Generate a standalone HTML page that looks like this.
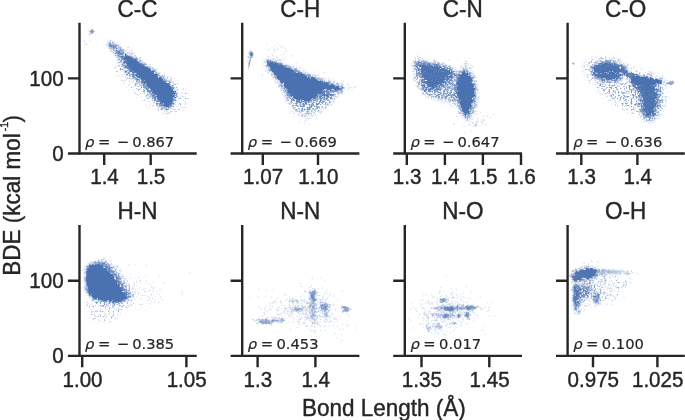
<!DOCTYPE html>
<html><head><meta charset="utf-8"><title>BDE vs Bond Length</title>
<style>html,body{margin:0;padding:0;background:#fff}svg{display:block}</style>
</head><body>
<svg width="685" height="420" viewBox="0 0 685 420">
<rect width="685" height="420" fill="#fff"/>
<defs><filter id="b" x="-10%" y="-10%" width="120%" height="120%"><feTurbulence type="fractalNoise" baseFrequency="0.35" numOctaves="2" seed="3" result="n"/><feDisplacementMap in="SourceGraphic" in2="n" scale="5" xChannelSelector="R" yChannelSelector="G"/><feGaussianBlur stdDeviation="0.5"/></filter><filter id="h" x="-15%" y="-15%" width="130%" height="130%"><feTurbulence type="fractalNoise" baseFrequency="0.3" numOctaves="2" seed="8" result="n"/><feDisplacementMap in="SourceGraphic" in2="n" scale="7" xChannelSelector="R" yChannelSelector="G"/><feGaussianBlur stdDeviation="1.3"/></filter><filter id="t8" x="-15%" y="-15%" width="130%" height="130%"><feTurbulence type="fractalNoise" baseFrequency="0.3" numOctaves="2" seed="8" result="n"/><feDisplacementMap in="SourceGraphic" in2="n" scale="7" xChannelSelector="R" yChannelSelector="G" result="s"/><feGaussianBlur in="s" stdDeviation="1.5" result="sb"/><feTurbulence type="fractalNoise" baseFrequency="0.55" numOctaves="2" seed="21" result="m"/><feColorMatrix in="m" type="matrix" values="0 0 0 0 0 0 0 0 0 0 0 0 0 0 0 0 0 0 5 -2.95" result="a"/><feComposite in="sb" in2="a" operator="in"/><feGaussianBlur stdDeviation="0.35"/></filter><filter id="t15" x="-15%" y="-15%" width="130%" height="130%"><feTurbulence type="fractalNoise" baseFrequency="0.3" numOctaves="2" seed="8" result="n"/><feDisplacementMap in="SourceGraphic" in2="n" scale="7" xChannelSelector="R" yChannelSelector="G" result="s"/><feGaussianBlur in="s" stdDeviation="1.5" result="sb"/><feTurbulence type="fractalNoise" baseFrequency="0.55" numOctaves="2" seed="21" result="m"/><feColorMatrix in="m" type="matrix" values="0 0 0 0 0 0 0 0 0 0 0 0 0 0 0 0 0 0 5 -2.7" result="a"/><feComposite in="sb" in2="a" operator="in"/><feGaussianBlur stdDeviation="0.35"/></filter><filter id="t30" x="-15%" y="-15%" width="130%" height="130%"><feTurbulence type="fractalNoise" baseFrequency="0.3" numOctaves="2" seed="8" result="n"/><feDisplacementMap in="SourceGraphic" in2="n" scale="7" xChannelSelector="R" yChannelSelector="G" result="s"/><feGaussianBlur in="s" stdDeviation="1.5" result="sb"/><feTurbulence type="fractalNoise" baseFrequency="0.55" numOctaves="2" seed="21" result="m"/><feColorMatrix in="m" type="matrix" values="0 0 0 0 0 0 0 0 0 0 0 0 0 0 0 0 0 0 5 -2.37" result="a"/><feComposite in="sb" in2="a" operator="in"/><feGaussianBlur stdDeviation="0.35"/></filter><filter id="t50" x="-15%" y="-15%" width="130%" height="130%"><feTurbulence type="fractalNoise" baseFrequency="0.3" numOctaves="2" seed="8" result="n"/><feDisplacementMap in="SourceGraphic" in2="n" scale="7" xChannelSelector="R" yChannelSelector="G" result="s"/><feGaussianBlur in="s" stdDeviation="1.5" result="sb"/><feTurbulence type="fractalNoise" baseFrequency="0.55" numOctaves="2" seed="21" result="m"/><feColorMatrix in="m" type="matrix" values="0 0 0 0 0 0 0 0 0 0 0 0 0 0 0 0 0 0 5 -2.0" result="a"/><feComposite in="sb" in2="a" operator="in"/><feGaussianBlur stdDeviation="0.35"/></filter><filter id="t70" x="-15%" y="-15%" width="130%" height="130%"><feTurbulence type="fractalNoise" baseFrequency="0.3" numOctaves="2" seed="8" result="n"/><feDisplacementMap in="SourceGraphic" in2="n" scale="7" xChannelSelector="R" yChannelSelector="G" result="s"/><feGaussianBlur in="s" stdDeviation="1.5" result="sb"/><feTurbulence type="fractalNoise" baseFrequency="0.55" numOctaves="2" seed="21" result="m"/><feColorMatrix in="m" type="matrix" values="0 0 0 0 0 0 0 0 0 0 0 0 0 0 0 0 0 0 5 -1.65" result="a"/><feComposite in="sb" in2="a" operator="in"/><feGaussianBlur stdDeviation="0.35"/></filter><filter id="t85" x="-15%" y="-15%" width="130%" height="130%"><feTurbulence type="fractalNoise" baseFrequency="0.3" numOctaves="2" seed="8" result="n"/><feDisplacementMap in="SourceGraphic" in2="n" scale="7" xChannelSelector="R" yChannelSelector="G" result="s"/><feGaussianBlur in="s" stdDeviation="1.5" result="sb"/><feTurbulence type="fractalNoise" baseFrequency="0.55" numOctaves="2" seed="21" result="m"/><feColorMatrix in="m" type="matrix" values="0 0 0 0 0 0 0 0 0 0 0 0 0 0 0 0 0 0 5 -1.3" result="a"/><feComposite in="sb" in2="a" operator="in"/><feGaussianBlur stdDeviation="0.35"/></filter></defs>
<g>
<path d="M164.3 75.2L169.0 76.7L173.5 78.6L177.5 81.0L181.2 83.8L184.5 87.1L187.0 90.8L188.7 94.9L189.5 99.3L189.5 104.0L188.5 107.9L186.3 110.7L183.1 112.6L178.8 113.6L174.6 114.3L170.6 114.8L166.7 115.0L162.9 115.0L158.8 113.9L154.5 111.8L150.0 108.6L145.2 104.3L140.7 100.2L136.4 96.4L132.4 92.9L128.6 89.5L125.0 86.0L121.7 82.1L118.6 78.1L115.7 73.8L114.3 70.5L114.3 68.1L115.7 66.7L118.6 66.2L122.9 66.3L128.6 67.0L135.7 68.3L144.3 70.2L151.9 72.0L158.6 73.7Z" fill="#4c72b0" fill-opacity="0.5" filter="url(#t8)"/>
<path d="M109.9 41.5L112.0 42.4L114.2 43.4L116.5 44.8L118.8 46.4L121.2 48.3L123.7 50.1L126.3 51.8L129.0 53.3L131.9 54.8L134.9 56.4L138.0 58.2L141.2 60.1L144.5 62.3L147.9 64.5L151.2 66.9L154.5 69.4L157.9 72.0L161.0 74.5L164.0 76.7L166.8 78.8L169.4 80.7L171.7 82.7L173.6 84.7L175.1 86.8L176.3 88.9L177.2 91.1L177.9 93.4L178.2 95.7L178.3 98.1L178.1 100.4L177.7 102.6L176.9 104.7L175.9 106.7L174.6 108.4L173.1 109.8L171.4 111.0L169.5 111.8L167.6 112.3L165.7 112.3L163.8 112.0L161.9 111.3L159.9 110.1L157.9 108.5L155.8 106.3L153.7 103.7L151.4 101.0L148.9 98.1L146.2 95.1L143.3 92.0L140.4 89.0L137.4 86.2L134.4 83.5L131.3 80.8L128.5 78.3L126.0 75.8L123.8 73.3L121.9 71.0L120.4 68.7L119.2 66.5L118.5 64.5L118.1 62.6L117.4 60.7L116.5 58.6L115.2 56.5L113.7 54.4L112.2 52.3L110.8 50.3L109.4 48.3L108.1 46.4L107.1 44.8L106.5 43.4L106.3 42.4L106.5 41.5L107.1 41.1L108.2 41.1Z" fill="#4c72b0" fill-opacity="0.6" filter="url(#t30)"/>
<path d="M111.3 43.7L112.5 44.4L113.7 45.2L114.9 46.0L116.1 46.9L117.3 47.9L118.5 48.9L119.6 49.9L120.8 51.1L122.0 52.3L123.3 53.3L124.6 54.1L126.0 54.8L127.4 55.2L128.8 55.8L130.2 56.5L131.7 57.4L133.1 58.3L134.5 59.3L136.0 60.2L137.4 61.2L138.8 62.1L140.3 63.1L141.8 64.0L143.5 65.0L145.1 66.0L146.8 67.0L148.5 68.0L150.1 69.2L151.8 70.4L153.5 71.6L155.1 72.9L156.8 74.3L158.5 75.7L160.1 77.1L161.8 78.4L163.5 79.6L165.1 80.8L166.7 82.0L168.1 83.2L169.4 84.4L170.6 85.6L171.6 86.8L172.5 88.2L173.2 89.5L173.8 91.0L174.2 92.4L174.5 93.8L174.5 95.2L174.4 96.7L174.2 98.0L173.8 99.3L173.2 100.6L172.5 101.8L171.8 102.9L171.1 104.0L170.4 105.0L169.6 106.0L168.9 106.8L168.2 107.5L167.5 108.1L166.8 108.6L166.1 108.8L165.4 108.8L164.6 108.6L163.9 108.1L163.2 107.5L162.3 106.8L161.4 106.0L160.5 105.0L159.5 104.0L158.6 102.9L157.6 101.8L156.7 100.6L155.7 99.3L154.6 98.0L153.5 96.7L152.3 95.2L151.1 93.8L149.9 92.4L148.7 91.0L147.5 89.5L146.3 88.2L145.1 86.8L143.9 85.6L142.7 84.4L141.5 83.2L140.4 82.0L139.2 80.8L138.0 79.6L136.7 78.5L135.4 77.3L134.0 76.1L132.6 74.9L131.2 73.8L129.9 72.7L128.7 71.7L127.5 70.7L126.4 69.7L125.4 68.6L124.5 67.5L123.7 66.3L123.0 65.1L122.6 63.9L122.3 62.7L122.1 61.5L121.8 60.4L121.4 59.2L120.8 58.0L120.1 56.8L119.3 55.7L118.5 54.6L117.6 53.6L116.7 52.6L115.7 51.7L114.8 50.7L113.8 49.8L112.9 48.8L112.0 47.9L111.1 46.9L110.4 46.0L109.6 45.0L109.2 44.2L108.9 43.6L108.9 43.2L109.2 43.0L109.6 43.0L110.4 43.2Z" fill="#4c72b0" fill-opacity="0.95" filter="url(#t85)"/>
<path d="M126.0 55.3L127.4 55.7L128.8 56.2L130.2 56.9L131.7 57.8L133.1 58.7L134.5 59.7L136.0 60.6L137.4 61.6L138.8 62.5L140.3 63.5L141.8 64.4L143.5 65.4L145.1 66.3L146.8 67.3L148.5 68.4L150.1 69.5L151.8 70.7L153.5 72.0L155.1 73.3L156.8 74.7L158.5 76.1L160.1 77.5L161.8 78.8L163.5 80.0L165.1 81.2L166.6 82.4L168.0 83.6L169.3 84.8L170.4 86.0L171.3 87.2L172.2 88.5L172.9 89.8L173.4 91.1L173.8 92.5L174.1 93.8L174.1 95.2L174.0 96.7L173.8 98.0L173.4 99.3L172.8 100.5L172.1 101.5L171.4 102.6L170.7 103.6L170.0 104.5L169.3 105.3L168.6 106.0L167.9 106.6L167.3 107.0L166.6 107.3L166.0 107.3L165.4 107.1L164.8 106.5L164.2 105.7L163.5 104.9L162.9 104.0L162.2 103.1L161.6 102.1L160.8 101.1L160.0 100.0L159.1 98.8L158.2 97.5L157.2 96.2L156.2 94.9L155.1 93.6L154.0 92.2L152.9 90.9L151.8 89.6L150.6 88.2L149.4 86.9L148.2 85.6L147.0 84.3L145.8 83.0L144.6 81.7L143.5 80.4L142.3 79.2L141.1 78.0L139.9 76.8L138.7 75.6L137.4 74.4L136.1 73.2L134.8 72.0L133.5 70.9L132.3 69.8L131.2 68.7L130.1 67.6L129.2 66.6L128.4 65.5L127.6 64.4L127.0 63.3L126.5 62.2L125.9 61.2L125.5 60.1L125.0 59.0L124.7 58.1L124.4 57.2L124.2 56.4L124.0 55.7L124.3 55.3L124.9 55.1Z" fill="#4c72b0" fill-opacity="1.0" filter="url(#b)"/>
<path d="M170.9 80.3h0M139.8 81.8h0M169.6 105.6h0M160.4 77.5h0M123.4 52.8h0M149.2 68.7h0M154.0 70.5h0M157.5 75.2h0M148.1 68.0h0M171.6 103.2h0M160.7 105.5h0M174.5 97.3h0M171.3 103.8h0M118.0 48.2h0M136.6 83.5h0M148.7 91.4h0M155.7 99.7h0M169.6 81.1h0M121.0 48.0h0M121.0 57.9h0M136.8 60.6h0M123.4 50.3h0M161.1 105.7h0M122.0 64.5h0M166.2 81.9h0M128.1 47.6h0M134.6 77.1h0M151.8 95.8h0M130.5 56.6h0M120.6 51.1h0M158.6 73.7h0M170.5 104.6h0M166.8 111.2h0M133.8 58.3h0M120.7 50.8h0M147.0 66.5h0M118.9 59.6h0M109.9 44.9h0M169.4 81.6h0M121.2 51.0h0M173.4 87.1h0M121.4 62.0h0M122.5 49.2h0M156.8 74.3h0M161.2 77.3h0M125.8 76.8h0M132.0 54.7h0M175.3 92.0h0M147.4 89.6h0M120.9 47.7h0M170.3 85.2h0M174.7 97.2h0M165.3 79.0h0M159.7 76.0h0M168.5 107.6h0M147.9 89.7h0M167.9 81.5h0M170.1 81.1h0M143.9 86.1h0M161.6 76.9h0M153.0 96.7h0M171.1 108.5h0M129.8 56.2h0M160.7 105.3h0M137.7 61.7h0M161.4 107.5h0M159.5 104.5h0M115.1 68.0h0M148.1 90.9h0M156.8 72.6h0M123.2 52.3h0M118.1 45.8h0M152.2 68.0h0M137.1 79.8h0M147.0 95.8h0M136.4 57.6h0M124.1 67.5h0M157.2 105.9h0M166.6 80.8h0M115.3 46.7h0M159.9 75.7h0M134.9 79.1h0M135.7 78.2h0M117.1 52.9h0M174.5 95.7h0M173.3 87.4h0M115.2 51.1h0M129.1 72.9h0M137.8 83.2h0M116.3 52.5h0M109.3 44.0h0M155.4 100.0h0M115.2 44.7h0M127.9 53.3h0M108.8 45.2h0M150.6 67.0h0M121.3 60.8h0M174.5 96.4h0M110.6 43.4h0M131.7 57.6h0" stroke="#4c72b0" stroke-opacity="0.3" stroke-width="1.5" stroke-linecap="round" fill="none"/>
<path d="M119.9 50.5h0M156.5 73.0h0M142.3 64.2h0M115.1 53.4h0M149.8 94.7h0M131.3 56.5h0M127.0 74.8h0M139.0 61.0h0M117.8 55.4h0M131.3 74.4h0M145.6 66.4h0M123.5 52.6h0M131.8 57.5h0M161.9 106.9h0M170.5 106.9h0M166.5 109.3h0M147.5 67.4h0M171.9 85.6h0M141.4 85.0h0M117.0 55.0h0M171.7 87.2h0M174.4 97.2h0M143.0 84.6h0M158.3 75.5h0M113.5 50.3h0M125.9 53.6h0M136.4 58.5h0M170.6 104.5h0M117.2 58.2h0M164.3 74.7h0M120.6 47.3h0M144.6 87.4h0M132.2 53.0h0M120.4 61.0h0M115.4 46.4h0M143.7 64.5h0M128.0 71.9h0M147.4 89.1h0M151.5 93.9h0M126.3 71.5h0M118.4 62.8h0M140.0 82.5h0M116.4 55.3h0M110.0 47.2h0M116.3 52.7h0M157.7 75.0h0M175.0 97.7h0M119.4 46.1h0M155.7 99.1h0M170.9 105.6h0M133.3 56.4h0M120.8 58.5h0M156.6 102.3h0M162.5 106.9h0M134.5 77.0h0M136.3 80.9h0M134.7 59.4h0M172.3 88.4h0M169.9 82.7h0M152.2 97.7h0M152.9 70.0h0M171.0 79.0h0M109.9 45.7h0M121.9 66.7h0M138.1 80.0h0M137.0 61.2h0M164.2 109.0h0M129.4 72.1h0M157.6 101.4h0M175.1 93.7h0M111.0 48.3h0M113.1 52.6h0M126.0 54.9h0M166.2 80.8h0M152.2 95.5h0M120.8 51.4h0M143.7 87.0h0M174.5 88.8h0M135.8 56.9h0M139.9 60.9h0M133.2 75.1h0M115.0 45.5h0M113.1 44.6h0M120.3 56.8h0M127.0 70.2h0M172.8 100.8h0M164.1 75.0h0M163.3 79.0h0M134.1 57.9h0M158.4 108.6h0M115.7 45.6h0M151.6 68.7h0M176.4 100.9h0M171.9 86.0h0M132.6 57.4h0M123.4 65.8h0M145.7 88.4h0M136.1 58.4h0M175.3 91.1h0M125.9 71.3h0" stroke="#4c72b0" stroke-opacity="0.3" stroke-width="1.5" stroke-linecap="round" fill="none"/>
<path d="M173.6 85.2h0M173.5 100.3h0M120.0 56.7h0M135.8 59.2h0M132.4 75.6h0M118.8 49.2h0M144.0 64.2h0M125.3 50.5h0M163.4 108.3h0M115.0 50.9h0M124.6 49.8h0M156.7 100.9h0M132.9 78.5h0M174.5 99.3h0M137.6 94.4h0M147.1 89.5h0M169.2 83.9h0M152.6 98.4h0M135.8 60.5h0M132.6 57.8h0M153.9 97.5h0M143.1 85.5h0M110.8 46.4h0M137.3 59.3h0M115.9 45.9h0M116.4 46.2h0M155.0 100.6h0M174.5 92.4h0M139.7 83.4h0M173.9 91.0h0M153.7 103.0h0M113.1 49.8h0M154.9 99.3h0M173.1 81.7h0M171.0 106.5h0M174.7 94.2h0M156.0 73.6h0M133.5 75.6h0M138.3 59.1h0M126.4 73.1h0M129.6 55.9h0M175.0 109.4h0M136.4 79.5h0M173.9 99.8h0M149.4 97.7h0M131.4 51.1h0M160.1 77.2h0M142.4 64.6h0M110.4 45.7h0M130.8 55.0h0M166.7 109.9h0M115.8 44.7h0M117.4 56.5h0M137.0 58.4h0M119.7 57.0h0M123.0 53.4h0M141.5 63.7h0M147.7 91.5h0M164.4 108.6h0M154.5 97.9h0M155.8 73.3h0M141.6 62.8h0M172.7 89.0h0M121.7 51.6h0M125.2 71.7h0M160.4 76.7h0M153.2 97.0h0M120.4 56.7h0M117.9 44.9h0M110.6 40.4h0M130.7 76.8h0M120.1 57.1h0M140.3 60.7h0M169.3 107.5h0M171.4 86.5h0M173.1 101.1h0M169.9 112.8h0M120.0 56.1h0M161.5 108.6h0M159.9 104.7h0M132.2 75.1h0M170.5 105.8h0M117.3 56.3h0M147.1 88.7h0M137.4 78.9h0M117.1 53.3h0M173.0 102.1h0M125.1 72.7h0M135.0 55.2h0M128.0 72.8h0M176.4 93.9h0M128.4 73.1h0M110.5 42.3h0M125.1 54.6h0M126.8 71.5h0M114.9 46.0h0M145.9 64.3h0M153.2 68.6h0M119.8 59.8h0M139.8 57.7h0" stroke="#4c72b0" stroke-opacity="0.3" stroke-width="1.5" stroke-linecap="round" fill="none"/>
<path d="M91.9 29.8h0M92.4 31.9h0M91.6 30.7h0M91.4 32.3h0M92.6 31.9h0M91.9 31.5h0M91.5 31.4h0M92.7 31.6h0M92.6 31.4h0M92.6 33.2h0M92.1 31.3h0M92.6 31.0h0M91.3 31.9h0M90.0 31.4h0M91.7 31.1h0" stroke="#4c72b0" stroke-opacity="0.35" stroke-width="1.5" stroke-linecap="round" fill="none"/>
<path d="M93.1 31.9h0M92.0 31.9h0M91.1 32.3h0M92.3 30.2h0M92.0 30.6h0M91.6 31.9h0M92.5 32.7h0M91.0 32.1h0M92.2 30.4h0M91.1 31.4h0M91.7 31.8h0M92.0 32.7h0M93.4 31.1h0M91.1 32.2h0M91.9 31.1h0" stroke="#4c72b0" stroke-opacity="0.35" stroke-width="1.5" stroke-linecap="round" fill="none"/>
<path d="M91.7 30.8h0M92.5 30.9h0M89.9 31.3h0M91.1 33.6h0M91.1 30.9h0M93.6 31.6h0M92.6 30.4h0M91.9 31.3h0M92.6 32.0h0M92.0 32.0h0M92.3 32.1h0M91.6 29.9h0M92.5 30.5h0M91.9 30.5h0M92.1 32.0h0" stroke="#4c72b0" stroke-opacity="0.35" stroke-width="1.5" stroke-linecap="round" fill="none"/>
<path d="M90.1 34.8h0M92.6 32.1h0M95.8 34.6h0M89.9 33.5h0" stroke="#4c72b0" stroke-opacity="0.18" stroke-width="1.5" stroke-linecap="round" fill="none"/>
<path d="M90.5 33.8h0M90.1 32.2h0M90.2 31.9h0M89.2 34.3h0" stroke="#4c72b0" stroke-opacity="0.18" stroke-width="1.5" stroke-linecap="round" fill="none"/>
<path d="M93.2 30.0h0M95.1 31.6h0M90.4 40.6h0M88.3 29.7h0" stroke="#4c72b0" stroke-opacity="0.18" stroke-width="1.5" stroke-linecap="round" fill="none"/>
<path d="M84.1 40.9h0M84.8 41.6h0" stroke="#4c72b0" stroke-opacity="0.2" stroke-width="1.5" stroke-linecap="round" fill="none"/>
<path d="M87.0 44.4h0M85.3 44.7h0" stroke="#4c72b0" stroke-opacity="0.2" stroke-width="1.5" stroke-linecap="round" fill="none"/>
<path d="M85.9 43.6h0" stroke="#4c72b0" stroke-opacity="0.2" stroke-width="1.5" stroke-linecap="round" fill="none"/>
</g>
<g>
<path d="M286.9 91.4L289.1 94.3L291.7 96.7L294.6 98.7L297.7 100.3L301.1 101.4L304.4 102.0L307.6 102.0L310.6 101.4L313.4 100.3L316.6 99.3L320.0 98.4L323.7 97.7L327.7 97.1L330.9 97.0L333.1 97.3L334.6 98.0L335.1 99.1L335.0 100.4L334.1 101.9L332.6 103.4L330.3 105.1L327.9 106.9L325.3 108.6L322.6 110.3L319.7 112.0L317.0 113.5L314.4 114.8L312.0 115.9L309.7 116.7L307.4 117.1L305.1 116.9L302.9 116.3L300.6 115.1L298.4 113.8L296.2 112.2L294.1 110.4L292.1 108.4L290.3 106.4L288.6 104.2L287.0 102.0L285.6 99.7L284.5 97.4L283.8 95.1L283.4 92.9L283.4 90.6L284.0 89.6L285.1 89.9Z" fill="#4c72b0" fill-opacity="0.5" filter="url(#t30)"/>
<path d="M267.0 59.5L269.0 59.4L271.6 59.8L274.9 60.7L278.9 62.0L283.4 63.8L288.0 65.7L292.6 67.5L297.1 69.4L301.7 71.3L306.3 73.1L310.9 74.9L315.4 76.6L320.0 78.3L324.6 79.9L329.4 81.4L334.1 83.0L339.0 84.5L342.4 85.9L344.4 87.2L345.0 88.4L344.1 89.5L343.1 90.7L341.8 91.9L340.3 93.1L338.6 94.4L336.7 95.8L334.7 97.3L332.6 98.9L330.3 100.6L328.0 102.2L325.7 103.8L323.4 105.3L321.1 106.7L318.9 107.9L316.6 108.9L314.3 109.7L312.0 110.3L309.6 110.6L307.2 110.6L304.7 110.3L302.1 109.7L299.6 108.9L297.2 107.7L294.9 106.3L292.6 104.6L290.5 102.6L288.6 100.5L287.0 98.1L285.6 95.6L284.1 93.0L282.5 90.4L280.9 87.9L279.1 85.3L277.4 82.7L275.7 80.1L274.0 77.6L272.3 75.0L270.7 72.6L269.2 70.5L267.8 68.6L266.6 66.9L265.6 65.3L264.9 63.9L264.4 62.6L264.3 61.4L264.6 60.5L265.5 59.9Z" fill="#4c72b0" fill-opacity="0.6" filter="url(#t50)"/>
<path d="M323.0 92.2L325.0 92.2L326.9 92.3L328.6 92.6L330.1 93.0L331.6 93.6L332.6 94.2L333.1 94.9L333.3 95.6L333.0 96.3L332.3 96.9L331.1 97.5L329.6 97.9L327.6 98.1L325.6 98.4L323.6 98.5L321.6 98.6L319.6 98.6L318.3 98.2L317.7 97.4L317.9 96.2L318.7 94.6L319.9 93.4L321.3 92.6Z" fill="#4c72b0" fill-opacity="0.9" filter="url(#t85)"/>
<path d="M268.4 61.8L269.9 61.7L271.5 61.8L273.4 62.2L275.4 62.7L277.7 63.5L280.0 64.4L282.3 65.3L284.6 66.3L286.9 67.3L289.1 68.3L291.4 69.4L293.7 70.4L296.0 71.4L298.3 72.4L300.6 73.4L302.9 74.3L305.1 75.1L307.4 76.0L309.7 76.8L312.0 77.7L314.3 78.5L316.6 79.4L318.9 80.2L321.1 81.0L323.4 81.8L325.7 82.6L328.0 83.4L330.3 84.1L332.6 84.9L334.8 85.6L336.9 86.2L339.0 86.7L341.0 87.1L342.3 87.6L342.9 87.9L342.7 88.3L341.9 88.5L340.8 88.8L339.5 89.1L338.0 89.3L336.3 89.5L334.6 89.7L333.1 89.8L331.6 89.9L330.1 89.9L328.8 89.9L327.5 89.8L326.3 89.7L325.1 89.6L324.1 89.7L323.1 90.1L322.1 90.7L321.3 91.6L320.4 92.4L319.6 93.3L318.7 94.1L317.9 95.0L316.9 95.9L315.9 96.7L314.9 97.6L313.7 98.4L312.5 99.2L311.2 99.8L309.9 100.4L308.4 100.9L307.0 101.2L305.6 101.3L304.1 101.3L302.7 101.1L301.3 100.8L299.9 100.5L298.4 100.0L297.0 99.4L295.6 98.8L294.4 98.1L293.1 97.3L292.0 96.4L290.9 95.5L289.9 94.4L289.0 93.2L288.1 91.9L287.3 90.6L286.4 89.3L285.6 88.0L284.7 86.7L283.8 85.4L282.8 84.1L281.7 82.7L280.6 81.3L279.4 79.9L278.3 78.4L277.1 77.0L276.0 75.6L274.9 74.1L273.7 72.7L272.6 71.3L271.4 69.9L270.4 68.6L269.5 67.4L268.7 66.4L268.0 65.6L267.4 64.8L267.0 64.1L266.7 63.4L266.5 62.9L266.8 62.4L267.4 62.1Z" fill="#4c72b0" fill-opacity="1.0" filter="url(#b)"/>
<ellipse cx="251.6" cy="54.3" rx="1.3" ry="1.6" fill="#4c72b0" fill-opacity="0.8"/>
<path d="M251.3 55.0L250.2 60.0L249.3 64.0" stroke="#4c72b0" stroke-opacity="0.55" stroke-width="1.3" stroke-linecap="round" fill="none"/>
<path d="M249.3 64.0L248.0 69.5" stroke="#4c72b0" stroke-opacity="0.3" stroke-width="0.9" stroke-linecap="round" fill="none"/>
<path d="M290.2 68.1h0M321.2 93.0h0M304.7 101.1h0M286.0 93.3h0M309.6 75.2h0M309.9 77.0h0M292.9 96.9h0M319.0 94.7h0M333.7 91.8h0M314.7 98.4h0M305.5 102.3h0M278.8 84.8h0M315.9 75.6h0M308.9 74.2h0M274.5 61.7h0M278.8 78.8h0M273.6 73.0h0M318.9 98.6h0M301.7 73.5h0M340.9 91.6h0M328.4 82.3h0M270.3 60.5h0M268.5 61.7h0M302.3 103.4h0M296.9 99.5h0M321.4 91.0h0M306.4 101.6h0M317.3 79.0h0M290.5 95.2h0M306.9 75.9h0M317.2 97.8h0M304.3 75.0h0M295.9 70.6h0M316.9 97.1h0M270.3 61.4h0M324.9 91.2h0M289.3 67.0h0M316.4 97.2h0M323.4 92.7h0M297.9 100.7h0M314.5 78.9h0M273.1 77.8h0M290.2 68.3h0M323.0 81.4h0M312.0 99.6h0M328.1 83.3h0M330.8 92.5h0M329.3 84.1h0M288.0 66.2h0M337.6 86.5h0M276.7 77.2h0M268.2 72.9h0M280.5 62.9h0M281.5 82.9h0M309.9 101.3h0M289.1 94.8h0M296.4 99.6h0M315.7 79.2h0M308.1 76.3h0M287.8 65.5h0M286.8 98.7h0M328.7 80.3h0M342.1 87.0h0M276.2 62.8h0M323.6 82.0h0M325.1 81.6h0M293.9 98.1h0M287.0 90.2h0M321.1 81.1h0M335.9 90.9h0M270.3 70.8h0M329.6 82.7h0M314.9 99.2h0M333.4 84.2h0M323.8 95.3h0M286.4 67.0h0M324.2 89.8h0M310.4 77.4h0M268.8 67.9h0M315.6 98.0h0M333.2 84.6h0M328.8 83.8h0M326.6 89.8h0M323.5 91.2h0M296.2 99.3h0M330.0 91.3h0M272.2 62.0h0M308.1 101.5h0M266.3 65.2h0M315.7 96.9h0M288.3 67.3h0M293.0 97.3h0M316.5 99.1h0M327.7 82.4h0M322.8 81.8h0M290.6 66.8h0M296.0 68.5h0M300.9 100.5h0M334.0 85.2h0M285.0 65.5h0M290.3 94.7h0M301.9 104.6h0M336.8 85.6h0M332.7 84.5h0M328.6 83.2h0M341.7 88.9h0M298.7 100.7h0M320.2 96.4h0M330.1 84.3h0M307.9 102.7h0M271.7 61.8h0M320.7 92.3h0M281.2 84.5h0M289.3 97.0h0M335.4 90.0h0M285.1 86.9h0M305.2 73.6h0M287.4 93.6h0M286.1 90.1h0M322.5 91.2h0M322.9 95.1h0M322.8 96.0h0M292.3 99.2h0M302.1 104.9h0M312.1 77.2h0M320.8 92.2h0M340.7 89.2h0M287.5 90.8h0M295.2 98.5h0M331.0 90.0h0M269.0 70.2h0M305.8 101.9h0M299.1 101.7h0M329.6 84.0h0M290.3 68.8h0M317.0 105.9h0M288.2 93.0h0M271.7 61.1h0M299.8 101.0h0M296.6 101.3h0M311.0 76.9h0M305.7 102.6h0M275.3 62.3h0M312.6 101.0h0M282.0 83.3h0M328.5 92.5h0M269.4 67.8h0M325.3 82.7h0M312.6 77.6h0M302.5 104.0h0M289.5 93.4h0M322.2 91.4h0M269.3 61.3h0M272.2 71.4h0M286.9 91.1h0M279.1 64.1h0M300.2 72.4h0M311.4 77.1h0M283.0 90.5h0M333.7 91.3h0M335.2 85.4h0M286.7 65.2h0M341.8 86.7h0M311.6 77.7h0M324.1 89.1h0M295.7 103.6h0M341.5 90.2h0M268.3 65.4h0M286.1 95.3h0M316.1 97.7h0M291.5 96.4h0M285.0 89.8h0M309.7 76.8h0M289.8 68.2h0M298.7 108.4h0M308.6 101.9h0M302.9 74.4h0M315.1 103.1h0M324.3 91.7h0M332.5 91.1h0M340.1 89.0h0M327.8 90.7h0M295.0 70.5h0M289.7 97.1h0M322.5 90.3h0M295.1 70.2h0M301.8 74.1h0M280.1 63.7h0M317.5 96.1h0M308.0 75.4h0M298.8 70.5h0M282.0 64.2h0M288.0 91.9h0M316.0 79.1h0M308.3 102.4h0M301.9 74.1h0M298.3 100.1h0M269.0 61.7h0M341.9 91.1h0M295.8 71.0h0" stroke="#4c72b0" stroke-opacity="0.3" stroke-width="1.5" stroke-linecap="round" fill="none"/>
<path d="M282.2 86.3h0M307.9 101.1h0M300.9 73.5h0M286.0 65.7h0M308.4 101.1h0M278.1 63.9h0M270.0 61.0h0M275.8 79.0h0M334.9 85.7h0M278.2 63.8h0M281.1 64.7h0M342.7 87.5h0M321.3 92.1h0M317.0 96.6h0M334.5 89.6h0M322.4 81.5h0M290.9 97.1h0M308.6 76.7h0M337.4 89.5h0M325.9 89.5h0M318.3 94.8h0M299.5 73.2h0M323.0 92.8h0M290.6 97.1h0M334.4 92.7h0M325.7 91.7h0M295.1 98.7h0M281.3 82.4h0M274.5 62.2h0M338.3 89.9h0M280.1 63.2h0M304.0 72.5h0M303.5 74.2h0M288.6 96.8h0M341.5 89.4h0M311.6 104.9h0M288.6 98.3h0M299.5 100.7h0M315.1 98.3h0M322.8 90.2h0M321.1 92.5h0M293.4 99.0h0M276.0 62.9h0M314.4 97.6h0M298.3 72.2h0M290.7 95.6h0M309.3 77.0h0M324.7 81.0h0M306.8 101.1h0M337.9 90.2h0M302.0 73.0h0M327.4 89.7h0M272.0 71.8h0M305.8 101.8h0M302.8 102.5h0M314.0 78.6h0M329.6 89.8h0M267.7 61.8h0M282.8 65.6h0M294.1 70.7h0M336.5 86.2h0M314.0 98.0h0M290.0 95.5h0M298.9 72.1h0M340.6 88.9h0M321.0 98.5h0M271.0 69.3h0M316.8 78.6h0M339.7 89.1h0M296.1 99.0h0M311.9 102.5h0M310.6 100.1h0M322.1 79.3h0M298.9 99.9h0M336.8 86.4h0M331.2 91.6h0M317.5 80.1h0M271.4 74.8h0M332.9 90.0h0M276.7 78.2h0M267.7 67.5h0M275.7 62.2h0M303.2 102.1h0M314.3 97.9h0M330.2 90.0h0M304.3 105.0h0M295.7 103.0h0M318.5 97.3h0M337.2 90.7h0M311.9 102.7h0M314.8 97.7h0M313.0 105.5h0M339.6 90.5h0M323.4 81.6h0M294.3 100.3h0M279.5 63.9h0M321.6 81.3h0M319.2 95.4h0M286.2 93.1h0M301.6 73.7h0M300.1 103.8h0M295.8 70.9h0M289.2 93.2h0M327.2 92.3h0M327.7 82.8h0M293.9 69.3h0M333.0 92.6h0M286.3 93.8h0M334.2 81.7h0M319.4 94.6h0M318.8 95.4h0M330.9 90.4h0M334.9 91.5h0M330.8 84.2h0M309.9 75.7h0M319.3 93.6h0M320.6 92.8h0M268.3 61.1h0M302.0 101.3h0M328.6 91.9h0M317.5 79.9h0M275.6 83.0h0M299.5 72.3h0M308.9 76.2h0M291.1 69.1h0M336.0 85.9h0M303.8 74.6h0M294.6 71.0h0M327.3 83.3h0M296.8 71.7h0M329.5 96.0h0M329.9 91.9h0M267.2 60.4h0M277.1 79.8h0M307.2 101.7h0M304.2 101.3h0M289.0 93.4h0M307.7 101.3h0M289.9 94.1h0M314.5 78.8h0M329.1 89.9h0M330.4 83.1h0M276.0 79.1h0M293.1 68.3h0M302.8 101.4h0M290.6 96.1h0M280.5 81.5h0M331.9 84.4h0M300.0 100.6h0M327.1 83.2h0M301.0 100.9h0M328.5 90.1h0M270.8 70.9h0M331.1 84.6h0M282.6 65.3h0M289.7 94.3h0M275.5 62.8h0M330.7 84.4h0M268.8 66.8h0M312.1 104.1h0M267.9 61.0h0M337.0 91.5h0M333.5 90.2h0M342.7 84.7h0M290.9 69.2h0M309.0 76.0h0M342.8 88.2h0M283.3 64.9h0M268.3 60.3h0M316.6 97.0h0M296.7 101.0h0M309.4 101.1h0M288.8 97.3h0M300.8 101.7h0M331.9 94.6h0M342.6 86.1h0M326.2 90.1h0M334.0 85.0h0M333.1 93.0h0M304.8 102.9h0M275.4 62.7h0M291.4 69.6h0M339.9 89.7h0M328.3 83.3h0M337.4 83.8h0M324.3 82.1h0M342.3 92.0h0M326.7 90.5h0M273.3 61.6h0M291.3 96.1h0M318.7 99.3h0M309.8 75.0h0M268.6 60.4h0M324.6 81.6h0M330.0 90.6h0M331.3 84.6h0M276.5 76.1h0M297.3 103.1h0M301.6 73.0h0M330.8 90.4h0" stroke="#4c72b0" stroke-opacity="0.3" stroke-width="1.5" stroke-linecap="round" fill="none"/>
<path d="M273.3 72.4h0M304.8 103.5h0M300.1 72.6h0M281.6 87.1h0M293.8 98.3h0M290.4 66.7h0M342.1 93.7h0M315.7 99.1h0M273.8 62.4h0M331.8 92.2h0M281.0 64.5h0M288.6 93.0h0M309.1 74.2h0M282.0 64.9h0M305.9 103.2h0M332.8 90.3h0M301.1 102.4h0M269.3 70.8h0M299.5 102.1h0M288.4 67.9h0M339.7 86.7h0M298.8 73.0h0M331.6 90.3h0M335.8 85.5h0M337.3 86.4h0M274.9 62.7h0M280.3 83.1h0M335.8 85.8h0M286.2 65.5h0M281.2 84.7h0M309.2 101.0h0M297.4 103.4h0M274.7 62.0h0M305.8 102.6h0M319.6 93.5h0M277.6 63.7h0M340.2 92.6h0M332.1 89.8h0M339.1 90.9h0M305.2 75.0h0M304.0 104.0h0M270.4 60.9h0M311.5 77.4h0M318.7 94.9h0M325.3 90.6h0M322.2 81.3h0M285.0 96.1h0M313.1 76.6h0M314.1 98.4h0M321.0 79.0h0M321.7 81.0h0M291.2 68.8h0M300.5 102.9h0M326.0 90.9h0M286.8 96.2h0M293.7 97.6h0M341.1 90.0h0M298.9 72.8h0M302.2 103.1h0M319.5 78.8h0M307.7 101.1h0M335.3 89.5h0M326.0 91.5h0M316.7 79.5h0M318.2 95.4h0M294.3 109.5h0M288.3 67.2h0M271.9 73.4h0M266.7 66.0h0M284.4 86.7h0M321.2 91.5h0M300.7 102.6h0M323.3 81.8h0M343.0 88.4h0M329.6 84.2h0M268.4 59.3h0M322.2 92.9h0M343.5 87.7h0M300.9 73.4h0M341.4 93.6h0M299.9 73.2h0M268.8 62.0h0M265.6 70.5h0M274.2 62.2h0M305.5 102.2h0M294.9 98.6h0M283.5 66.0h0M334.6 85.4h0M340.7 86.6h0M273.9 73.3h0M302.6 101.1h0M326.2 89.5h0M299.4 71.9h0M340.8 86.9h0M341.5 92.4h0M291.1 96.6h0M285.2 90.5h0M299.1 72.4h0M273.9 62.4h0M282.0 84.0h0M279.7 80.0h0M327.8 82.9h0M294.5 100.5h0M301.4 110.6h0M313.0 99.2h0M318.4 97.3h0M278.5 63.7h0M298.3 101.2h0M297.5 100.4h0M298.7 101.1h0M270.3 61.5h0M291.6 68.3h0M310.8 99.9h0M314.6 102.0h0M279.2 86.6h0M302.0 100.9h0M320.7 92.2h0M342.3 88.9h0M304.7 75.2h0M277.7 62.8h0M270.2 68.2h0M274.0 76.3h0M277.4 62.8h0M329.0 83.4h0M298.7 72.0h0M293.4 97.9h0M278.9 63.9h0M268.0 61.6h0M302.8 100.9h0M336.2 90.2h0M314.8 98.9h0M294.4 70.6h0M309.5 102.4h0M320.7 81.0h0M280.9 89.9h0M292.5 70.0h0M289.4 67.8h0M300.3 73.5h0M335.1 90.7h0M298.7 101.3h0M287.8 91.8h0M296.3 102.0h0M301.2 101.2h0M274.2 61.9h0M287.4 91.0h0M341.5 88.6h0M297.0 69.0h0M339.6 86.7h0M289.8 94.2h0M282.6 85.6h0M289.8 94.3h0M283.9 64.8h0M319.4 79.4h0M309.6 77.0h0M301.7 72.0h0M286.6 66.1h0M284.8 92.6h0M319.9 79.6h0M273.9 62.6h0M341.6 89.1h0M335.7 85.3h0M297.2 101.5h0M340.5 89.5h0M311.0 76.6h0M327.7 91.1h0M266.7 61.8h0M267.2 62.2h0M324.5 91.0h0M302.3 74.1h0M316.0 100.1h0M338.6 86.6h0M318.8 93.7h0M301.3 73.2h0M316.0 79.4h0M281.7 63.3h0M331.7 84.7h0M289.0 94.3h0M308.2 75.6h0M286.7 67.0h0M289.0 95.5h0M299.0 72.9h0M304.2 74.0h0M294.2 98.7h0M276.4 76.5h0M294.5 69.5h0M290.4 67.7h0M335.8 90.5h0M305.0 103.9h0M332.3 84.1h0M329.1 95.8h0M318.8 80.4h0M281.3 82.7h0M280.0 64.5h0M287.8 94.0h0M297.1 101.8h0M334.4 89.8h0M297.7 101.8h0M296.9 70.0h0M262.3 75.2h0M311.4 101.2h0" stroke="#4c72b0" stroke-opacity="0.3" stroke-width="1.5" stroke-linecap="round" fill="none"/>
<path d="M352.0 89.9h0M320.4 113.3h0M288.1 65.3h0M303.8 97.9h0M333.4 85.2h0M310.0 75.0h0M266.9 61.2h0M303.6 115.1h0M299.2 122.1h0M277.7 58.3h0M294.9 110.5h0M303.2 111.3h0M296.1 68.5h0M308.7 104.8h0M309.8 113.4h0M318.5 77.8h0M312.8 116.4h0M308.4 114.4h0M304.3 105.1h0M306.1 115.6h0M330.1 82.1h0M312.0 112.0h0M290.2 112.9h0M305.0 115.9h0M334.0 82.2h0M329.2 83.4h0M341.6 86.3h0M299.2 110.4h0M313.6 113.1h0M324.0 72.7h0M293.7 116.8h0M303.2 109.9h0M280.5 60.0h0M321.1 80.6h0M270.7 61.2h0M306.2 116.2h0M306.5 121.8h0M340.9 81.9h0M298.4 114.6h0M296.5 69.2h0" stroke="#4c72b0" stroke-opacity="0.2" stroke-width="1.5" stroke-linecap="round" fill="none"/>
<path d="M312.5 110.8h0M308.6 111.7h0M304.6 113.5h0M273.1 55.7h0M308.6 110.7h0M295.9 111.1h0M348.7 88.0h0M297.2 111.5h0M296.7 71.3h0M353.6 87.6h0M302.5 111.1h0M315.4 78.7h0M308.0 113.4h0M349.8 86.8h0M311.7 111.1h0M307.1 111.2h0M280.4 64.7h0M330.3 80.2h0M324.9 79.7h0M312.2 104.4h0M304.3 123.7h0M355.4 87.2h0M348.3 84.6h0M300.4 112.8h0M281.6 63.9h0M335.7 85.4h0M355.3 86.9h0M321.3 78.5h0M348.3 89.4h0M316.6 118.2h0M322.6 78.2h0M279.3 59.6h0M300.6 111.3h0M291.7 111.1h0M279.7 63.3h0M270.4 60.8h0M307.9 108.7h0M334.4 81.0h0M294.7 69.6h0M301.3 112.0h0" stroke="#4c72b0" stroke-opacity="0.2" stroke-width="1.5" stroke-linecap="round" fill="none"/>
<path d="M340.9 83.8h0M302.8 104.7h0M276.3 56.9h0M309.8 111.2h0M321.6 111.5h0M293.8 113.3h0M309.4 117.9h0M283.0 58.4h0M320.0 112.2h0M273.3 58.8h0M314.4 105.5h0M292.3 68.8h0M318.1 74.7h0M310.8 118.3h0M351.0 87.7h0M305.0 120.6h0M318.6 79.1h0M333.7 78.7h0M313.4 108.7h0M300.4 112.7h0M311.5 105.4h0M328.6 77.9h0M347.5 84.5h0M343.4 82.1h0M301.7 116.1h0M299.5 67.4h0M308.7 124.6h0M301.7 109.0h0M299.6 109.5h0M291.7 55.8h0M315.5 115.2h0M293.4 66.1h0M296.1 63.0h0M296.3 71.1h0M304.2 116.6h0M307.8 116.3h0M328.8 81.7h0M313.4 111.2h0M289.6 68.7h0M268.8 56.4h0" stroke="#4c72b0" stroke-opacity="0.2" stroke-width="1.5" stroke-linecap="round" fill="none"/>
<path d="M248.8 53.6h0M250.9 52.6h0M251.8 53.4h0M251.9 54.6h0M252.5 52.9h0M251.0 54.4h0M251.5 53.9h0M251.3 54.3h0M251.3 53.1h0M252.0 53.9h0M252.1 52.7h0M250.6 54.5h0M250.9 54.5h0M249.9 55.4h0M250.5 54.1h0M252.2 53.6h0M252.3 53.1h0M251.6 52.1h0M250.4 54.2h0M251.6 54.8h0" stroke="#4c72b0" stroke-opacity="0.35" stroke-width="1.5" stroke-linecap="round" fill="none"/>
<path d="M252.2 56.7h0M251.7 55.5h0M250.8 52.4h0M251.7 54.9h0M251.3 52.2h0M252.8 54.8h0M251.7 53.3h0M252.0 55.6h0M251.2 55.0h0M250.2 52.2h0M251.0 54.0h0M251.8 55.1h0M251.0 52.5h0M250.5 54.5h0M250.9 50.9h0M249.9 52.6h0M250.9 55.0h0M250.5 53.3h0M250.4 54.0h0M250.9 52.1h0" stroke="#4c72b0" stroke-opacity="0.35" stroke-width="1.5" stroke-linecap="round" fill="none"/>
<path d="M250.4 54.9h0M251.6 56.9h0M251.5 55.3h0M252.7 53.3h0M251.3 53.4h0M252.0 55.0h0M249.9 53.4h0M252.6 56.7h0M253.0 55.0h0M252.3 53.3h0M251.4 55.4h0M251.5 54.6h0M252.0 54.4h0M249.6 52.2h0M251.5 54.8h0M250.8 53.5h0M252.2 53.0h0M251.7 54.4h0M250.9 52.6h0M250.5 54.2h0" stroke="#4c72b0" stroke-opacity="0.35" stroke-width="1.5" stroke-linecap="round" fill="none"/>
<path d="M248.9 65.7h0M249.4 63.7h0M249.3 63.4h0M248.6 59.9h0M248.8 57.3h0" stroke="#4c72b0" stroke-opacity="0.25" stroke-width="1.5" stroke-linecap="round" fill="none"/>
<path d="M248.8 57.3h0M248.9 65.7h0M249.4 57.5h0M248.4 56.7h0M247.5 57.0h0" stroke="#4c72b0" stroke-opacity="0.25" stroke-width="1.5" stroke-linecap="round" fill="none"/>
<path d="M249.1 64.9h0M247.0 61.1h0M248.4 62.7h0M249.6 61.4h0" stroke="#4c72b0" stroke-opacity="0.25" stroke-width="1.5" stroke-linecap="round" fill="none"/>
<path d="M274.9 46.3h0M277.4 48.4h0M277.2 48.5h0M271.8 53.4h0M273.7 50.8h0M285.9 48.6h0M286.4 50.9h0M283.6 54.2h0M281.5 47.1h0" stroke="#4c72b0" stroke-opacity="0.15" stroke-width="1.5" stroke-linecap="round" fill="none"/>
<path d="M280.9 55.0h0M266.8 43.6h0M283.8 52.0h0M268.2 50.2h0M269.6 49.8h0M281.6 47.6h0M286.5 50.8h0M274.8 49.3h0" stroke="#4c72b0" stroke-opacity="0.15" stroke-width="1.5" stroke-linecap="round" fill="none"/>
<path d="M284.8 47.9h0M272.2 47.7h0M272.7 55.3h0M279.8 45.7h0M274.5 49.6h0M278.0 49.5h0M274.8 51.8h0M282.8 45.6h0" stroke="#4c72b0" stroke-opacity="0.15" stroke-width="1.5" stroke-linecap="round" fill="none"/>
</g>
<g>
<path d="M429.3 62.9L438.4 65.1L445.9 67.2L451.6 69.1L455.6 70.7L457.9 72.1L459.5 75.4L460.5 80.4L460.9 87.1L460.6 95.7L459.6 101.8L458.1 105.4L455.9 106.4L453.0 105.0L449.7 103.6L446.0 102.4L441.9 101.1L437.3 100.0L433.2 98.9L429.6 97.7L426.6 96.6L424.0 95.4L421.8 93.4L419.9 90.4L418.4 86.4L417.3 81.6L416.4 77.0L415.9 72.7L415.6 68.7L415.6 65.0L417.9 62.8L422.4 62.1Z" fill="#4c72b0" fill-opacity="0.5" filter="url(#t30)"/>
<path d="M426.6 80.3L430.9 79.7L434.9 78.6L438.8 77.1L442.4 75.0L445.9 72.4L449.0 70.7L451.9 69.9L454.4 69.9L456.7 70.7L458.4 73.4L459.5 77.8L460.0 84.0L459.9 92.0L459.1 97.7L457.7 101.2L455.6 102.5L452.8 101.4L449.8 100.5L446.4 99.5L442.7 98.7L438.7 97.9L435.1 97.0L431.8 96.0L428.9 95.0L426.3 93.8L424.2 92.3L422.6 90.3L421.6 88.0L421.0 85.3L421.6 83.1L423.5 81.4Z" fill="#4c72b0" fill-opacity="0.5" filter="url(#t70)"/>
<path d="M418.0 59.6L421.1 60.4L424.2 61.2L427.2 61.9L430.1 62.6L433.0 63.1L436.1 63.9L439.4 64.7L442.9 65.7L446.6 66.9L449.5 68.1L451.6 69.4L453.0 70.7L453.6 72.1L453.5 73.7L452.8 75.4L451.4 77.3L449.4 79.3L447.5 81.2L445.6 83.1L443.9 84.9L442.1 86.6L440.4 88.1L438.7 89.4L437.0 90.4L435.3 91.3L433.5 92.0L431.6 92.6L429.7 93.0L427.7 93.3L425.9 93.2L424.1 92.8L422.6 92.0L421.1 90.9L419.9 89.4L418.7 87.5L417.7 85.3L416.9 82.7L416.1 80.1L415.4 77.4L414.7 74.6L414.1 71.7L413.7 69.0L413.4 66.4L413.3 64.0L413.3 61.7L414.1 60.2L415.6 59.5Z" fill="#4c72b0" fill-opacity="0.6" filter="url(#t50)"/>
<path d="M467.4 68.9L469.5 70.6L471.4 72.6L472.9 75.1L474.2 77.9L475.1 81.0L476.0 84.1L476.6 87.1L477.1 90.0L477.5 92.9L477.6 95.7L477.5 98.6L477.1 101.4L476.5 104.3L475.9 107.0L475.1 109.6L474.1 112.0L473.1 114.3L472.1 116.2L471.0 117.7L469.9 118.7L468.7 119.4L467.5 119.7L466.3 119.6L465.1 119.0L463.9 118.0L462.6 116.7L461.4 114.9L460.3 112.7L459.1 110.1L458.1 107.5L457.3 104.8L456.5 102.0L456.0 99.1L455.5 96.4L455.3 93.6L455.1 91.0L455.1 88.4L455.3 85.9L455.5 83.5L456.0 81.1L456.5 78.9L457.4 76.6L458.5 74.3L460.0 72.0L461.7 69.7L463.5 68.4L465.4 68.1Z" fill="#4c72b0" fill-opacity="0.6" filter="url(#t50)"/>
<path d="M420.1 62.4L422.4 62.9L424.7 63.3L427.0 63.8L429.3 64.3L431.6 64.8L433.9 65.3L436.4 65.8L438.9 66.3L441.4 66.7L443.9 67.3L446.2 68.1L448.5 69.0L450.6 70.0L452.1 71.1L452.9 72.3L453.1 73.6L452.7 75.0L452.1 76.3L451.1 77.5L449.8 78.6L448.3 79.6L446.8 80.7L445.4 81.7L444.0 82.9L442.7 84.0L441.4 85.1L440.1 86.0L438.7 86.9L437.4 87.7L436.1 88.3L434.6 88.5L433.1 88.6L431.6 88.3L430.1 87.9L428.7 87.2L427.4 86.3L426.1 85.1L425.0 83.9L423.9 82.6L423.0 81.1L422.1 79.6L421.3 78.0L420.6 76.3L419.9 74.6L419.3 72.8L418.6 71.2L418.0 69.6L417.5 68.1L416.9 66.7L416.5 65.5L416.3 64.5L416.3 63.6L416.5 62.8L417.2 62.4L418.4 62.2Z" fill="#4c72b0" fill-opacity="0.95" filter="url(#t85)"/>
<path d="M424.1 65.3L426.7 65.4L429.3 65.7L432.0 66.1L434.9 66.7L437.9 67.5L440.6 68.3L443.1 69.1L445.4 70.0L447.5 71.0L448.7 72.1L449.2 73.3L448.8 74.7L447.7 76.2L446.4 77.7L444.8 79.1L443.1 80.6L441.3 82.1L439.4 83.3L437.6 84.2L435.9 84.9L434.1 85.2L432.5 85.2L430.8 84.8L429.3 84.0L427.7 82.9L426.3 81.5L425.1 80.1L424.0 78.4L423.1 76.6L422.3 74.7L421.7 72.7L421.2 70.6L420.9 68.4L421.3 66.8L422.3 65.8Z" fill="#4c72b0" fill-opacity="0.85" filter="url(#b)"/>
<path d="M466.7 72.5L468.4 74.0L469.8 75.6L471.0 77.6L472.0 79.7L472.7 82.1L473.4 84.4L473.8 86.6L474.2 88.7L474.4 90.7L474.5 92.7L474.4 94.7L474.1 96.7L473.6 98.7L473.1 100.7L472.6 102.7L472.0 104.7L471.4 106.7L470.7 108.6L469.9 110.5L469.1 112.3L468.3 114.0L467.4 115.1L466.6 115.5L465.8 115.3L465.0 114.4L464.2 113.4L463.4 112.1L462.6 110.6L461.8 108.9L461.1 107.0L460.4 105.0L459.8 102.9L459.3 100.6L458.8 98.3L458.4 96.0L458.0 93.7L457.7 91.4L457.5 89.2L457.4 86.9L457.5 84.7L457.7 82.6L458.1 80.6L458.5 78.8L459.0 77.3L459.7 75.9L460.4 74.6L461.1 73.5L462.0 72.5L462.9 71.7L464.0 71.4L465.3 71.7Z" fill="#4c72b0" fill-opacity="1.0" filter="url(#b)"/>
<path d="M440.8 87.4h0M453.3 74.6h0M444.8 83.3h0M454.6 77.4h0M432.8 88.5h0M451.8 82.7h0M473.6 125.7h0M437.4 63.9h0M423.9 83.2h0M452.2 70.9h0M439.8 88.7h0M421.1 58.0h0M477.4 122.4h0M420.1 74.9h0M418.2 74.6h0M414.8 65.0h0M423.0 84.7h0M443.5 85.6h0M417.7 56.2h0M451.5 69.2h0M419.1 57.2h0M422.2 62.1h0M439.9 66.7h0M433.8 60.6h0M412.8 71.6h0M475.0 126.0h0M423.4 83.5h0M424.5 63.4h0M417.9 76.5h0M416.8 71.0h0M423.5 85.8h0M443.6 84.2h0M456.5 71.2h0M417.1 67.0h0M433.4 64.9h0M443.5 63.0h0M413.4 61.6h0M432.2 89.8h0M425.3 63.4h0M441.8 85.5h0M449.1 60.2h0M473.6 123.0h0M427.9 64.0h0M452.7 84.3h0M475.8 124.8h0M421.3 81.9h0M475.8 122.2h0M433.8 65.6h0M438.6 64.9h0M440.6 66.6h0M431.6 63.3h0M414.4 73.4h0M423.9 63.4h0M430.3 88.1h0M415.1 69.4h0M414.8 63.7h0M435.1 61.9h0M416.1 70.8h0M450.2 82.1h0M436.5 65.3h0M437.2 89.2h0M439.3 86.6h0M415.0 65.9h0M449.3 66.5h0M433.4 89.2h0M433.0 89.2h0M453.4 74.2h0M415.5 57.9h0M434.4 65.6h0M417.1 66.7h0M422.4 60.8h0" stroke="#4c72b0" stroke-opacity="0.25" stroke-width="1.5" stroke-linecap="round" fill="none"/>
<path d="M445.7 81.2h0M443.6 67.6h0M439.2 86.4h0M431.3 88.5h0M417.7 68.7h0M447.9 80.0h0M417.1 66.7h0M453.2 73.8h0M421.3 77.6h0M444.4 82.8h0M428.9 63.4h0M444.8 82.8h0M425.4 63.6h0M448.3 89.5h0M476.1 124.3h0M429.3 63.2h0M446.3 83.7h0M427.9 63.8h0M439.3 90.4h0M438.0 87.1h0M421.3 62.6h0M434.2 60.9h0M419.0 62.3h0M435.2 65.7h0M444.9 67.8h0M425.2 83.7h0M450.7 77.5h0M427.8 63.4h0M472.0 122.8h0M434.3 88.8h0M450.1 68.8h0M475.5 126.1h0M415.5 62.6h0M449.4 65.8h0M449.5 69.7h0M425.3 60.5h0M445.4 81.5h0M452.0 78.2h0M428.6 87.5h0M439.3 66.5h0M445.6 82.2h0M432.7 89.9h0M428.1 98.0h0M416.4 61.9h0M438.3 87.7h0M430.1 88.3h0M422.1 81.5h0M449.3 83.1h0M450.3 78.2h0M425.6 61.2h0M429.7 62.8h0M420.2 76.4h0M424.3 82.7h0M437.3 91.4h0M453.1 72.1h0M423.5 84.4h0M421.3 78.0h0M424.7 62.1h0M476.7 125.2h0M422.7 59.0h0M444.0 82.7h0M424.6 90.7h0M444.4 65.4h0M435.8 65.2h0M420.2 62.2h0M446.1 65.2h0M434.3 64.9h0M444.9 65.9h0M426.9 89.7h0M452.9 68.5h0M431.6 62.8h0" stroke="#4c72b0" stroke-opacity="0.25" stroke-width="1.5" stroke-linecap="round" fill="none"/>
<path d="M422.5 81.4h0M418.0 61.8h0M422.6 82.5h0M442.7 63.7h0M455.2 73.0h0M418.4 58.2h0M438.3 63.2h0M445.4 66.1h0M422.1 86.1h0M446.8 65.8h0M434.7 60.8h0M419.5 62.6h0M440.6 64.6h0M418.1 69.7h0M428.0 86.9h0M423.0 60.4h0M423.2 62.1h0M425.0 84.9h0M426.0 88.3h0M419.7 61.6h0M435.1 62.8h0M419.4 76.1h0M453.5 77.7h0M446.5 80.7h0M435.2 64.6h0M429.9 89.2h0M437.8 90.5h0M439.2 62.6h0M415.8 69.6h0M428.2 88.1h0M417.2 71.9h0M416.0 77.4h0M419.8 76.1h0M429.3 63.9h0M439.3 92.6h0M438.7 87.5h0M450.2 69.7h0M424.0 82.3h0M419.2 74.2h0M449.8 68.0h0M441.4 84.8h0M415.6 66.0h0M417.9 71.0h0M453.0 73.4h0M452.2 75.6h0M445.0 85.5h0M424.9 84.0h0M440.2 64.3h0M469.1 124.2h0M453.2 73.3h0M420.0 62.5h0M453.1 75.0h0M456.4 77.7h0M453.1 75.1h0M451.0 79.3h0M438.5 65.9h0M458.5 75.3h0M418.3 70.9h0M414.8 76.7h0M419.0 72.6h0M439.7 87.1h0M437.1 64.9h0M419.2 81.3h0M424.1 86.3h0M476.3 124.6h0M444.3 67.7h0M419.8 58.9h0M421.6 61.6h0M449.1 68.2h0M419.6 62.1h0" stroke="#4c72b0" stroke-opacity="0.25" stroke-width="1.5" stroke-linecap="round" fill="none"/>
<path d="M460.0 103.2h0M458.2 79.6h0M456.6 78.8h0M475.7 96.2h0M462.9 70.4h0M476.3 87.9h0M463.5 115.0h0M474.4 93.8h0M476.8 98.4h0M471.4 110.5h0M471.3 113.1h0M456.3 73.6h0M474.1 94.6h0M476.1 99.9h0M465.5 63.5h0M474.8 99.8h0M459.2 99.2h0M457.4 103.2h0M455.5 97.2h0M474.8 97.1h0M458.9 99.8h0M461.7 110.5h0M470.5 108.4h0M460.6 72.1h0M475.9 95.5h0M473.0 83.2h0M461.6 71.5h0M474.5 99.9h0M473.6 84.5h0M474.1 88.9h0M474.3 94.4h0M473.7 85.3h0M470.4 117.3h0M474.4 92.1h0M475.1 95.6h0M459.0 100.4h0M457.8 81.8h0M475.2 96.5h0M471.1 109.1h0M457.1 116.5h0M456.7 78.6h0M459.6 73.5h0M458.2 75.4h0M472.2 80.7h0M458.8 72.5h0M470.5 112.1h0M471.0 107.8h0M458.0 105.1h0M466.1 61.4h0M474.6 99.4h0M461.3 107.0h0M464.4 70.1h0M472.0 78.1h0M458.8 100.9h0M472.0 107.3h0M457.6 87.1h0M476.3 88.2h0M471.9 76.7h0M471.8 105.2h0M460.0 74.9h0M474.7 89.5h0M455.4 81.4h0M472.7 82.1h0M466.5 72.2h0M461.3 111.0h0M471.6 105.7h0M459.3 100.3h0M463.9 70.2h0M471.9 77.7h0M457.3 88.9h0M458.1 95.5h0M473.8 76.1h0M459.3 106.3h0M459.3 113.5h0M471.1 110.6h0M472.6 103.4h0M474.5 77.5h0M470.0 73.0h0M462.9 113.1h0M474.2 89.9h0M469.4 121.5h0M458.1 99.7h0M455.9 97.1h0M450.3 82.3h0M460.1 104.2h0M462.3 111.5h0M457.5 77.7h0M472.1 77.3h0M470.5 109.7h0M470.4 74.1h0M472.9 82.0h0M472.9 112.9h0M458.7 98.8h0M475.0 81.7h0M464.3 113.2h0M460.3 105.1h0M459.2 107.9h0M458.1 96.2h0M460.1 109.1h0M474.8 95.9h0" stroke="#4c72b0" stroke-opacity="0.3" stroke-width="1.5" stroke-linecap="round" fill="none"/>
<path d="M469.1 116.0h0M458.2 81.1h0M457.7 79.9h0M473.7 87.0h0M474.4 88.3h0M471.2 75.5h0M463.1 111.2h0M463.0 111.8h0M470.5 113.5h0M456.6 91.3h0M460.3 104.8h0M458.7 97.7h0M461.0 107.0h0M469.8 74.1h0M473.4 107.9h0M456.3 100.4h0M473.4 85.2h0M472.1 78.7h0M460.3 108.2h0M458.5 95.0h0M467.0 117.5h0M469.9 76.2h0M457.4 89.2h0M473.0 102.2h0M473.4 83.8h0M457.7 87.8h0M463.0 112.3h0M460.5 109.3h0M470.0 75.5h0M465.3 71.2h0M468.8 74.6h0M456.5 88.3h0M477.0 106.5h0M464.1 71.5h0M473.9 86.7h0M472.9 100.8h0M473.7 101.2h0M460.7 74.1h0M477.1 90.7h0M458.1 111.3h0M474.4 103.1h0M457.9 82.5h0M468.3 113.9h0M470.5 108.9h0M459.8 76.2h0M473.1 100.3h0M468.7 113.1h0M457.8 81.2h0M472.2 80.5h0M474.5 106.7h0M452.3 84.3h0M457.0 89.5h0M456.4 91.9h0M474.8 101.7h0M471.8 77.3h0M474.6 96.4h0M458.0 92.2h0M457.7 73.8h0M474.9 91.7h0M475.8 96.5h0M456.0 89.8h0M457.3 76.8h0M465.7 118.2h0M457.3 90.8h0M470.7 109.0h0M474.1 102.0h0M457.1 92.2h0M474.3 75.8h0M457.3 106.3h0M472.8 80.6h0M460.7 107.0h0M456.0 74.7h0M471.2 107.7h0M469.2 116.9h0M458.3 110.9h0M474.6 88.3h0M476.7 105.3h0M469.1 113.4h0M459.2 113.1h0M469.5 111.4h0M473.6 105.1h0M463.0 111.9h0M457.8 99.4h0M456.1 81.9h0M473.5 98.8h0M459.9 73.3h0M457.1 101.7h0M473.4 103.2h0M461.2 73.7h0M459.5 72.5h0M474.8 104.3h0M457.8 96.9h0M456.0 91.8h0M468.5 113.3h0M475.4 104.5h0M457.8 74.7h0M468.7 114.9h0M456.7 83.3h0M457.6 79.4h0M457.4 99.4h0" stroke="#4c72b0" stroke-opacity="0.3" stroke-width="1.5" stroke-linecap="round" fill="none"/>
<path d="M454.5 93.5h0M475.2 103.4h0M460.7 105.1h0M457.3 86.6h0M458.4 94.6h0M463.0 111.6h0M457.5 83.1h0M464.7 114.5h0M458.1 100.6h0M473.8 97.2h0M457.5 83.8h0M460.5 104.6h0M469.2 72.1h0M457.5 82.6h0M455.5 96.2h0M456.7 72.4h0M471.9 78.6h0M473.6 100.5h0M474.3 94.7h0M460.9 71.3h0M474.4 97.7h0M461.5 107.3h0M456.9 89.3h0M460.2 75.4h0M464.2 114.3h0M472.3 105.0h0M460.0 107.0h0M476.2 87.9h0M461.0 72.3h0M465.2 116.9h0M461.1 110.1h0M453.8 96.1h0M469.9 116.4h0M457.4 81.0h0M474.6 91.1h0M466.5 116.6h0M468.2 115.5h0M475.0 94.2h0M471.2 77.6h0M466.6 70.3h0M475.2 80.6h0M457.9 102.8h0M456.9 91.4h0M471.4 108.5h0M472.6 102.6h0M459.5 104.4h0M457.4 101.1h0M474.5 97.7h0M461.7 72.6h0M457.6 88.8h0M470.2 76.2h0M459.0 101.5h0M458.3 102.3h0M471.7 106.0h0M473.8 86.0h0M460.6 113.3h0M457.9 99.6h0M477.5 89.6h0M461.3 72.6h0M469.7 75.7h0M476.4 81.0h0M475.5 89.7h0M455.9 84.1h0M460.2 75.1h0M468.3 114.1h0M460.5 105.1h0M453.7 88.8h0M475.9 85.6h0M462.2 110.2h0M475.2 92.1h0M464.9 116.1h0M457.0 91.5h0M475.7 77.8h0M455.9 86.9h0M456.7 95.1h0M457.7 87.5h0M456.1 87.7h0M470.7 76.8h0M468.7 74.7h0M474.7 95.1h0M474.8 94.7h0M475.7 100.9h0M474.7 95.9h0M458.6 79.5h0M470.5 114.4h0M473.3 77.6h0M463.9 113.9h0M464.4 114.0h0M470.9 107.8h0M473.8 84.9h0M474.4 97.0h0M475.4 95.1h0M472.5 80.9h0M473.8 98.5h0M459.7 101.4h0M458.0 97.6h0M458.3 71.5h0M454.0 124.0h0M456.7 92.6h0M456.5 94.3h0" stroke="#4c72b0" stroke-opacity="0.3" stroke-width="1.5" stroke-linecap="round" fill="none"/>
<path d="M466.3 66.4h0M477.0 114.7h0M466.1 61.8h0M466.6 66.7h0M473.2 118.7h0M471.7 119.5h0M465.7 69.7h0M465.4 70.0h0M469.9 125.1h0M469.7 68.4h0M463.3 67.6h0M466.8 69.9h0M467.6 69.1h0M467.4 118.5h0M465.5 66.1h0M466.7 71.4h0M463.4 71.5h0M462.6 69.0h0M477.2 120.9h0M482.4 121.8h0M478.2 121.5h0M484.0 120.1h0" stroke="#4c72b0" stroke-opacity="0.2" stroke-width="1.5" stroke-linecap="round" fill="none"/>
<path d="M463.7 70.7h0M464.0 63.7h0M469.3 68.1h0M465.0 70.0h0M493.3 114.5h0M470.4 130.9h0M467.1 65.5h0M477.2 118.7h0M466.4 72.2h0M462.9 69.2h0M482.9 119.9h0M487.5 115.9h0M460.4 67.6h0M463.5 68.9h0M472.4 67.0h0M466.8 69.4h0M470.7 75.1h0M483.7 120.5h0M467.5 71.0h0M463.1 69.3h0M473.2 123.2h0M460.1 70.4h0" stroke="#4c72b0" stroke-opacity="0.2" stroke-width="1.5" stroke-linecap="round" fill="none"/>
<path d="M480.4 112.3h0M469.9 67.8h0M461.5 65.3h0M465.2 132.2h0M468.1 120.3h0M459.4 70.9h0M485.6 124.8h0M468.4 64.1h0M464.0 126.6h0M465.2 66.3h0M471.0 68.0h0M464.4 64.1h0M462.2 66.9h0M466.4 63.7h0M465.8 65.8h0M481.2 121.4h0M470.8 65.5h0M483.0 116.2h0M470.6 67.5h0M490.0 117.6h0M482.7 123.5h0" stroke="#4c72b0" stroke-opacity="0.2" stroke-width="1.5" stroke-linecap="round" fill="none"/>
</g>
<g>
<path d="M592.1 57.6L600.1 56.7L607.5 56.8L614.2 57.9L620.2 60.0L625.5 63.2L631.8 66.1L638.9 68.8L647.0 71.2L655.9 73.4L662.5 77.1L666.7 82.3L668.6 88.8L668.2 96.9L666.8 103.8L664.6 109.6L661.5 114.3L657.5 117.9L653.3 120.1L649.1 121.0L644.7 120.5L640.3 118.8L635.6 116.6L630.7 114.2L625.5 111.4L620.2 108.3L615.3 105.2L610.8 102.3L606.8 99.6L603.2 96.9L599.8 94.0L596.4 90.8L593.2 87.5L590.0 83.9L587.4 80.0L585.1 75.8L583.3 71.2L582.0 66.3L583.0 62.4L586.4 59.5Z" fill="#4c72b0" fill-opacity="0.45" filter="url(#t15)"/>
<path d="M609.2 81.0L616.8 81.5L623.3 82.7L628.7 84.7L632.9 87.5L636.0 91.1L638.4 94.8L640.1 98.5L641.0 102.5L641.3 106.5L640.9 109.4L640.0 111.2L638.6 111.8L636.6 111.4L634.0 110.4L630.7 108.8L626.9 106.7L622.4 104.0L618.1 101.4L613.8 98.8L609.7 96.3L605.7 93.9L602.5 91.4L600.3 89.0L599.0 86.5L598.5 84.0L600.1 82.3L603.7 81.3Z" fill="#4c72b0" fill-opacity="0.45" filter="url(#t30)"/>
<path d="M592.8 63.7L595.2 62.4L597.7 61.3L600.3 60.5L603.1 60.0L606.0 59.7L608.9 59.7L611.6 60.1L614.4 60.8L617.1 61.9L619.6 63.0L621.9 64.1L624.1 65.4L626.1 66.7L627.3 68.2L627.8 69.9L627.4 71.8L626.3 73.8L625.1 75.6L623.8 77.3L622.3 78.8L620.7 80.1L618.7 81.2L616.3 81.9L613.4 82.3L610.0 82.4L606.9 82.2L604.1 81.9L601.5 81.4L599.2 80.6L597.1 79.6L595.3 78.4L593.6 76.9L592.3 75.2L591.2 73.5L590.4 71.8L589.8 70.1L589.6 68.3L590.0 66.7L591.1 65.1Z" fill="#4c72b0" fill-opacity="0.6" filter="url(#t50)"/>
<path d="M639.6 81.2L647.2 81.2L653.2 82.0L657.5 83.4L660.2 85.6L661.4 88.5L662.1 91.6L662.6 94.8L662.7 98.2L662.5 101.8L661.9 105.2L661.0 108.4L659.8 111.5L658.2 114.4L656.6 116.8L654.9 118.7L653.2 120.1L651.4 121.0L649.6 121.4L647.9 121.3L646.1 120.6L644.3 119.5L642.7 118.0L641.4 116.1L640.3 113.8L639.4 111.2L638.6 108.5L637.9 105.8L637.4 103.1L636.9 100.4L636.2 97.9L635.2 95.6L633.9 93.4L632.3 91.4L631.1 89.5L630.1 87.6L629.3 85.7L628.9 83.9L630.4 82.6L634.0 81.7Z" fill="#4c72b0" fill-opacity="0.6" filter="url(#t50)"/>
<path d="M595.9 65.8L597.5 64.8L599.3 63.9L601.2 63.3L603.2 62.8L605.4 62.5L607.4 62.5L609.4 62.6L611.2 62.9L613.0 63.5L614.9 64.1L616.9 64.8L619.1 65.6L621.3 66.5L623.0 67.3L624.3 68.0L625.0 68.7L625.2 69.2L624.9 69.8L624.1 70.5L622.9 71.2L621.1 72.0L619.9 72.8L619.4 73.7L619.5 74.6L620.3 75.4L620.5 76.3L620.2 77.1L619.3 77.8L617.9 78.5L616.2 79.0L614.4 79.4L612.4 79.7L610.1 79.8L608.0 79.8L605.8 79.7L603.8 79.5L601.8 79.1L600.0 78.6L598.4 77.9L597.1 77.0L596.0 76.0L595.0 75.0L594.2 73.9L593.6 72.8L593.2 71.7L592.9 70.7L592.8 69.8L592.8 69.0L593.1 68.3L593.6 67.6L594.6 66.7Z" fill="#4c72b0" fill-opacity="1.0" filter="url(#t85)"/>
<path d="M640.3 83.4L646.5 83.6L651.3 84.3L654.7 85.5L656.6 87.3L657.0 89.5L657.3 91.7L657.5 94.0L657.5 96.2L657.3 98.4L657.1 100.6L656.8 102.7L656.5 104.8L656.0 106.8L655.5 108.7L654.9 110.6L654.2 112.3L653.5 114.0L652.6 115.3L651.7 116.5L650.6 117.3L649.5 117.9L648.4 118.1L647.4 117.9L646.4 117.4L645.4 116.5L644.6 115.5L643.9 114.2L643.4 112.8L643.0 111.3L642.7 109.7L642.5 108.0L642.4 106.2L642.3 104.5L642.1 102.7L641.9 100.9L641.6 99.1L641.2 97.3L640.8 95.6L640.1 93.9L639.4 92.3L638.5 90.7L637.4 89.2L636.2 87.8L634.8 86.4L633.2 85.0L633.6 84.1L636.0 83.5Z" fill="#4c72b0" fill-opacity="1.0" filter="url(#t85)"/>
<path d="M625.2 69.7L628.5 71.0L631.3 72.1L633.6 72.9L635.2 73.7L636.4 74.2L637.1 74.9L637.4 75.8L637.4 76.9L636.9 78.1L636.2 79.0L635.2 79.4L633.9 79.5L632.3 79.1L630.7 78.5L628.9 77.7L627.0 76.6L625.0 75.2L623.4 73.9L622.1 72.5L621.3 71.2L620.8 69.9L621.4 69.2L622.8 69.1Z" fill="#4c72b0" fill-opacity="0.85" filter="url(#b)"/>
<path d="M596.8 66.5L598.2 65.6L599.8 64.9L601.5 64.3L603.4 63.9L605.5 63.6L607.5 63.5L609.4 63.7L611.2 64.0L613.0 64.6L614.9 65.2L616.8 65.8L618.7 66.6L620.7 67.4L621.9 68.2L622.2 69.0L621.7 69.8L620.4 70.6L618.9 71.2L617.2 71.5L615.4 71.7L613.4 71.6L611.4 71.5L609.5 71.5L607.7 71.6L605.9 71.7L604.2 71.8L602.5 71.9L600.9 72.0L599.3 72.1L597.9 72.1L596.7 72.0L595.6 71.7L594.7 71.2L594.1 70.7L593.9 70.1L593.9 69.5L594.2 68.9L594.8 68.1L595.6 67.4Z" fill="#4c72b0" fill-opacity="0.9" filter="url(#b)"/>
<path d="M597.6 73.4L599.9 73.3L602.1 73.3L604.3 73.3L606.6 73.3L608.8 73.4L610.9 73.6L612.9 73.8L614.8 74.1L616.6 74.5L618.0 74.8L618.9 75.2L619.4 75.7L619.5 76.1L619.3 76.6L618.7 77.0L617.8 77.5L616.6 77.9L615.2 78.3L613.6 78.6L611.8 78.8L609.8 78.9L607.8 78.9L605.8 78.8L603.8 78.6L601.8 78.2L600.0 77.7L598.4 77.0L597.1 76.1L596.0 75.1L595.7 74.3L596.2 73.8Z" fill="#4c72b0" fill-opacity="0.9" filter="url(#b)"/>
<path d="M643.8 84.8L648.3 84.8L651.7 85.4L654.1 86.7L655.5 88.5L655.8 91.0L656.0 93.4L656.0 95.7L656.0 98.0L655.8 100.2L655.5 102.5L655.1 104.7L654.7 106.9L654.1 109.2L653.4 111.1L652.6 112.8L651.7 114.2L650.8 115.3L649.8 115.9L648.8 116.0L647.8 115.6L646.8 114.7L646.0 113.4L645.3 111.8L644.8 109.7L644.5 107.3L644.1 104.9L643.8 102.5L643.5 100.2L643.3 98.0L642.7 95.7L641.9 93.4L640.7 91.0L639.3 88.5L639.3 86.7L640.8 85.4Z" fill="#4c72b0" fill-opacity="0.9" filter="url(#b)"/>
<path d="M631.1 77.9L632.8 76.9L634.6 76.2L636.6 75.9L638.7 75.9L640.9 76.3L643.3 76.6L645.7 77.0L648.3 77.5L651.0 77.9L653.6 78.3L656.1 78.8L658.5 79.2L660.8 79.7L662.4 80.2L663.1 80.8L663.1 81.4L662.4 82.1L661.4 82.8L660.3 83.4L658.9 83.9L657.3 84.3L655.7 84.7L654.1 85.0L652.3 85.3L650.5 85.4L648.6 85.6L646.6 85.7L644.5 85.7L642.3 85.7L640.2 85.6L638.1 85.4L636.2 85.0L634.5 84.6L632.9 84.0L631.6 83.2L630.6 82.3L629.8 81.1L629.6 80.0L630.0 79.0Z" fill="#4c72b0" fill-opacity="1.0" filter="url(#b)"/>
<path d="M625.6 67.2h0M620.8 75.0h0M626.5 69.0h0M616.5 79.1h0M654.7 113.7h0M589.8 69.7h0M635.1 83.8h0M642.2 102.9h0M620.3 79.3h0M659.4 104.4h0M656.7 106.6h0M635.3 89.2h0M602.4 79.9h0M601.4 61.2h0M659.2 100.9h0M655.1 85.5h0M643.4 79.8h0M646.5 83.3h0M596.8 63.5h0M649.1 83.7h0M653.1 114.5h0M646.8 117.4h0M638.9 82.6h0M656.0 78.2h0M621.0 65.5h0M640.9 98.5h0M635.0 83.5h0M640.3 96.1h0M617.5 80.1h0M622.2 64.9h0M614.9 79.1h0M641.7 103.6h0M639.2 96.9h0M653.6 113.2h0M602.7 80.1h0M657.1 101.6h0M642.7 113.3h0M652.4 80.6h0M638.4 91.7h0M604.2 80.3h0M595.4 78.5h0M650.8 85.4h0M610.4 61.0h0M661.7 80.0h0M601.5 79.9h0M618.4 80.6h0M657.3 89.6h0M658.2 100.1h0M657.4 100.5h0M614.5 84.6h0M648.4 87.4h0M657.9 90.2h0M593.4 67.5h0M595.4 75.8h0M642.0 82.3h0M634.0 85.8h0M641.8 107.5h0M644.0 76.6h0M596.2 65.1h0M654.6 115.9h0M640.3 97.0h0M658.7 96.6h0M633.4 74.4h0M634.4 86.1h0M622.1 72.7h0M623.9 67.1h0M595.8 75.7h0M653.6 114.0h0M607.8 80.5h0M635.5 87.6h0M616.4 80.7h0M641.9 100.9h0M657.6 106.8h0M655.1 109.2h0M601.3 63.2h0M641.9 83.1h0M649.4 71.7h0M640.7 80.3h0M642.4 82.1h0M637.7 86.6h0M593.0 68.3h0M634.8 82.2h0M642.1 114.8h0M646.2 82.7h0M652.3 78.1h0M643.5 112.9h0M659.0 83.6h0M595.8 75.7h0M640.7 76.5h0M632.2 76.3h0M611.4 63.0h0M596.1 77.5h0M638.2 93.2h0M633.9 75.9h0M648.3 77.4h0M654.3 115.6h0M604.8 80.9h0M598.8 59.9h0M604.3 62.6h0M642.2 109.2h0M642.5 76.7h0M591.5 61.4h0M608.7 80.0h0M602.9 62.3h0M666.8 80.5h0M596.9 62.2h0M593.4 67.1h0M650.8 82.8h0M645.6 117.0h0M643.0 109.2h0M652.5 88.0h0M655.5 77.6h0M607.3 61.8h0M605.5 62.0h0M640.8 86.2h0M634.2 85.9h0M636.2 82.5h0M634.7 84.0h0M615.1 61.5h0M656.1 105.8h0M609.4 62.4h0M632.5 76.5h0M654.7 85.1h0M635.2 83.8h0M650.9 117.7h0M642.6 83.5h0M658.3 108.1h0M660.3 95.5h0M650.0 77.9h0M639.0 74.4h0M618.9 60.7h0M642.9 76.1h0M640.9 98.7h0M623.0 72.6h0M644.9 83.7h0M635.3 74.6h0M608.4 80.7h0M592.1 68.5h0M591.3 66.5h0M656.5 78.4h0M662.8 82.2h0M602.4 81.3h0M643.8 76.2h0M592.1 69.7h0M637.0 88.5h0M660.2 88.8h0M627.7 71.8h0M600.2 80.7h0M630.2 81.9h0M619.5 62.8h0M593.5 72.6h0M625.7 73.1h0M623.3 71.2h0M592.5 77.8h0M660.4 77.6h0M658.1 89.8h0M617.8 59.9h0M650.9 77.8h0M598.2 63.8h0M645.1 76.2h0M632.3 85.4h0M641.5 101.0h0M634.4 75.4h0M640.2 105.4h0M656.2 78.4h0M592.4 74.9h0M591.9 71.6h0M616.8 82.4h0M641.1 76.3h0M634.4 75.2h0M650.3 118.2h0M641.6 108.0h0M591.5 73.4h0M621.1 72.0h0" stroke="#4c72b0" stroke-opacity="0.3" stroke-width="1.5" stroke-linecap="round" fill="none"/>
<path d="M635.8 96.8h0M630.7 81.9h0M604.4 81.6h0M635.4 87.3h0M610.6 62.4h0M593.6 75.2h0M643.1 114.8h0M654.3 82.0h0M642.6 82.9h0M638.6 83.3h0M640.2 76.4h0M638.0 90.0h0M612.8 63.0h0M647.5 87.1h0M599.8 63.9h0M630.0 78.3h0M592.8 67.5h0M625.7 69.1h0M637.9 75.5h0M640.0 76.1h0M611.2 79.5h0M614.2 80.0h0M617.5 78.5h0M655.5 110.4h0M658.3 105.1h0M601.5 62.6h0M593.3 74.9h0M650.1 77.7h0M635.7 88.1h0M622.3 74.7h0M647.4 85.7h0M639.6 83.5h0M652.1 76.5h0M663.4 89.3h0M605.8 62.0h0M631.4 75.5h0M650.0 85.6h0M612.9 62.2h0M621.2 75.3h0M621.3 71.9h0M645.0 85.6h0M592.3 59.6h0M588.3 62.8h0M601.1 63.3h0M656.2 86.7h0M633.9 86.2h0M621.7 74.3h0M639.8 73.3h0M632.6 85.8h0M655.8 108.4h0M654.8 84.3h0M608.0 62.3h0M603.4 62.0h0M617.8 64.5h0M653.5 113.9h0M637.0 90.8h0M639.4 94.4h0M642.4 102.3h0M650.2 75.6h0M643.5 74.3h0M614.5 82.8h0M609.5 62.8h0M625.8 79.0h0M660.3 105.2h0M631.2 94.0h0M657.2 104.6h0M610.4 81.1h0M604.7 81.7h0M648.0 74.4h0M657.5 78.4h0M641.6 97.7h0M658.1 103.1h0M655.2 85.5h0M658.5 96.9h0M643.9 75.9h0M632.3 77.0h0M600.3 81.5h0M626.8 71.3h0M622.4 66.8h0M659.5 94.3h0M636.4 86.9h0M619.5 78.0h0M654.7 83.3h0M642.5 105.0h0M634.4 99.1h0M620.4 66.3h0M637.9 76.0h0M630.6 78.0h0M625.4 69.0h0M641.9 100.8h0M636.2 88.7h0M645.4 83.2h0M623.8 63.6h0M609.8 84.2h0M660.9 83.8h0M610.6 60.6h0M599.4 64.1h0M606.2 79.6h0M654.7 110.6h0M638.6 92.1h0M613.8 57.4h0M618.8 59.1h0M596.9 76.9h0M593.8 72.8h0M657.1 89.4h0M639.5 93.0h0M637.1 88.1h0M629.4 80.5h0M619.3 73.6h0M632.6 81.4h0M656.7 102.7h0M595.3 76.8h0M607.8 62.4h0M620.3 65.9h0M637.5 85.0h0M651.1 78.1h0M649.3 84.3h0M598.9 79.3h0M615.4 64.0h0M647.5 77.5h0M643.8 82.6h0M623.5 66.6h0M601.7 79.1h0M637.7 83.8h0M604.4 79.4h0M654.5 84.9h0M639.4 75.3h0M625.3 69.5h0M603.0 79.3h0M641.9 109.9h0M653.1 78.4h0M658.1 93.8h0M662.5 76.5h0M607.0 79.9h0M651.7 73.5h0M634.0 83.3h0M639.7 73.8h0M655.6 111.8h0M637.9 85.5h0M655.3 86.1h0M613.5 62.5h0M652.7 84.6h0M645.3 76.0h0M640.6 99.9h0M640.7 95.2h0M652.0 118.5h0M628.4 70.3h0M647.2 83.7h0M621.3 66.6h0M638.4 92.4h0M615.9 64.5h0M634.5 83.8h0M625.6 69.1h0M657.1 103.9h0M597.0 65.4h0M660.7 94.1h0M659.0 91.1h0M647.4 85.9h0M620.6 77.1h0M607.0 61.9h0M606.7 62.0h0M640.1 95.3h0M661.1 83.1h0M621.7 71.4h0M592.0 66.9h0M606.3 61.6h0M654.1 115.0h0M642.2 106.2h0M598.1 83.8h0M604.5 80.5h0M656.0 85.1h0M610.0 62.0h0M645.5 82.9h0" stroke="#4c72b0" stroke-opacity="0.3" stroke-width="1.5" stroke-linecap="round" fill="none"/>
<path d="M657.9 99.3h0M615.2 60.9h0M655.1 111.8h0M654.9 110.5h0M646.8 83.7h0M653.2 116.1h0M611.5 80.2h0M599.4 63.1h0M650.2 85.3h0M642.0 108.1h0M642.2 109.9h0M656.7 101.6h0M618.5 77.9h0M603.2 84.0h0M654.1 115.1h0M594.1 77.2h0M650.8 88.0h0M638.8 100.7h0M634.6 76.1h0M602.7 61.6h0M658.1 90.1h0M644.4 114.7h0M634.9 84.5h0M653.6 113.6h0M617.0 62.3h0M633.4 88.2h0M614.1 62.9h0M622.1 74.4h0M661.8 84.0h0M605.6 79.8h0M620.1 77.0h0M592.3 68.4h0M635.5 85.1h0M642.8 108.9h0M643.1 113.6h0M621.0 65.1h0M659.0 95.1h0M624.4 67.8h0M621.7 80.7h0M621.5 66.8h0M638.1 85.3h0M616.4 64.0h0M661.3 83.0h0M640.9 106.6h0M600.0 63.3h0M655.1 83.6h0M652.6 84.6h0M594.9 75.6h0M599.5 63.8h0M651.3 85.4h0M611.4 82.0h0M609.8 61.6h0M631.6 84.5h0M657.4 105.3h0M644.5 86.1h0M648.3 83.9h0M618.8 64.8h0M648.9 76.8h0M639.8 111.6h0M616.4 83.4h0M664.7 81.3h0M656.8 103.3h0M660.6 78.4h0M619.2 80.3h0M649.8 89.1h0M641.2 104.0h0M620.4 75.2h0M656.2 106.8h0M654.1 85.4h0M597.1 76.8h0M654.3 86.8h0M637.7 104.7h0M646.3 75.8h0M640.7 97.5h0M619.5 74.8h0M653.3 85.5h0M642.2 107.8h0M660.8 79.9h0M645.1 83.1h0M640.4 94.3h0M599.0 78.1h0M639.5 99.8h0M614.4 63.7h0M650.8 72.7h0M595.7 65.7h0M645.7 83.8h0M594.3 73.8h0M597.0 61.4h0M591.6 68.0h0M617.0 79.6h0M659.7 103.6h0M595.8 64.3h0M611.7 80.8h0M641.0 92.0h0M656.6 84.5h0M635.4 85.6h0M637.6 83.4h0M629.3 82.3h0M658.2 107.2h0M623.4 74.7h0M638.1 91.3h0M637.3 85.1h0M601.1 57.4h0M637.6 89.7h0M613.3 63.6h0M660.3 79.4h0M607.0 81.9h0M633.4 75.7h0M629.6 80.1h0M621.1 62.6h0M663.7 82.2h0M622.8 71.0h0M639.8 106.0h0M662.5 78.2h0M632.2 83.6h0M611.9 85.8h0M644.2 115.3h0M639.5 114.2h0M639.9 100.3h0M616.5 64.6h0M655.8 114.9h0M638.4 91.8h0M607.6 62.6h0M629.6 79.7h0M641.2 97.9h0M640.2 104.3h0M602.0 80.5h0M650.2 77.5h0M615.0 79.3h0M645.3 116.5h0M639.2 96.3h0M642.1 107.1h0M662.1 78.8h0M633.6 85.3h0M608.8 61.0h0M657.8 100.6h0M605.1 61.0h0M658.2 84.5h0M626.4 71.3h0M639.2 105.8h0M663.9 84.6h0M657.8 108.4h0M634.3 86.0h0M636.6 89.8h0M632.3 85.6h0M657.3 94.3h0M649.2 74.2h0M590.2 67.5h0M647.3 77.5h0M642.6 86.1h0M639.0 75.7h0M647.5 85.8h0M641.8 86.0h0M635.1 84.5h0M650.2 82.4h0M595.6 63.5h0M595.0 75.4h0M657.3 96.1h0M634.5 76.4h0M602.5 62.0h0M609.8 61.0h0M655.0 113.5h0M638.1 83.5h0M633.1 84.6h0M593.4 72.5h0M623.2 73.2h0M623.3 71.2h0M641.1 85.6h0M624.5 68.2h0M641.8 106.3h0M624.2 66.8h0M627.8 64.2h0M655.5 84.2h0" stroke="#4c72b0" stroke-opacity="0.3" stroke-width="1.5" stroke-linecap="round" fill="none"/>
<path d="M672.9 82.1h0M671.6 83.9h0M667.4 83.4h0M669.8 83.2h0M670.4 84.5h0M670.1 83.7h0M671.6 84.1h0M672.2 84.5h0M672.2 83.7h0M669.8 83.2h0M671.8 83.3h0M673.1 83.2h0M667.1 83.7h0M670.5 83.7h0M669.0 83.0h0M670.7 83.5h0M673.7 81.9h0" stroke="#4c72b0" stroke-opacity="0.35" stroke-width="1.5" stroke-linecap="round" fill="none"/>
<path d="M670.9 81.8h0M670.2 83.0h0M670.6 81.6h0M670.9 83.3h0M672.8 82.6h0M670.6 84.2h0M669.2 83.3h0M672.8 80.9h0M669.3 83.8h0M671.1 83.0h0M667.0 83.0h0M671.0 82.2h0M668.9 83.5h0M669.2 82.7h0M669.7 82.0h0M673.2 82.2h0M668.7 82.5h0" stroke="#4c72b0" stroke-opacity="0.35" stroke-width="1.5" stroke-linecap="round" fill="none"/>
<path d="M667.0 83.6h0M673.2 82.4h0M671.6 81.9h0M670.2 83.5h0M666.9 83.6h0M668.0 83.2h0M671.3 81.5h0M672.0 81.9h0M670.6 84.1h0M670.2 83.4h0M668.8 83.1h0M671.3 84.0h0M670.0 81.7h0M672.3 83.2h0M671.5 82.2h0M669.3 83.4h0" stroke="#4c72b0" stroke-opacity="0.35" stroke-width="1.5" stroke-linecap="round" fill="none"/>
<path d="M573.6 64.2h0M573.6 63.0h0M573.1 63.7h0" stroke="#4c72b0" stroke-opacity="0.25" stroke-width="1.5" stroke-linecap="round" fill="none"/>
<path d="M573.9 63.9h0M574.2 63.6h0M573.0 63.5h0" stroke="#4c72b0" stroke-opacity="0.25" stroke-width="1.5" stroke-linecap="round" fill="none"/>
<path d="M572.2 63.3h0M573.3 63.6h0" stroke="#4c72b0" stroke-opacity="0.25" stroke-width="1.5" stroke-linecap="round" fill="none"/>
</g>
<g>
<path d="M132.3 274.8L139.4 276.9L145.7 279.5L151.4 282.6L156.2 286.2L160.4 290.4L162.5 294.4L162.5 298.1L160.4 301.7L156.2 305.0L151.9 307.4L147.3 308.9L142.5 309.4L137.5 309.0L133.8 307.7L131.2 305.6L130.0 302.7L130.0 299.0L129.5 294.8L128.4 290.2L126.9 285.2L124.8 279.8L125.0 276.2L127.5 274.6Z" fill="#4c72b0" fill-opacity="0.3" filter="url(#t8)"/>
<path d="M102.9 299.0L113.8 299.4L122.2 300.0L128.2 300.8L131.9 301.9L133.1 303.1L133.2 304.5L132.2 305.9L130.0 307.5L126.7 309.2L123.6 311.0L120.9 313.1L118.5 315.4L116.5 317.9L114.1 319.9L111.4 321.4L108.3 322.3L105.0 322.7L101.9 322.7L99.0 322.3L96.2 321.5L93.8 320.2L91.6 318.6L89.7 316.8L88.1 314.6L86.9 312.1L86.0 309.6L85.6 307.1L85.6 304.6L86.0 302.1L89.1 300.3L94.7 299.3Z" fill="#4c72b0" fill-opacity="0.5" filter="url(#t15)"/>
<path d="M87.5 263.4L89.2 262.4L91.1 261.5L93.4 260.8L96.0 260.2L99.0 259.8L101.7 259.7L104.2 260.1L106.5 260.7L108.5 261.8L110.6 263.0L112.6 264.5L114.5 266.1L116.4 268.0L118.1 270.0L119.8 272.1L121.4 274.3L122.8 276.6L124.2 278.8L125.6 281.0L126.9 283.1L128.1 285.2L129.4 287.2L130.6 289.1L131.9 290.8L133.1 292.5L133.9 294.2L134.1 295.8L133.8 297.5L132.9 299.2L131.7 300.7L130.0 302.0L127.9 303.2L125.4 304.3L122.7 305.1L119.8 305.6L116.7 305.8L113.3 305.8L110.1 305.7L107.0 305.5L104.0 305.2L101.0 304.8L98.4 304.2L96.0 303.5L93.9 302.6L92.0 301.6L90.3 300.3L88.9 298.7L87.6 296.9L86.6 294.8L85.7 292.2L85.1 289.1L84.7 285.4L84.5 281.2L84.4 277.5L84.4 274.2L84.5 271.2L84.7 268.8L85.3 266.6L86.2 264.8Z" fill="#4c72b0" fill-opacity="0.55" filter="url(#t30)"/>
<path d="M89.1 266.2L90.1 265.4L91.2 264.7L92.5 264.1L93.9 263.6L95.3 263.2L96.8 263.0L98.2 262.8L99.6 262.7L100.9 262.8L102.2 263.0L103.3 263.4L104.4 263.9L105.3 264.6L106.2 265.4L107.1 266.3L108.0 267.3L109.0 268.4L109.9 269.4L110.9 270.5L111.8 271.6L112.8 272.6L113.8 273.7L114.8 274.8L115.7 276.0L116.6 277.3L117.5 278.5L118.3 279.8L119.1 281.0L119.8 282.3L120.5 283.5L121.1 284.8L121.8 286.0L122.4 287.3L123.1 288.5L123.8 289.6L124.6 290.7L125.4 291.8L126.2 292.8L127.0 293.8L127.8 294.7L128.5 295.6L128.9 296.4L128.9 297.2L128.5 297.8L127.8 298.4L126.9 298.9L125.8 299.5L124.5 300.1L123.0 300.7L121.6 301.2L120.1 301.7L118.6 302.0L117.2 302.2L115.7 302.3L114.1 302.3L112.5 302.2L110.8 302.0L109.2 301.8L107.5 301.6L105.8 301.4L104.2 301.1L102.6 300.9L101.0 300.6L99.5 300.2L98.0 299.8L96.6 299.3L95.3 298.6L94.0 297.9L92.7 297.1L91.6 296.1L90.5 294.9L89.6 293.6L88.8 292.2L88.1 290.7L87.5 289.1L87.1 287.5L86.8 285.8L86.6 284.1L86.4 282.2L86.3 280.2L86.3 278.1L86.4 276.2L86.4 274.6L86.5 273.1L86.5 271.9L86.7 270.8L86.8 269.8L87.0 269.1L87.2 268.4L87.6 267.8L88.2 267.0Z" fill="#4c72b0" fill-opacity="0.95" filter="url(#t85)"/>
<path d="M89.1 266.8L90.1 265.9L91.2 265.2L92.3 264.6L93.5 264.2L94.8 263.8L96.0 263.7L97.1 263.7L98.2 264.0L99.3 264.4L100.3 265.0L101.4 265.8L102.4 266.8L103.4 267.9L104.5 269.0L105.6 270.1L106.8 271.2L107.9 272.2L109.1 273.2L110.2 274.3L111.4 275.4L112.5 276.6L113.6 277.8L114.6 279.0L115.6 280.3L116.6 281.7L117.5 283.0L118.3 284.3L119.1 285.5L119.8 286.8L120.5 288.0L121.2 289.2L121.9 290.3L122.6 291.4L123.4 292.4L124.2 293.4L125.1 294.4L126.1 295.3L126.6 296.1L126.8 296.8L126.6 297.4L125.9 297.9L125.2 298.4L124.2 299.0L123.1 299.5L121.9 300.1L120.6 300.6L119.4 301.0L118.1 301.3L116.9 301.5L115.5 301.6L114.1 301.7L112.5 301.6L110.8 301.4L109.2 301.2L107.5 301.1L105.8 300.9L104.2 300.6L102.6 300.4L101.0 300.1L99.5 299.7L98.0 299.3L96.6 298.8L95.3 298.2L94.1 297.5L92.9 296.7L91.8 295.8L90.8 294.7L89.9 293.4L89.1 292.1L88.4 290.6L87.8 289.1L87.4 287.5L87.1 285.8L86.9 284.1L86.7 282.2L86.7 280.2L86.7 278.1L86.7 276.3L86.7 274.6L86.8 273.2L86.9 272.1L87.0 271.1L87.1 270.2L87.2 269.5L87.3 268.9L87.7 268.2L88.2 267.5Z" fill="#4c72b0" fill-opacity="1.0" filter="url(#b)"/>
<path d="M116.7 277.3h0M109.5 301.7h0M122.2 276.8h0M121.6 284.2h0M124.5 290.0h0M86.6 284.3h0M86.8 287.6h0M121.0 301.3h0M87.0 269.9h0M95.6 262.0h0M104.2 263.2h0M111.2 270.1h0M86.5 271.0h0M123.9 280.6h0M89.1 292.5h0M101.7 262.3h0M106.5 266.1h0M101.7 301.5h0M88.7 291.9h0M117.5 278.4h0M130.3 297.4h0M111.3 267.3h0M98.3 300.3h0M105.0 301.9h0M109.3 265.1h0M88.2 291.5h0M109.8 266.9h0M114.5 302.1h0M92.2 296.8h0M112.8 271.2h0M114.9 267.3h0M90.2 264.0h0M96.8 299.3h0M122.9 288.7h0M87.2 267.8h0M86.6 272.0h0M108.8 267.3h0M126.4 287.0h0M108.8 266.3h0M111.6 270.8h0M110.2 268.8h0M113.0 273.1h0M87.4 288.2h0M128.9 290.8h0M122.0 287.1h0M98.1 260.5h0M126.0 292.9h0M129.3 296.4h0M122.4 287.0h0M99.2 262.7h0M116.8 266.5h0M117.2 276.6h0M125.9 291.6h0M120.3 302.2h0M87.2 288.2h0M121.3 284.8h0M108.2 303.5h0M124.0 289.6h0M125.4 291.0h0M86.4 276.8h0M103.7 257.8h0M123.9 289.7h0M122.1 285.1h0M86.1 271.9h0M108.1 264.5h0M93.8 297.6h0M128.3 284.1h0M94.5 299.3h0M105.2 263.2h0M103.9 263.5h0M114.3 273.2h0M119.7 270.2h0M118.4 279.7h0M116.4 276.3h0M86.3 281.3h0M120.8 282.0h0M125.9 285.5h0M96.0 299.0h0M127.7 298.0h0M89.6 265.8h0M86.1 282.2h0M111.0 261.3h0M124.7 285.9h0M116.3 274.0h0M130.2 296.5h0M117.6 277.8h0M120.9 284.1h0M95.7 262.5h0M132.0 295.1h0M103.4 301.0h0M107.4 264.0h0M118.6 304.1h0M123.1 276.2h0M119.0 275.9h0M86.9 268.2h0M120.0 301.9h0M100.6 262.7h0M128.9 287.9h0M112.0 271.6h0M85.5 289.7h0M131.5 296.2h0M122.2 287.2h0M94.8 262.7h0M109.4 265.5h0M86.5 277.3h0M88.1 290.3h0M119.0 281.4h0M119.0 302.1h0M86.6 274.0h0M101.4 262.8h0M86.3 268.2h0M123.7 284.9h0M115.3 274.1h0M85.0 279.0h0M124.5 285.7h0M104.0 263.6h0M106.3 304.3h0M116.2 276.7h0M92.0 296.7h0M117.7 278.5h0M128.6 292.3h0M127.2 293.6h0M108.9 303.2h0M86.2 289.8h0M107.1 266.6h0M86.2 278.9h0M125.5 288.9h0M102.5 262.7h0M128.0 292.5h0M86.0 289.9h0M115.4 276.0h0M122.5 287.3h0M102.4 300.7h0M123.1 284.0h0" stroke="#4c72b0" stroke-opacity="0.3" stroke-width="1.5" stroke-linecap="round" fill="none"/>
<path d="M112.9 303.9h0M116.3 276.7h0M129.2 294.1h0M111.3 268.5h0M121.1 283.2h0M120.7 283.2h0M103.8 262.9h0M86.6 286.2h0M107.8 301.5h0M116.2 302.4h0M103.7 259.5h0M118.7 278.8h0M120.6 281.8h0M119.8 275.1h0M110.8 302.0h0M126.1 291.6h0M127.2 289.9h0M124.9 301.5h0M124.6 291.1h0M126.1 292.6h0M121.1 301.9h0M92.5 296.7h0M130.3 296.4h0M89.8 265.6h0M110.6 268.5h0M121.4 285.6h0M123.1 288.9h0M85.6 283.4h0M128.5 295.0h0M102.8 263.3h0M115.3 274.4h0M101.3 301.7h0M120.3 283.5h0M128.8 296.8h0M112.9 272.3h0M126.8 293.5h0M132.1 289.5h0M125.1 290.6h0M117.7 278.1h0M117.9 277.7h0M123.2 300.9h0M92.3 296.5h0M122.2 287.0h0M117.9 301.9h0M98.8 262.6h0M123.6 283.2h0M121.4 284.6h0M116.5 275.2h0M133.1 288.3h0M121.6 286.0h0M126.7 291.9h0M99.6 260.9h0M116.7 276.6h0M93.2 297.3h0M105.9 261.2h0M95.1 298.8h0M120.9 282.0h0M88.3 292.1h0M124.4 289.9h0M125.4 299.3h0M86.5 281.8h0M111.0 267.7h0M122.9 288.3h0M86.6 276.0h0M88.5 292.1h0M122.0 278.6h0M113.8 273.6h0M88.5 292.6h0M86.8 292.6h0M86.7 288.1h0M88.0 291.0h0M128.2 285.4h0M106.7 301.5h0M122.0 286.8h0M125.7 292.5h0M134.1 284.2h0M115.6 276.0h0M98.9 261.5h0M130.2 292.4h0M93.2 297.4h0M102.6 263.0h0M109.7 307.7h0M122.4 286.5h0M107.3 266.7h0M122.3 301.8h0M103.6 263.7h0M109.0 268.5h0M106.9 265.1h0M102.7 262.6h0M124.1 282.1h0M86.9 288.7h0M112.4 272.5h0M109.4 267.4h0M118.7 278.5h0M110.5 270.1h0M89.6 263.9h0M121.8 301.2h0M106.1 261.8h0M86.4 281.6h0M89.4 294.8h0M123.9 289.2h0M86.7 273.8h0M86.6 271.3h0M115.5 273.9h0M119.9 282.5h0M116.7 277.0h0M120.1 283.1h0M102.7 263.1h0M102.3 263.0h0M122.4 286.9h0M102.0 262.7h0M119.7 282.4h0M86.2 276.3h0M103.0 261.9h0M86.5 271.7h0M86.9 289.1h0M132.5 292.1h0M119.6 280.2h0M127.5 294.5h0M120.6 301.6h0M109.7 269.7h0M113.4 273.3h0M125.9 290.0h0M113.9 274.0h0M111.4 270.9h0M123.0 283.9h0M112.0 267.1h0M110.5 265.3h0M129.2 294.8h0M111.3 271.2h0M130.5 295.5h0M118.1 277.9h0M119.3 277.2h0" stroke="#4c72b0" stroke-opacity="0.3" stroke-width="1.5" stroke-linecap="round" fill="none"/>
<path d="M121.8 284.6h0M86.1 271.6h0M102.5 300.8h0M84.7 278.1h0M120.1 278.8h0M123.9 290.0h0M124.6 300.0h0M112.8 272.5h0M125.6 291.8h0M122.7 286.3h0M127.6 290.7h0M111.8 270.0h0M94.2 298.4h0M108.3 268.0h0M108.8 267.1h0M106.3 302.4h0M92.0 296.8h0M128.0 299.7h0M113.5 271.6h0M86.2 266.6h0M107.2 266.6h0M129.3 264.9h0M115.5 275.8h0M110.3 269.2h0M88.9 293.6h0M119.0 303.7h0M92.1 264.3h0M115.1 273.1h0M123.2 288.9h0M121.3 302.5h0M96.4 299.1h0M109.1 266.3h0M86.2 279.3h0M95.1 298.5h0M120.1 282.9h0M127.1 292.3h0M129.1 297.6h0M89.7 296.0h0M115.3 270.7h0M88.5 293.3h0M100.3 262.4h0M121.6 282.7h0M104.6 262.5h0M90.5 265.0h0M91.5 296.5h0M85.9 276.9h0M127.6 291.9h0M116.6 277.6h0M106.2 265.3h0M84.6 287.2h0M109.1 268.7h0M114.9 272.1h0M119.6 281.3h0M108.5 267.9h0M105.4 263.9h0M114.0 273.5h0M123.7 300.8h0M114.4 304.5h0M87.4 266.8h0M86.6 277.6h0M113.0 272.1h0M113.4 302.3h0M122.1 286.6h0M86.6 269.3h0M86.4 275.6h0M117.9 275.7h0M97.4 262.7h0M118.1 274.8h0M118.6 280.3h0M126.4 289.9h0M94.3 297.9h0M118.4 279.3h0M115.7 274.1h0M115.4 302.7h0M115.6 273.4h0M106.7 263.0h0M122.8 285.3h0M114.7 274.7h0M108.3 264.6h0M106.3 264.4h0M113.5 267.6h0M117.2 272.8h0M116.9 277.4h0M87.0 270.0h0M130.8 294.0h0M116.6 277.6h0M112.6 302.7h0M107.1 266.3h0M92.7 261.9h0M99.0 262.1h0M128.3 294.9h0M85.8 278.7h0M124.9 291.4h0M86.8 271.1h0M86.2 277.9h0M124.0 300.9h0M128.7 289.9h0M101.7 259.6h0M85.7 279.8h0M115.8 274.2h0M124.9 301.0h0M105.8 301.8h0M121.4 282.2h0M125.1 283.3h0M118.8 278.6h0M130.1 294.0h0M88.2 292.0h0M103.9 263.4h0M109.6 269.5h0M107.5 266.6h0M88.7 264.1h0M114.7 274.4h0M100.2 300.9h0M120.7 301.9h0M128.0 298.7h0M126.4 292.8h0M92.8 297.0h0M115.8 276.1h0M106.1 264.0h0M110.4 301.9h0M128.7 294.8h0M130.0 292.1h0M104.4 300.9h0M117.6 266.6h0M86.5 270.9h0M87.7 290.7h0M112.1 271.7h0M118.8 278.3h0M119.2 281.4h0M120.3 277.8h0M93.3 263.4h0M124.5 288.8h0M115.1 273.6h0" stroke="#4c72b0" stroke-opacity="0.3" stroke-width="1.5" stroke-linecap="round" fill="none"/>
<path d="M145.7 276.2h0M151.5 286.4h0M159.8 276.0h0M111.3 272.0h0M163.7 283.0h0" stroke="#4c72b0" stroke-opacity="0.2" stroke-width="1.5" stroke-linecap="round" fill="none"/>
<path d="M189.6 273.0h0M182.5 292.0h0M134.7 264.2h0M122.4 291.8h0M146.3 265.8h0" stroke="#4c72b0" stroke-opacity="0.2" stroke-width="1.5" stroke-linecap="round" fill="none"/>
<path d="M162.5 300.3h0M139.9 287.9h0M181.9 294.3h0M160.1 290.0h0" stroke="#4c72b0" stroke-opacity="0.2" stroke-width="1.5" stroke-linecap="round" fill="none"/>
</g>
<g>
<path d="M269.6 321.3h0M313.2 295.6h0M324.9 303.4h0M263.8 320.3h0M311.5 297.0h0M273.8 319.0h0M344.9 310.2h0M312.4 296.9h0M344.9 308.3h0M321.6 309.7h0M345.2 307.9h0M264.1 322.4h0M346.1 309.7h0M269.5 321.5h0M322.9 307.5h0M323.2 308.4h0M260.4 321.3h0M325.0 308.8h0M326.8 307.3h0M345.1 308.8h0M315.3 290.6h0M267.5 317.5h0M325.9 309.1h0M320.2 310.6h0M319.7 306.9h0M315.4 299.7h0M346.3 307.4h0M259.1 319.6h0M314.4 299.9h0M313.6 295.7h0M311.9 297.9h0M269.2 323.2h0M326.9 309.0h0M261.8 322.8h0M313.5 297.8h0M343.7 306.8h0M263.8 323.8h0M253.3 319.6h0M270.7 321.1h0M324.6 308.6h0M325.3 303.3h0M315.3 293.0h0M322.6 305.5h0M310.2 291.6h0M327.2 306.6h0M326.5 307.1h0M313.7 294.8h0M346.0 309.0h0M313.1 296.9h0M346.8 307.8h0M344.9 306.4h0M313.2 298.5h0M312.5 291.5h0M263.3 321.7h0M345.1 309.1h0M325.9 302.5h0M266.9 319.6h0M326.5 307.3h0M313.6 291.6h0M345.8 311.3h0M266.5 321.0h0M267.6 321.3h0M312.2 298.9h0M325.9 307.3h0M265.1 322.4h0M325.0 307.2h0M272.1 317.5h0M263.8 320.3h0M266.7 323.0h0M315.1 294.4h0M324.1 306.9h0M261.3 321.1h0M322.2 304.6h0M313.7 292.1h0M313.3 298.3h0M311.5 295.9h0M314.1 295.3h0M311.3 298.4h0M312.3 298.4h0M325.3 307.0h0M266.0 320.4h0M314.0 295.3h0M313.5 296.2h0M266.0 321.3h0M316.2 299.5h0M329.9 304.7h0M265.8 323.5h0M345.9 308.1h0M314.9 293.1h0M267.8 320.9h0M313.7 291.7h0M312.1 294.1h0M345.5 311.5h0M259.8 321.7h0M259.6 321.6h0M272.5 320.9h0M327.2 305.5h0M321.3 308.0h0M343.6 308.3h0M313.8 303.2h0M348.1 308.9h0M347.4 310.6h0M264.7 322.2h0M263.3 321.1h0M261.5 319.9h0M342.9 308.0h0M312.7 291.7h0M314.2 294.4h0M345.9 310.4h0M312.1 294.9h0M323.2 306.4h0M344.9 310.2h0M324.4 307.7h0M314.3 289.5h0M324.2 304.8h0M313.5 294.1h0M326.5 307.8h0M325.8 306.1h0M267.0 321.2h0M312.9 298.4h0M268.4 323.4h0M325.0 303.0h0M322.8 309.0h0M265.3 319.4h0M325.2 310.0h0M259.5 322.6h0M323.0 306.0h0M347.9 308.5h0M347.8 310.5h0M311.8 298.1h0" stroke="#4c72b0" stroke-opacity="0.38" stroke-width="1.5" stroke-linecap="round" fill="none"/>
<path d="M273.6 321.2h0M326.5 309.0h0M265.9 323.7h0M326.5 306.7h0M342.2 306.3h0M325.4 306.7h0M324.1 305.0h0M312.4 293.4h0M311.6 292.7h0M312.3 295.4h0M321.8 308.5h0M260.6 321.6h0M344.5 310.9h0M343.9 310.7h0M346.5 310.5h0M345.2 310.7h0M343.4 307.3h0M321.1 302.3h0M312.4 294.0h0M346.1 311.3h0M272.0 321.0h0M312.5 294.9h0M344.1 311.0h0M348.4 309.9h0M324.2 309.5h0M344.9 306.7h0M269.8 322.9h0M270.1 323.7h0M312.2 292.5h0M341.4 308.3h0M267.9 322.4h0M326.9 306.4h0M264.9 321.2h0M346.2 311.7h0M311.3 295.7h0M325.1 307.8h0M311.2 296.3h0M314.7 298.7h0M262.5 324.3h0M314.6 292.9h0M344.3 309.3h0M261.1 322.4h0M345.5 310.7h0M261.7 323.1h0M255.0 321.0h0M321.6 306.1h0M345.0 310.4h0M324.7 306.3h0M260.7 321.3h0M310.5 299.0h0M315.2 294.6h0M343.7 307.4h0M265.9 320.9h0M325.2 309.2h0M313.3 300.2h0M345.7 307.2h0M263.9 322.3h0M325.8 310.0h0M311.5 296.7h0M268.5 321.2h0M326.7 306.5h0M325.5 303.7h0M271.0 323.4h0M311.4 294.1h0M342.6 311.8h0M347.6 307.6h0M321.2 305.7h0M312.9 297.2h0M323.0 302.0h0M260.9 322.0h0M312.0 297.3h0M267.5 322.1h0M313.6 295.2h0M345.9 310.3h0M322.3 305.4h0M321.1 308.2h0M310.4 292.3h0M310.7 294.8h0M326.7 307.8h0M313.3 292.6h0M323.8 304.3h0M348.0 308.9h0M342.9 306.9h0M263.6 322.3h0M313.9 292.0h0M262.5 321.1h0M348.0 308.0h0M261.8 321.3h0M323.7 309.3h0M262.0 321.5h0M313.9 294.9h0M313.3 298.4h0M327.1 308.8h0M314.0 299.1h0M328.0 304.3h0M313.1 295.1h0M263.5 322.9h0M268.4 320.4h0M312.6 298.6h0M315.9 291.8h0M345.4 309.7h0M346.5 310.3h0M323.1 305.1h0M261.9 322.8h0M310.4 295.8h0M262.4 319.9h0M266.5 319.3h0M313.7 296.7h0M311.3 296.7h0M311.3 295.0h0M313.9 300.2h0M268.9 322.8h0M264.2 321.2h0M274.1 320.6h0M324.6 305.1h0M322.7 304.3h0M262.6 322.7h0M315.2 292.8h0M314.8 291.0h0M311.4 297.1h0M311.4 296.2h0M271.7 321.7h0M325.8 310.2h0M262.8 322.1h0M325.0 306.5h0M327.8 305.2h0M260.9 322.3h0M311.3 297.3h0M324.5 308.8h0M266.7 323.3h0" stroke="#4c72b0" stroke-opacity="0.38" stroke-width="1.5" stroke-linecap="round" fill="none"/>
<path d="M346.6 309.4h0M323.4 309.0h0M309.3 293.0h0M311.6 297.1h0M347.4 307.5h0M350.9 309.5h0M349.7 309.0h0M325.0 307.2h0M256.6 320.1h0M261.9 319.6h0M309.6 298.4h0M269.5 323.5h0M329.4 307.4h0M322.4 306.2h0M267.7 321.7h0M343.0 311.0h0M265.5 321.1h0M313.9 293.5h0M312.4 294.7h0M271.7 322.4h0M345.0 309.0h0M266.8 323.2h0M265.9 322.5h0M312.4 297.4h0M314.6 296.5h0M330.1 306.1h0M325.5 304.5h0M324.7 307.4h0M312.2 295.5h0M346.9 309.5h0M325.6 306.5h0M310.1 292.3h0M346.4 309.0h0M268.5 320.2h0M325.6 307.9h0M265.3 322.2h0M346.7 308.7h0M346.4 308.6h0M314.4 291.6h0M313.3 299.4h0M328.2 307.3h0M262.3 319.8h0M265.3 318.8h0M272.3 320.4h0M258.2 318.7h0M321.0 306.4h0M325.4 308.3h0M311.1 295.4h0M266.6 320.1h0M267.1 322.3h0M311.6 296.6h0M314.6 295.9h0M273.8 320.4h0M326.7 306.4h0M314.3 297.7h0M313.7 301.5h0M313.6 294.6h0M313.9 296.7h0M347.5 311.2h0M323.1 307.0h0M343.5 310.6h0M322.7 306.0h0M314.5 293.8h0M312.5 296.3h0M259.0 319.7h0M269.9 322.6h0M258.5 322.9h0M321.4 304.9h0M326.2 306.8h0M323.7 309.7h0M313.2 294.5h0M271.6 324.7h0M310.1 293.2h0M324.3 306.0h0M320.3 304.5h0M344.9 307.4h0M312.9 297.6h0M272.5 321.7h0M311.5 297.0h0M322.6 309.6h0M348.7 311.0h0M341.5 306.5h0M313.6 292.6h0M263.0 322.2h0M321.9 305.4h0M262.1 323.0h0M329.0 306.4h0M322.0 306.7h0M324.5 311.4h0M311.7 294.0h0M263.0 319.8h0M272.2 319.6h0M347.9 309.6h0M265.3 320.3h0M322.2 305.5h0M347.6 311.0h0M312.4 293.2h0M324.6 305.8h0M315.0 296.0h0M314.3 298.1h0M265.7 323.0h0M347.4 307.7h0M272.8 322.6h0M265.2 322.2h0M324.3 307.0h0M321.9 307.5h0M314.6 298.3h0M257.1 321.0h0M272.6 322.6h0M256.9 323.5h0M322.7 311.9h0M260.5 321.7h0M314.4 294.0h0M343.8 307.5h0M326.7 304.8h0M264.4 323.1h0M266.0 320.9h0M315.0 298.3h0M345.6 308.7h0M259.8 320.7h0M324.7 307.9h0M325.1 307.1h0M320.4 302.7h0M345.8 307.3h0M326.4 304.3h0M268.9 320.2h0M346.6 309.1h0M345.7 309.3h0M311.3 296.6h0M313.1 293.6h0" stroke="#4c72b0" stroke-opacity="0.38" stroke-width="1.5" stroke-linecap="round" fill="none"/>
<path d="M324.9 313.7h0M280.8 320.9h0M274.3 319.6h0M303.0 308.8h0M303.1 307.8h0M294.0 310.8h0M276.9 321.3h0M282.9 320.6h0M299.3 308.3h0M275.1 318.2h0M297.2 310.6h0M281.7 320.7h0M278.2 319.2h0M295.2 308.8h0M290.9 309.3h0M301.6 310.5h0M281.0 322.6h0M277.1 320.8h0M298.5 310.3h0M299.1 311.1h0M294.1 309.4h0M325.4 310.2h0M297.1 309.3h0M296.1 310.3h0M295.7 310.1h0M275.2 320.1h0M296.0 307.2h0M277.0 320.5h0M294.5 308.1h0M326.3 313.6h0M281.8 318.3h0M297.2 309.0h0M276.4 320.4h0M298.5 309.8h0M278.3 320.0h0M300.4 309.7h0M303.7 307.6h0M279.0 321.2h0M297.1 308.5h0M326.5 309.4h0M281.0 318.7h0M280.6 319.7h0M284.5 320.3h0M296.5 310.1h0M292.0 309.5h0M326.1 313.4h0M298.1 306.4h0M282.5 319.8h0" stroke="#4c72b0" stroke-opacity="0.3" stroke-width="1.5" stroke-linecap="round" fill="none"/>
<path d="M274.8 320.9h0M291.3 311.2h0M283.1 318.6h0M326.5 314.1h0M299.8 308.9h0M295.7 309.2h0M295.5 306.5h0M277.0 321.2h0M296.3 309.8h0M272.0 320.7h0M283.9 320.6h0M282.1 319.8h0M326.6 315.9h0M279.9 322.9h0M272.5 320.2h0M276.8 318.2h0M269.6 322.2h0M293.9 311.1h0M301.0 308.4h0M276.4 318.0h0M298.7 308.5h0M273.4 320.6h0M324.8 314.4h0M329.1 310.3h0M298.1 310.4h0M294.0 309.7h0M325.7 318.7h0M276.3 320.8h0M281.9 321.5h0M326.1 312.4h0M324.3 313.4h0M279.4 318.4h0M275.6 320.9h0M298.5 308.8h0M297.3 309.1h0M325.3 310.4h0M275.4 321.6h0M327.1 313.0h0M283.4 320.1h0M293.9 309.7h0M299.1 309.3h0M326.3 314.9h0M325.7 316.5h0M296.1 308.5h0M296.3 311.5h0M327.6 316.1h0M283.0 320.1h0M326.5 315.4h0" stroke="#4c72b0" stroke-opacity="0.3" stroke-width="1.5" stroke-linecap="round" fill="none"/>
<path d="M282.8 320.2h0M327.2 311.9h0M282.2 321.8h0M282.3 321.7h0M326.8 320.2h0M327.0 314.5h0M325.8 311.4h0M282.5 321.7h0M324.0 308.9h0M301.3 309.1h0M325.5 314.6h0M295.2 309.5h0M302.1 306.8h0M305.7 310.3h0M329.8 316.2h0M298.8 309.8h0M278.1 322.5h0M296.4 311.0h0M296.8 309.6h0M280.8 320.5h0M282.7 321.5h0M276.7 320.6h0M297.4 309.2h0M302.3 309.0h0M295.9 308.8h0M292.8 309.9h0M305.0 307.2h0M295.2 309.2h0M277.5 320.8h0M326.8 315.7h0M282.5 321.7h0M295.5 309.2h0M282.0 322.4h0M297.2 307.8h0M281.9 318.9h0M324.5 311.9h0M277.8 321.2h0M277.1 320.3h0M297.7 308.3h0M279.3 320.8h0M297.9 309.9h0M300.4 311.6h0M326.3 316.5h0M300.0 308.5h0M325.3 315.9h0M294.8 307.2h0M328.5 311.8h0" stroke="#4c72b0" stroke-opacity="0.3" stroke-width="1.5" stroke-linecap="round" fill="none"/>
<path d="M308.3 292.6h0M312.3 311.0h0M314.4 319.6h0M313.0 306.0h0M310.1 287.5h0M313.4 314.9h0M311.4 297.6h0M312.5 313.5h0M315.9 304.4h0M309.4 305.3h0M313.1 297.7h0M311.6 315.5h0M309.7 306.4h0M315.3 291.0h0M313.6 315.5h0M316.8 295.7h0M315.8 304.7h0M319.6 295.4h0M312.7 288.7h0M313.0 306.8h0M312.6 297.3h0M312.0 300.8h0M316.4 308.0h0M311.8 326.6h0M311.2 311.2h0M309.5 302.2h0M315.1 303.6h0M311.0 297.5h0M310.2 307.2h0M307.9 317.6h0M310.1 312.1h0M314.1 321.6h0M314.4 301.5h0M311.0 311.0h0M313.4 306.2h0M309.2 303.2h0M311.2 316.4h0M311.2 300.9h0M307.6 302.2h0M310.7 305.5h0M312.7 309.3h0M317.4 293.2h0M314.5 312.3h0M312.4 315.2h0M311.3 302.7h0M317.7 324.3h0M312.2 305.5h0M319.4 315.6h0M314.2 307.4h0M312.2 297.0h0M310.8 293.5h0M315.2 307.9h0M313.5 330.2h0M315.3 315.9h0M315.5 304.5h0M313.9 299.9h0M312.8 309.0h0M314.8 311.8h0M312.4 316.9h0M315.3 315.5h0" stroke="#4c72b0" stroke-opacity="0.28" stroke-width="1.5" stroke-linecap="round" fill="none"/>
<path d="M313.9 307.4h0M316.1 299.5h0M312.8 323.1h0M312.7 299.7h0M311.2 316.7h0M315.5 320.9h0M311.1 299.6h0M313.5 302.4h0M314.0 312.8h0M312.7 291.2h0M312.1 322.1h0M311.8 303.2h0M306.7 303.3h0M313.0 291.8h0M314.4 305.5h0M313.0 307.5h0M310.9 330.8h0M316.8 298.3h0M313.1 301.5h0M316.4 306.6h0M311.4 310.6h0M310.0 307.5h0M310.9 302.8h0M313.9 316.8h0M310.0 313.2h0M314.4 308.4h0M314.6 332.0h0M312.3 290.5h0M312.4 298.3h0M313.5 316.9h0M316.3 292.6h0M311.8 309.0h0M310.9 293.4h0M312.7 318.2h0M314.2 300.5h0M311.0 300.0h0M312.5 304.3h0M307.8 307.1h0M314.2 312.5h0M312.8 315.3h0M313.3 319.0h0M312.3 303.1h0M316.7 312.2h0M315.2 314.5h0M315.8 300.7h0M312.6 300.6h0M315.2 303.5h0M315.9 323.0h0M314.5 310.7h0M314.4 310.4h0M314.3 304.9h0M306.6 309.9h0M314.9 299.4h0M313.3 303.9h0M312.9 319.0h0M314.1 302.0h0M312.3 295.8h0M312.4 299.4h0M310.6 318.3h0M311.0 304.5h0" stroke="#4c72b0" stroke-opacity="0.28" stroke-width="1.5" stroke-linecap="round" fill="none"/>
<path d="M314.0 315.1h0M310.9 315.2h0M313.4 319.7h0M316.8 311.9h0M312.4 301.9h0M314.7 306.8h0M309.0 303.5h0M310.4 306.5h0M305.7 291.5h0M312.9 313.9h0M312.4 303.3h0M311.6 305.0h0M313.2 300.6h0M309.3 307.7h0M311.9 313.7h0M311.9 317.9h0M313.1 300.2h0M311.6 309.5h0M310.7 316.1h0M315.0 308.5h0M310.6 320.9h0M310.0 314.3h0M311.8 313.3h0M312.8 293.4h0M312.2 300.7h0M312.2 278.4h0M314.8 288.9h0M313.0 314.5h0M312.8 307.0h0M312.9 308.0h0M314.7 308.9h0M310.7 316.7h0M310.8 304.8h0M315.3 312.4h0M309.8 310.2h0M313.4 299.4h0M313.3 303.2h0M314.8 318.5h0M311.0 301.0h0M312.2 314.2h0M310.2 312.4h0M314.0 323.3h0M313.7 306.8h0M314.9 306.3h0M312.2 316.2h0M315.3 311.5h0M315.0 305.1h0M317.0 317.7h0M314.9 320.4h0M310.6 291.7h0M313.4 299.6h0M315.6 316.1h0M311.9 324.7h0M313.1 301.1h0M312.8 292.7h0M318.2 311.6h0M313.0 308.1h0M313.8 316.0h0M314.2 305.4h0M313.0 312.8h0" stroke="#4c72b0" stroke-opacity="0.28" stroke-width="1.5" stroke-linecap="round" fill="none"/>
<path d="M290.7 300.3h0M297.2 301.3h0M287.2 299.0h0M293.2 299.5h0M290.2 300.5h0M292.3 301.2h0M293.6 299.6h0M294.7 300.3h0M292.2 299.8h0" stroke="#4c72b0" stroke-opacity="0.25" stroke-width="1.5" stroke-linecap="round" fill="none"/>
<path d="M297.3 302.0h0M293.4 301.6h0M296.8 300.8h0M292.5 301.8h0M292.9 298.6h0M296.4 300.8h0M289.6 301.5h0M289.7 299.3h0" stroke="#4c72b0" stroke-opacity="0.25" stroke-width="1.5" stroke-linecap="round" fill="none"/>
<path d="M292.6 303.8h0M289.2 301.3h0M299.2 302.3h0M293.0 301.4h0M289.5 302.5h0M293.3 301.8h0M292.0 301.9h0M294.9 301.3h0" stroke="#4c72b0" stroke-opacity="0.25" stroke-width="1.5" stroke-linecap="round" fill="none"/>
<path d="M310.2 304.0h0M304.9 323.5h0M324.5 315.1h0M303.5 309.7h0M315.9 304.1h0M314.7 305.6h0M337.7 300.5h0M313.6 309.7h0M327.5 317.2h0M328.1 315.0h0M313.0 309.3h0M299.4 313.4h0M302.3 310.0h0M284.6 318.4h0M306.5 317.6h0M285.9 300.4h0M279.2 307.4h0M258.1 296.7h0M302.0 311.3h0M324.2 320.2h0M277.8 310.8h0M304.8 317.3h0M322.3 302.3h0M343.2 310.7h0M313.3 315.2h0M304.4 290.4h0M301.9 309.2h0M322.3 311.1h0M285.0 304.9h0M299.6 311.1h0M319.9 307.5h0M301.9 325.0h0M297.7 301.6h0M329.0 322.6h0M272.0 303.1h0M293.6 322.3h0M292.0 301.5h0M292.5 312.1h0M305.1 320.0h0M306.0 313.0h0M319.9 319.4h0M316.1 308.7h0M299.6 317.0h0M326.1 312.3h0M325.2 325.7h0M273.3 289.4h0M317.4 308.7h0M312.6 311.3h0M348.2 315.4h0M315.7 294.1h0M320.8 316.7h0M314.5 326.3h0M302.5 313.8h0M334.9 319.2h0M280.5 301.4h0M292.9 317.6h0M320.3 321.6h0M311.7 305.9h0M298.0 300.9h0M313.8 309.5h0M299.8 314.2h0M288.2 307.8h0M326.9 319.3h0M328.9 311.9h0M307.6 311.6h0M277.9 298.1h0M283.5 310.5h0M314.5 323.4h0M306.0 309.5h0M319.0 308.7h0M324.6 315.7h0M293.0 307.7h0M301.2 286.5h0M312.0 315.2h0M336.1 338.1h0M334.7 322.6h0M302.3 295.1h0M307.1 325.8h0M287.9 311.4h0M279.9 314.8h0M279.1 314.8h0M307.5 315.9h0M320.6 299.9h0M320.9 317.3h0M295.6 300.1h0M328.3 316.2h0M272.7 306.8h0M304.6 309.2h0M317.4 317.4h0M314.9 324.0h0M329.4 318.5h0M325.0 322.4h0M310.4 305.1h0M318.9 323.2h0M303.1 312.3h0M335.7 310.1h0M297.0 300.9h0M314.6 317.5h0M333.3 305.2h0M269.5 310.1h0M343.2 307.4h0M320.9 305.7h0M329.7 300.9h0M324.9 292.5h0M290.2 317.0h0M285.0 307.8h0M288.6 307.5h0M336.4 319.3h0M307.0 314.3h0M312.8 307.1h0M319.5 308.7h0M294.3 319.0h0M329.8 318.1h0M328.0 309.8h0M327.0 314.3h0M305.7 314.6h0M343.7 329.0h0M267.1 311.4h0M306.0 326.6h0M286.9 308.5h0M342.6 324.4h0M324.5 304.4h0M297.1 303.2h0M333.3 317.0h0M327.3 322.0h0M308.1 307.7h0M332.1 313.6h0M356.2 327.9h0M299.5 321.5h0M281.8 303.1h0M328.1 316.3h0M317.0 292.7h0M312.1 318.0h0M342.7 312.6h0M312.7 322.4h0M316.2 299.9h0M299.3 307.0h0M285.3 323.7h0M316.4 319.2h0M324.5 316.3h0M323.2 296.9h0M319.3 299.2h0M289.6 305.2h0M276.6 309.2h0M309.0 306.0h0M297.4 316.3h0M310.7 307.8h0M326.3 312.2h0M300.4 319.3h0M293.2 314.4h0" stroke="#4c72b0" stroke-opacity="0.2" stroke-width="1.5" stroke-linecap="round" fill="none"/>
<path d="M328.0 297.3h0M346.9 324.6h0M322.5 305.9h0M290.6 311.9h0M305.0 306.4h0M314.4 300.3h0M308.6 308.0h0M317.0 304.1h0M309.1 307.9h0M300.6 319.6h0M314.2 313.6h0M318.5 310.9h0M287.8 313.7h0M319.0 325.6h0M307.0 325.7h0M321.5 308.0h0M316.7 308.9h0M297.9 320.9h0M320.7 319.5h0M317.6 305.1h0M311.0 306.3h0M324.1 305.6h0M308.4 318.4h0M292.2 307.8h0M301.5 300.4h0M335.0 308.9h0M312.4 303.1h0M285.2 307.8h0M327.1 305.9h0M330.1 304.5h0M316.3 315.3h0M301.0 305.1h0M305.2 316.3h0M304.5 301.3h0M310.3 318.3h0M317.2 321.4h0M301.2 296.8h0M312.4 306.0h0M314.1 310.2h0M298.5 312.2h0M300.7 309.5h0M322.8 297.8h0M330.7 320.9h0M303.3 323.1h0M281.9 313.1h0M309.2 315.7h0M301.3 303.7h0M313.1 307.3h0M317.6 305.7h0M347.6 313.6h0M313.8 311.3h0M307.3 303.4h0M314.7 327.5h0M312.9 309.0h0M298.2 312.3h0M264.0 312.5h0M292.0 312.7h0M334.4 318.8h0M287.9 311.3h0M285.1 309.9h0M288.6 315.5h0M309.6 328.3h0M274.8 300.9h0M288.9 316.2h0M278.5 307.8h0M321.7 299.9h0M297.8 303.4h0M279.1 317.6h0M316.9 305.1h0M285.6 313.3h0M316.2 315.0h0M285.5 308.6h0M311.4 285.5h0M317.6 317.0h0M284.8 308.2h0M307.0 300.8h0M298.2 301.5h0M281.9 308.8h0M287.8 313.2h0M299.1 308.2h0M278.7 310.5h0M299.1 324.2h0M290.0 313.6h0M289.7 307.1h0M279.9 320.1h0M325.0 280.3h0M321.3 306.7h0M311.5 308.7h0M312.6 312.7h0M261.8 309.5h0M281.6 318.4h0M288.9 304.9h0M313.7 306.5h0M312.1 312.4h0M295.5 308.6h0M333.7 296.1h0M281.6 316.2h0M335.2 333.5h0M277.9 314.4h0M303.5 299.7h0M309.3 297.9h0M294.1 303.9h0M287.4 313.4h0M333.7 325.0h0M286.3 310.1h0M305.4 306.1h0M250.0 297.8h0M311.4 305.6h0M341.4 334.4h0M315.2 323.7h0M304.9 299.4h0M325.3 305.4h0M298.1 321.8h0M274.8 321.0h0M264.8 314.7h0M331.9 314.8h0M302.7 306.5h0M327.2 298.8h0M340.8 316.7h0M308.9 310.9h0M315.9 300.6h0M271.3 297.2h0M306.1 318.8h0M297.2 305.3h0M313.7 296.6h0M265.5 306.7h0M309.4 300.0h0M319.8 303.2h0M331.4 321.4h0M309.8 294.1h0M280.6 301.4h0M323.6 317.5h0M302.2 310.6h0M265.5 296.4h0M295.6 305.4h0M321.6 310.3h0M296.0 311.5h0M347.6 326.2h0M325.2 300.1h0M320.8 313.2h0M311.6 319.5h0M311.3 309.1h0M293.2 305.9h0M329.9 295.3h0M317.3 301.7h0M324.8 330.4h0M286.1 294.9h0M305.2 314.0h0M306.9 319.6h0" stroke="#4c72b0" stroke-opacity="0.2" stroke-width="1.5" stroke-linecap="round" fill="none"/>
<path d="M303.6 314.4h0M324.5 321.4h0M307.5 318.1h0M328.4 310.6h0M302.2 305.7h0M290.7 315.2h0M314.4 298.3h0M289.1 322.0h0M309.0 296.6h0M299.0 322.4h0M333.3 304.2h0M284.7 311.8h0M284.0 312.5h0M312.6 307.6h0M309.3 290.1h0M320.5 305.8h0M259.1 288.9h0M327.5 304.1h0M331.1 308.9h0M318.7 301.6h0M312.4 311.3h0M314.8 316.8h0M270.2 305.6h0M290.5 329.3h0M312.1 309.2h0M313.0 323.7h0M289.8 308.3h0M329.1 325.6h0M307.3 308.9h0M340.4 329.4h0M314.0 315.3h0M321.6 277.9h0M312.9 318.0h0M309.3 298.8h0M317.7 324.4h0M302.0 305.5h0M320.0 311.3h0M302.3 302.1h0M273.2 302.7h0M320.5 325.9h0M308.9 318.3h0M319.1 291.5h0M341.6 340.6h0M308.0 316.1h0M264.8 308.8h0M284.3 293.9h0M324.1 326.8h0M322.3 313.2h0M305.1 322.3h0M274.3 317.6h0M304.1 302.8h0M309.6 306.1h0M313.8 300.2h0M309.4 319.7h0M299.0 319.4h0M290.5 306.7h0M320.0 316.2h0M313.7 305.1h0M323.3 299.0h0M302.2 308.3h0M309.3 312.6h0M320.2 307.9h0M305.0 291.8h0M277.4 309.2h0M289.5 310.5h0M314.7 309.6h0M291.6 311.8h0M315.3 300.3h0M317.7 315.2h0M326.8 290.6h0M307.3 303.5h0M271.2 309.8h0M337.6 321.0h0M305.7 308.0h0M330.3 321.4h0M327.4 309.6h0M314.1 291.8h0M311.8 309.6h0M318.5 308.3h0M298.3 312.6h0M264.7 313.4h0M298.7 305.1h0M321.8 303.9h0M326.0 300.0h0M322.2 288.2h0M313.4 314.2h0M320.4 300.4h0M262.2 315.4h0M309.5 309.5h0M301.4 299.9h0M274.6 317.3h0M269.6 303.2h0M323.1 310.8h0M301.0 315.7h0M315.9 311.1h0M326.5 304.2h0M337.0 326.4h0M316.0 319.2h0M322.6 315.6h0M266.5 290.2h0M274.0 302.0h0M336.0 317.1h0M302.8 301.0h0M329.7 310.0h0M306.5 313.7h0M324.0 294.8h0M300.2 283.2h0M318.3 288.7h0M313.0 311.1h0M297.0 327.3h0M304.7 301.9h0M306.2 312.0h0M302.1 313.5h0M310.2 307.1h0M308.5 295.9h0M259.1 307.0h0M280.4 313.5h0M292.0 307.5h0M304.0 311.9h0M276.8 314.3h0M314.3 313.9h0M327.3 293.5h0M315.7 331.2h0M322.8 307.5h0M330.0 293.8h0M307.1 318.2h0M276.0 302.4h0M317.7 322.4h0M301.5 317.8h0M298.0 313.3h0M309.2 320.3h0M270.0 307.7h0M318.2 295.4h0M315.7 310.1h0M313.1 310.2h0M302.8 317.9h0M264.8 310.6h0M298.0 310.1h0M312.4 317.8h0M296.7 299.5h0M319.4 316.5h0M303.8 323.1h0M342.2 291.1h0M320.5 326.6h0M320.9 330.7h0M318.7 308.1h0M281.9 305.4h0M298.5 322.5h0M291.2 314.6h0M322.9 316.6h0" stroke="#4c72b0" stroke-opacity="0.2" stroke-width="1.5" stroke-linecap="round" fill="none"/>
</g>
<g>
<path d="M478.2 307.1h0M468.2 308.9h0M447.6 308.3h0M453.7 308.7h0M468.4 310.5h0M452.2 309.0h0M464.6 308.7h0M465.6 307.2h0M454.2 308.4h0M457.9 307.8h0M466.0 308.9h0M465.6 306.7h0M464.9 307.9h0M470.7 306.3h0M452.4 306.6h0M444.2 306.6h0M443.8 309.3h0M437.8 308.2h0M467.5 307.6h0M446.6 308.3h0M469.4 307.0h0M455.0 308.2h0M470.8 307.6h0M454.2 306.4h0M453.0 322.3h0M440.5 308.1h0M462.5 308.6h0M462.1 309.2h0M444.7 308.5h0M450.5 308.1h0M448.7 307.5h0M475.9 307.5h0M450.2 307.3h0M449.4 306.4h0M443.7 307.8h0M444.2 309.6h0M457.3 308.0h0M457.9 309.4h0M441.8 307.7h0M439.8 309.8h0M454.4 323.7h0M455.2 307.7h0M455.1 308.9h0M442.1 308.0h0M443.8 307.4h0M447.8 308.5h0M447.8 307.1h0M434.5 308.7h0M451.7 306.8h0M468.2 307.8h0M443.8 309.4h0M441.5 308.4h0M476.5 307.6h0M463.0 307.7h0M462.6 309.3h0M457.7 306.7h0M470.8 306.5h0M460.5 309.6h0M453.0 307.8h0M448.3 307.6h0M462.6 309.0h0M437.6 308.3h0M463.1 308.4h0M440.0 306.8h0M474.9 306.4h0M453.1 307.0h0M470.9 307.6h0M431.9 308.0h0M455.3 307.8h0M444.0 308.7h0M440.7 308.2h0M472.8 307.4h0M449.9 309.2h0M446.7 308.1h0M443.4 305.0h0M460.2 308.8h0M464.7 309.3h0M460.8 309.9h0M453.6 309.3h0M467.1 308.9h0M445.8 308.2h0M473.5 308.5h0M457.4 308.1h0M444.6 307.6h0M437.5 306.2h0M451.2 307.4h0M488.5 310.3h0M456.6 308.6h0M457.8 309.4h0M449.5 307.1h0M447.7 307.5h0M451.3 306.4h0" stroke="#4c72b0" stroke-opacity="0.3" stroke-width="1.5" stroke-linecap="round" fill="none"/>
<path d="M440.4 306.7h0M480.0 307.4h0M456.5 308.3h0M454.6 323.1h0M457.7 306.6h0M451.2 307.3h0M435.8 308.7h0M459.9 309.7h0M477.1 306.3h0M463.1 308.7h0M451.6 308.7h0M463.7 308.9h0M441.9 305.6h0M457.2 306.4h0M441.1 308.3h0M457.7 307.4h0M454.5 323.7h0M447.4 306.8h0M466.0 307.1h0M466.2 307.5h0M463.2 306.0h0M445.5 308.5h0M447.8 306.8h0M442.7 308.0h0M451.4 309.0h0M472.1 307.7h0M442.5 307.7h0M446.9 307.8h0M457.4 306.7h0M437.6 309.1h0M482.8 308.7h0M461.4 306.4h0M436.8 308.0h0M447.0 308.3h0M473.5 306.8h0M447.0 308.7h0M460.5 307.7h0M447.1 309.5h0M438.9 308.2h0M462.2 307.8h0M448.9 307.1h0M467.4 306.8h0M468.4 308.8h0M461.4 308.1h0M441.8 307.1h0M447.3 309.1h0M455.4 322.8h0M434.4 307.9h0M453.5 323.9h0M455.8 308.1h0M473.5 307.7h0M459.7 307.4h0M457.7 305.4h0M448.2 309.2h0M459.5 308.9h0M459.7 308.0h0M451.5 305.8h0M451.0 306.6h0M450.0 309.8h0M454.3 309.2h0M467.1 306.2h0M438.5 307.9h0M464.4 308.5h0M455.8 322.7h0M452.2 322.9h0M442.4 308.0h0M461.3 306.1h0M443.0 308.5h0M451.5 308.1h0M474.3 308.7h0M451.6 308.2h0M449.7 310.2h0M433.6 308.8h0M466.1 306.6h0M452.7 309.0h0M470.7 307.6h0M444.6 307.6h0M463.0 305.7h0M461.0 309.3h0M480.8 309.0h0M450.7 308.5h0M466.9 309.2h0M443.6 305.9h0M451.0 308.4h0M464.3 307.9h0M447.4 306.8h0M455.2 307.4h0M450.9 307.8h0M460.0 308.2h0M457.7 308.7h0M442.9 308.1h0M456.9 307.4h0" stroke="#4c72b0" stroke-opacity="0.3" stroke-width="1.5" stroke-linecap="round" fill="none"/>
<path d="M449.6 309.7h0M455.2 323.1h0M457.2 307.5h0M454.3 323.9h0M437.9 307.6h0M452.6 307.0h0M435.7 308.5h0M462.8 307.2h0M455.3 323.1h0M456.7 308.8h0M461.3 308.4h0M446.0 307.6h0M464.6 307.7h0M449.1 308.3h0M458.9 307.8h0M460.9 308.7h0M464.1 307.2h0M463.4 306.8h0M447.8 309.3h0M451.9 307.6h0M458.6 305.0h0M454.8 309.4h0M440.7 308.5h0M456.9 306.6h0M448.2 308.7h0M435.5 307.8h0M477.8 306.4h0M457.4 310.6h0M449.7 308.9h0M454.2 309.2h0M455.7 307.5h0M453.5 308.1h0M447.6 308.9h0M464.7 307.4h0M453.4 307.7h0M451.5 308.6h0M448.1 307.3h0M462.5 308.7h0M450.8 308.6h0M449.1 309.4h0M439.6 306.8h0M461.3 307.1h0M447.5 308.0h0M451.6 307.8h0M455.5 309.2h0M465.6 308.5h0M467.4 308.7h0M459.9 308.2h0M467.5 309.2h0M459.4 308.3h0M450.9 309.2h0M456.5 308.2h0M424.0 308.4h0M460.9 307.2h0M461.5 307.9h0M467.5 308.4h0M440.9 309.1h0M457.2 305.0h0M458.1 309.4h0M441.7 310.6h0M463.4 307.7h0M454.9 323.3h0M430.9 308.4h0M452.6 308.2h0M446.3 306.6h0M445.4 308.7h0M468.8 308.0h0M489.2 307.5h0M445.5 307.9h0M436.8 308.4h0M455.6 323.1h0M467.1 306.2h0M436.9 307.9h0M445.3 306.6h0M460.8 307.7h0M465.3 307.2h0M465.5 307.9h0M454.3 322.9h0M457.6 308.7h0M459.4 307.7h0M463.7 304.7h0M454.1 324.1h0M456.9 307.3h0M449.7 304.1h0M454.8 308.1h0M442.4 307.6h0M461.6 307.9h0M456.2 307.7h0M452.1 310.3h0M462.2 309.1h0M455.5 323.1h0M451.5 306.9h0" stroke="#4c72b0" stroke-opacity="0.3" stroke-width="1.5" stroke-linecap="round" fill="none"/>
<path d="M447.0 308.5h0M470.7 307.1h0M445.0 309.7h0M467.5 306.1h0M450.0 309.1h0M445.4 300.7h0M446.3 315.5h0M452.5 307.3h0M473.6 307.7h0M469.6 307.2h0M452.5 309.9h0M451.1 308.0h0M443.3 301.0h0M440.0 301.0h0M451.9 309.1h0M452.7 311.0h0M459.4 315.5h0M442.6 299.0h0M466.8 306.9h0M467.6 308.4h0M468.6 309.0h0M447.3 309.0h0M445.8 310.4h0M471.0 307.5h0M449.8 310.0h0M470.8 307.0h0M451.6 308.5h0M441.1 300.7h0M458.4 314.3h0M451.4 309.0h0M445.1 300.0h0M449.6 311.1h0M451.1 309.1h0M453.1 309.4h0M446.3 307.8h0M446.0 316.5h0M443.9 300.0h0M449.4 308.2h0M460.1 314.8h0M451.4 308.6h0M460.4 315.3h0M446.3 309.6h0M449.4 310.6h0M443.2 316.8h0M467.5 308.5h0M446.1 309.1h0M470.1 306.9h0M442.3 300.8h0M468.2 309.4h0M473.1 308.1h0M470.4 306.8h0M469.5 307.1h0M447.5 309.4h0M453.3 311.4h0M469.3 307.0h0M448.3 315.4h0M469.0 309.4h0M470.4 306.9h0M444.7 315.6h0M452.3 309.9h0M469.2 307.5h0M443.9 315.0h0M445.0 315.5h0M440.2 302.2h0M446.5 316.3h0M470.3 307.8h0M475.6 308.1h0M460.2 316.0h0M447.7 309.0h0M453.9 309.2h0M444.8 299.8h0M457.9 315.6h0M468.5 308.1h0M458.5 317.1h0M451.5 310.8h0M458.6 314.9h0M468.1 307.3h0M443.5 315.1h0M446.1 316.2h0M468.5 308.0h0M451.0 309.5h0M458.4 315.8h0M468.5 305.5h0M472.9 305.9h0M450.4 307.9h0M446.5 314.3h0M452.2 309.8h0M445.3 314.9h0M448.8 309.8h0M446.0 309.4h0M471.0 308.4h0M444.5 301.1h0M447.9 310.2h0M473.2 307.6h0M469.6 308.4h0M442.7 301.5h0M469.8 309.0h0M458.5 316.1h0M469.9 306.8h0M442.5 299.4h0M445.6 310.6h0M470.2 307.3h0M453.2 309.7h0M440.4 299.2h0" stroke="#4c72b0" stroke-opacity="0.38" stroke-width="1.5" stroke-linecap="round" fill="none"/>
<path d="M452.7 308.3h0M458.3 315.8h0M451.5 308.7h0M449.4 309.2h0M448.6 311.1h0M467.2 305.5h0M448.9 308.6h0M448.1 315.5h0M445.7 309.5h0M448.3 308.6h0M460.3 317.6h0M451.2 308.5h0M444.9 317.1h0M443.8 300.8h0M470.6 309.3h0M452.3 308.3h0M443.2 300.1h0M471.5 307.0h0M473.1 306.8h0M446.3 317.6h0M449.6 309.7h0M441.5 299.7h0M444.7 301.8h0M472.7 311.9h0M442.0 302.3h0M443.3 298.7h0M451.1 309.5h0M468.7 309.1h0M442.2 300.5h0M441.3 299.8h0M445.8 315.4h0M470.9 309.0h0M473.2 308.1h0M452.4 307.8h0M451.9 309.5h0M445.8 309.8h0M444.7 318.4h0M447.1 310.5h0M441.3 300.0h0M466.9 306.7h0M452.6 310.0h0M440.9 299.6h0M444.0 301.0h0M449.6 308.0h0M452.8 308.9h0M441.7 300.1h0M449.4 308.1h0M466.2 306.9h0M440.9 301.9h0M441.7 302.0h0M451.5 307.9h0M443.4 300.7h0M444.9 307.2h0M447.5 315.4h0M449.8 309.3h0M468.2 306.8h0M474.3 308.9h0M444.5 308.0h0M444.9 315.9h0M446.0 309.9h0M450.0 308.6h0M446.4 302.4h0M473.0 306.6h0M450.2 307.4h0M445.5 308.9h0M470.7 305.3h0M444.5 309.5h0M446.0 315.7h0M458.8 315.1h0M473.9 307.8h0M475.5 308.6h0M468.8 307.7h0M469.8 308.7h0M469.6 308.2h0M467.7 307.9h0M444.1 298.8h0M444.4 299.3h0M458.8 316.7h0M469.8 309.5h0M458.8 314.1h0M474.7 306.8h0M448.7 308.4h0M459.6 315.8h0M467.5 308.5h0M459.5 315.6h0M451.7 308.3h0M446.0 308.9h0M447.5 307.6h0M451.5 309.0h0M445.2 308.5h0M445.3 316.3h0M470.4 307.0h0M447.0 317.0h0M450.4 309.5h0M470.4 307.7h0M458.5 316.9h0M444.6 309.5h0M450.6 308.4h0M459.2 316.2h0M447.3 317.6h0M442.6 301.6h0M451.4 309.0h0M445.9 298.9h0" stroke="#4c72b0" stroke-opacity="0.38" stroke-width="1.5" stroke-linecap="round" fill="none"/>
<path d="M451.5 308.3h0M471.9 305.4h0M468.0 307.4h0M453.1 308.7h0M447.0 315.5h0M448.6 308.8h0M447.6 308.7h0M443.9 316.8h0M447.2 308.7h0M444.6 317.6h0M440.8 299.5h0M446.1 316.7h0M445.1 300.1h0M469.6 307.7h0M450.4 307.4h0M444.5 299.9h0M443.3 301.4h0M469.4 307.1h0M447.2 310.5h0M458.8 316.2h0M443.8 298.6h0M470.4 307.9h0M451.5 309.4h0M442.8 311.0h0M448.1 309.3h0M442.9 299.3h0M444.9 314.2h0M449.6 309.9h0M466.4 309.0h0M447.0 299.5h0M469.8 309.3h0M451.9 307.6h0M452.3 309.4h0M453.5 309.8h0M471.9 309.2h0M446.8 309.2h0M444.2 309.1h0M451.8 308.3h0M469.0 310.3h0M446.1 309.3h0M452.6 309.2h0M446.1 316.8h0M450.4 307.8h0M448.4 309.2h0M451.8 308.7h0M471.3 306.4h0M451.6 308.6h0M470.5 307.9h0M459.1 315.8h0M472.5 307.8h0M446.6 309.2h0M471.4 307.0h0M446.7 301.1h0M452.8 309.8h0M451.2 310.4h0M458.8 315.1h0M450.7 309.8h0M449.9 309.7h0M452.8 310.0h0M444.5 301.0h0M445.8 310.3h0M447.8 315.0h0M446.4 317.1h0M452.3 310.4h0M446.4 315.3h0M447.0 310.3h0M444.8 313.9h0M451.8 309.2h0M450.0 311.0h0M447.7 316.1h0M452.0 309.2h0M458.7 317.7h0M469.9 307.0h0M446.7 309.4h0M442.0 299.5h0M448.7 309.9h0M471.8 310.1h0M445.2 316.7h0M447.4 308.9h0M446.0 308.8h0M447.2 315.2h0M451.8 309.3h0M451.6 308.3h0M443.2 317.8h0M446.6 309.3h0M458.8 315.6h0M451.5 309.7h0M441.8 302.6h0M472.9 307.8h0M458.6 317.2h0M448.9 317.4h0M450.3 310.0h0M472.8 310.1h0M450.9 308.8h0M469.9 306.8h0M469.3 308.1h0M469.6 307.9h0M467.6 308.3h0M471.5 307.9h0M445.8 315.5h0M471.3 307.5h0M441.7 308.6h0M447.3 315.8h0" stroke="#4c72b0" stroke-opacity="0.38" stroke-width="1.5" stroke-linecap="round" fill="none"/>
<path d="M466.0 316.1h0M465.3 315.3h0M467.1 315.4h0M466.5 312.6h0M468.1 313.4h0M468.9 314.9h0M470.5 315.2h0M466.2 316.0h0M468.4 314.3h0M469.0 317.0h0M468.6 314.5h0M468.1 317.0h0M467.0 313.7h0M467.4 316.1h0M465.8 315.2h0M465.8 314.9h0M467.0 316.8h0M465.8 314.4h0M468.6 315.5h0M467.5 313.4h0" stroke="#4c72b0" stroke-opacity="0.4" stroke-width="1.5" stroke-linecap="round" fill="none"/>
<path d="M467.1 315.3h0M469.4 319.3h0M466.4 314.5h0M468.5 313.3h0M467.6 313.5h0M466.9 315.2h0M465.9 314.8h0M467.3 315.4h0M466.0 315.4h0M466.8 312.9h0M467.2 313.2h0M467.5 313.7h0M465.9 314.7h0M466.7 314.8h0M466.6 313.0h0M467.5 316.5h0M467.4 315.2h0M467.9 315.5h0M467.1 317.0h0M466.9 313.2h0" stroke="#4c72b0" stroke-opacity="0.4" stroke-width="1.5" stroke-linecap="round" fill="none"/>
<path d="M467.3 314.8h0M468.0 317.7h0M468.4 312.8h0M468.2 314.2h0M464.7 312.5h0M466.9 316.3h0M467.4 314.3h0M467.5 314.0h0M464.5 315.5h0M465.3 315.9h0M468.2 316.0h0M466.4 315.5h0M466.4 313.2h0M466.7 315.5h0M467.0 314.4h0M468.8 314.3h0M465.8 314.6h0M467.0 315.1h0M466.4 315.6h0M470.3 311.8h0" stroke="#4c72b0" stroke-opacity="0.4" stroke-width="1.5" stroke-linecap="round" fill="none"/>
<path d="M438.9 326.9h0M438.6 313.7h0M448.4 315.2h0M443.3 315.3h0M442.4 315.4h0M444.9 317.2h0M457.0 316.1h0M439.7 327.3h0M428.4 328.6h0M432.8 316.1h0M426.2 326.8h0M429.2 328.7h0M445.5 314.2h0M428.6 327.4h0M429.3 331.5h0M448.1 316.1h0M450.8 317.3h0M465.1 313.9h0M428.7 322.7h0M442.8 315.3h0M428.5 317.3h0M437.1 315.0h0M450.1 316.3h0M441.9 313.3h0M447.2 314.5h0M437.6 315.6h0M438.3 327.1h0M451.0 315.0h0M446.7 314.0h0M452.9 315.4h0M439.4 315.2h0M450.7 313.7h0M448.2 316.0h0M441.0 315.6h0M452.5 314.2h0M436.7 315.5h0M433.5 315.7h0M433.6 314.0h0M428.0 318.0h0M446.8 314.6h0M440.8 315.1h0M428.0 328.7h0M445.9 315.1h0M438.7 326.9h0M454.7 316.2h0M445.1 315.6h0M448.7 314.8h0M440.4 327.5h0M424.5 314.2h0" stroke="#4c72b0" stroke-opacity="0.25" stroke-width="1.5" stroke-linecap="round" fill="none"/>
<path d="M458.3 317.1h0M445.5 315.7h0M427.8 329.2h0M441.9 327.1h0M442.8 317.0h0M444.4 316.1h0M451.6 315.8h0M446.7 317.4h0M440.9 315.8h0M439.8 324.6h0M436.6 325.8h0M453.8 316.4h0M426.7 324.7h0M439.1 316.9h0M442.0 314.9h0M432.2 313.4h0M450.7 316.1h0M445.2 314.4h0M436.1 314.1h0M438.6 327.1h0M430.3 327.8h0M438.7 313.2h0M452.2 314.1h0M448.7 317.5h0M426.1 314.0h0M440.4 326.9h0M426.1 315.1h0M458.6 315.4h0M436.6 315.5h0M450.0 316.8h0M443.9 317.5h0M444.9 314.6h0M436.3 315.7h0M434.9 314.1h0M427.0 327.7h0M438.8 315.6h0M435.6 314.9h0M428.1 317.7h0M428.2 331.1h0M435.0 314.7h0M445.2 316.6h0M440.0 316.9h0M432.0 315.1h0M437.4 325.6h0M453.6 316.0h0M445.2 316.3h0M453.3 315.6h0M432.7 314.0h0" stroke="#4c72b0" stroke-opacity="0.25" stroke-width="1.5" stroke-linecap="round" fill="none"/>
<path d="M432.0 313.9h0M441.4 327.9h0M447.2 316.2h0M443.6 316.3h0M434.4 317.9h0M458.4 316.3h0M436.5 326.7h0M443.7 315.6h0M445.1 314.8h0M427.9 328.5h0M443.7 312.2h0M458.9 315.1h0M437.7 326.9h0M429.4 327.1h0M441.3 326.3h0M445.9 316.6h0M430.9 317.2h0M420.0 314.2h0M437.9 326.1h0M438.4 323.6h0M452.7 315.5h0M442.5 315.7h0M444.0 315.6h0M438.2 313.8h0M427.2 326.1h0M437.6 317.5h0M432.7 314.8h0M453.1 315.1h0M443.2 317.7h0M456.5 314.4h0M439.5 315.3h0M452.7 313.1h0M438.8 315.4h0M435.4 326.8h0M450.6 315.1h0M458.2 314.7h0M452.5 315.6h0M441.2 314.5h0M440.1 317.5h0M450.2 315.3h0M442.1 326.6h0M436.4 314.5h0M438.5 324.9h0M426.5 315.4h0M452.1 317.8h0M462.2 314.5h0M438.8 315.1h0M451.7 315.2h0" stroke="#4c72b0" stroke-opacity="0.25" stroke-width="1.5" stroke-linecap="round" fill="none"/>
<path d="M416.4 310.9h0M428.5 300.6h0M454.6 317.7h0M452.2 301.0h0M419.9 301.5h0M449.0 313.6h0M430.4 310.7h0M456.9 307.0h0M451.6 309.8h0M441.1 318.8h0M435.6 321.2h0M453.0 313.8h0M444.1 334.8h0M465.4 316.2h0M468.2 318.8h0M435.8 332.3h0M458.9 306.5h0M440.6 315.3h0M462.2 317.8h0M458.1 317.0h0M434.2 326.2h0M447.2 314.2h0M422.4 299.9h0M439.0 323.5h0M458.0 301.9h0M422.9 307.5h0M449.6 323.2h0M467.0 318.8h0M460.7 304.3h0M430.4 330.1h0M428.2 303.6h0M454.6 315.8h0M424.1 329.3h0M450.0 319.7h0M448.6 300.2h0M453.2 307.9h0M468.3 309.9h0M450.8 305.6h0M485.2 307.2h0M456.2 327.7h0M438.4 328.8h0M410.8 320.4h0M476.5 315.7h0M439.2 324.3h0M445.7 317.6h0M462.9 312.9h0M486.8 311.5h0M431.6 321.2h0M458.0 316.0h0M455.2 311.2h0M450.3 303.3h0M428.9 303.6h0M453.2 330.9h0M440.0 290.3h0M425.1 324.9h0M429.0 321.0h0M451.6 309.7h0M482.0 329.8h0M453.6 298.5h0M441.3 312.7h0M441.5 325.9h0M441.1 298.9h0M466.4 323.8h0M445.9 313.9h0M439.6 325.9h0M437.6 317.7h0M443.1 299.9h0M452.9 297.6h0M437.9 323.1h0M408.9 318.9h0M432.9 325.0h0M456.2 316.7h0M465.9 312.0h0M470.1 319.0h0M462.8 319.2h0M437.0 311.6h0M432.7 325.6h0M436.8 317.9h0M457.3 295.5h0M439.7 292.2h0M485.0 334.6h0M442.0 330.4h0M458.9 320.7h0M448.4 304.1h0M464.4 316.8h0M426.9 317.5h0M446.5 306.9h0M494.7 315.7h0M457.6 311.4h0M459.5 316.0h0M463.0 294.1h0M421.4 304.2h0M448.4 327.2h0M451.0 289.0h0M420.5 323.8h0M458.7 306.4h0M444.6 334.3h0M462.7 304.5h0M446.8 323.1h0M463.1 311.2h0M431.7 294.4h0M451.8 311.4h0M443.5 308.3h0M457.7 306.8h0M432.8 327.2h0M442.0 322.0h0M452.7 312.7h0M447.2 302.6h0M437.5 328.5h0M460.4 312.3h0M445.2 321.0h0M439.0 328.2h0M452.6 312.7h0M453.7 311.9h0M439.4 326.3h0M454.1 310.0h0M475.1 308.0h0M429.7 330.2h0M434.9 326.2h0M463.2 305.5h0M440.1 328.1h0M420.7 305.8h0M452.2 324.6h0M442.3 304.7h0M460.1 315.9h0M440.4 300.5h0M463.8 311.1h0M448.3 314.6h0M436.8 305.0h0M463.8 321.5h0M437.4 320.3h0M457.6 309.9h0M410.6 310.1h0M455.4 312.7h0M421.7 308.5h0M468.5 316.5h0M443.1 321.4h0M459.2 314.4h0M459.8 312.1h0M440.7 328.5h0M434.8 323.9h0M433.3 313.5h0M442.6 316.0h0M436.9 319.9h0M440.1 309.8h0M446.2 325.4h0M463.5 311.2h0M443.6 300.7h0M425.4 312.6h0M455.2 303.7h0M428.3 331.5h0M469.1 318.0h0M448.5 314.4h0M436.9 301.2h0M466.3 286.7h0M467.9 304.0h0M455.7 326.4h0M431.4 332.9h0M438.4 310.9h0M449.5 310.5h0M461.1 315.4h0M436.3 319.1h0M437.5 304.0h0M446.4 276.6h0M434.8 320.4h0M449.0 319.8h0" stroke="#4c72b0" stroke-opacity="0.18" stroke-width="1.5" stroke-linecap="round" fill="none"/>
<path d="M470.9 291.8h0M457.9 297.3h0M460.9 322.7h0M480.2 297.3h0M449.5 304.7h0M444.2 306.6h0M436.9 309.4h0M477.6 315.4h0M445.7 316.3h0M426.4 295.3h0M434.1 297.4h0M430.6 326.5h0M456.4 289.6h0M449.6 324.8h0M423.4 326.9h0M443.7 312.6h0M452.2 306.0h0M444.2 309.0h0M454.2 322.5h0M450.8 323.3h0M452.2 304.0h0M454.8 329.4h0M467.9 319.3h0M491.2 303.7h0M435.1 307.2h0M423.7 314.1h0M428.1 315.9h0M444.3 317.1h0M454.9 310.9h0M441.9 319.3h0M440.1 311.7h0M448.4 298.6h0M447.6 307.0h0M452.8 305.0h0M449.8 316.1h0M456.9 317.5h0M436.0 325.9h0M446.6 297.1h0M432.5 326.8h0M428.8 313.0h0M434.1 323.4h0M428.1 324.6h0M461.4 296.4h0M478.3 318.1h0M456.3 318.7h0M428.2 330.4h0M444.9 323.1h0M457.3 310.4h0M467.4 311.3h0M460.8 299.5h0M467.0 311.0h0M429.0 302.4h0M472.3 307.0h0M432.6 303.9h0M471.9 310.4h0M441.5 302.8h0M452.5 292.0h0M420.1 324.5h0M463.1 320.1h0M437.1 298.2h0M436.8 327.2h0M487.2 302.6h0M433.4 307.1h0M453.3 315.0h0M443.0 302.8h0M466.0 302.4h0M453.9 317.6h0M446.0 315.4h0M450.1 332.8h0M459.2 304.9h0M437.2 324.0h0M440.3 330.9h0M450.1 312.3h0M457.8 303.7h0M447.4 312.7h0M452.6 315.7h0M453.0 296.1h0M433.8 316.0h0M435.5 329.5h0M444.8 307.7h0M441.1 313.7h0M432.0 329.2h0M441.3 319.0h0M458.9 309.0h0M451.1 311.1h0M430.0 327.6h0M476.2 308.1h0M434.5 313.2h0M461.5 310.2h0M458.8 307.0h0M467.4 300.6h0M440.0 325.7h0M466.8 318.5h0M474.4 314.1h0M438.3 310.6h0M448.6 318.0h0M461.9 325.2h0M439.9 309.9h0M426.8 322.6h0M440.7 287.5h0M435.6 329.8h0M435.9 320.6h0M422.9 320.2h0M446.0 307.6h0M467.9 323.4h0M456.2 311.0h0M451.9 302.3h0M458.6 303.9h0M445.8 295.5h0M471.0 308.1h0M422.6 320.4h0M448.7 307.9h0M450.9 312.9h0M450.7 297.5h0M423.0 323.8h0M428.3 302.0h0M443.9 320.3h0M446.0 306.9h0M473.3 304.3h0M435.9 327.4h0M445.6 318.9h0M450.2 316.9h0M430.0 314.2h0M436.3 318.9h0M457.4 306.8h0M447.6 324.4h0M483.1 326.1h0M440.9 327.1h0M429.4 311.5h0M449.2 314.7h0M439.2 323.8h0M451.1 293.4h0M445.4 305.8h0M451.8 293.1h0M438.9 328.7h0M417.0 311.3h0M468.9 312.4h0M427.0 314.2h0M440.8 317.0h0M432.8 315.5h0M459.8 317.2h0M446.0 305.5h0M436.4 320.4h0M449.8 311.3h0M461.5 305.1h0M446.1 335.3h0M430.1 306.9h0M424.2 316.0h0M448.3 301.4h0M426.8 326.5h0M446.4 308.6h0M426.9 329.0h0M460.1 307.6h0M432.4 302.4h0M446.4 314.1h0M452.4 305.8h0M448.1 319.4h0M432.0 328.8h0M457.6 307.2h0M448.5 309.6h0M439.2 328.4h0M461.4 312.9h0M418.3 317.3h0M436.6 323.6h0M450.3 306.5h0M451.1 308.6h0" stroke="#4c72b0" stroke-opacity="0.18" stroke-width="1.5" stroke-linecap="round" fill="none"/>
<path d="M437.9 317.1h0M436.6 326.7h0M450.7 326.4h0M411.7 303.8h0M456.2 294.6h0M426.6 320.5h0M440.3 311.6h0M456.0 312.2h0M453.3 306.6h0M424.4 311.9h0M433.8 296.1h0M443.1 333.3h0M463.5 297.3h0M456.8 298.2h0M446.2 331.4h0M438.0 324.2h0M433.1 324.6h0M439.1 328.8h0M450.2 319.5h0M436.6 312.9h0M460.2 312.2h0M463.3 306.8h0M439.1 322.9h0M423.8 294.5h0M443.3 291.4h0M452.7 297.4h0M441.3 329.4h0M427.1 316.2h0M450.5 313.7h0M448.4 317.9h0M445.8 325.4h0M465.1 297.6h0M447.8 310.4h0M463.6 302.3h0M440.2 298.7h0M434.3 326.6h0M451.8 294.6h0M428.5 319.2h0M434.6 330.3h0M426.7 326.5h0M448.2 316.5h0M439.4 326.0h0M427.0 320.1h0M442.1 308.9h0M438.4 324.3h0M428.3 327.9h0M425.2 303.0h0M474.5 312.6h0M473.5 320.6h0M460.5 294.9h0M439.3 316.2h0M432.3 320.3h0M459.5 304.1h0M437.7 298.9h0M414.7 309.1h0M451.4 308.5h0M435.4 328.3h0M430.5 325.1h0M462.3 305.1h0M457.5 324.6h0M453.9 312.2h0M454.9 305.8h0M454.3 297.5h0M441.0 305.8h0M450.7 313.2h0M441.5 296.3h0M438.6 310.6h0M432.7 316.5h0M461.2 321.7h0M448.1 299.5h0M422.6 317.8h0M424.0 318.5h0M469.8 305.5h0M453.4 309.8h0M456.2 309.4h0M449.1 313.1h0M472.6 309.3h0M455.4 312.7h0M430.7 328.5h0M413.3 328.3h0M428.4 310.8h0M447.3 313.6h0M456.1 306.2h0M489.2 315.7h0M468.8 314.6h0M450.4 306.1h0M438.6 334.3h0M435.8 313.4h0M447.3 304.6h0M439.7 310.1h0M447.9 319.7h0M451.8 317.4h0M460.4 325.5h0M461.6 307.0h0M445.1 311.8h0M460.6 299.6h0M416.2 308.2h0M452.7 318.8h0M422.6 300.0h0M440.5 320.3h0M440.1 292.5h0M423.9 313.1h0M437.1 311.8h0M436.6 302.5h0M445.1 312.1h0M428.6 323.8h0M431.2 302.9h0M474.4 317.9h0M430.5 304.6h0M483.1 331.3h0M462.1 300.3h0M435.1 329.0h0M440.8 296.6h0M449.2 313.7h0M452.6 303.7h0M434.4 323.6h0M432.5 297.6h0M444.7 308.2h0M463.1 313.2h0M468.5 298.0h0M437.7 332.2h0M445.1 314.8h0M444.2 311.1h0M413.0 307.0h0M457.3 305.7h0M450.2 310.2h0M428.2 329.4h0M438.7 306.5h0M441.8 312.9h0M450.5 315.6h0M461.9 314.4h0M444.8 315.8h0M444.4 314.5h0M449.7 312.3h0M450.9 313.6h0M448.2 315.3h0M426.0 310.8h0M443.2 306.9h0M439.5 293.3h0M459.0 311.7h0M444.1 313.1h0M455.3 315.5h0M445.7 297.3h0M452.1 321.7h0M434.4 320.4h0M447.3 318.7h0M430.5 328.2h0M439.1 309.0h0M443.0 321.5h0M447.9 304.8h0M437.0 324.5h0M438.7 325.8h0M445.0 317.7h0M434.4 334.3h0M437.0 325.4h0M457.2 301.8h0M457.1 323.6h0M443.6 299.1h0M431.0 313.5h0M450.8 295.0h0M451.1 324.0h0M465.4 307.3h0M471.1 299.1h0M426.6 301.8h0M454.4 301.4h0M436.9 314.1h0" stroke="#4c72b0" stroke-opacity="0.18" stroke-width="1.5" stroke-linecap="round" fill="none"/>
</g>
<g>
<path d="M603.3 273.3L613.6 271.3L621.6 270.2L627.3 270.1L630.7 270.9L631.9 272.6L632.1 274.7L631.6 277.3L630.1 280.3L627.9 283.7L625.7 287.1L623.7 290.6L621.9 294.0L620.1 297.4L617.9 300.1L615.0 302.1L611.6 303.4L607.6 304.0L603.9 303.9L600.4 303.0L597.3 301.4L594.4 299.1L592.1 296.2L590.4 292.6L589.3 288.4L588.7 283.6L590.9 279.4L595.7 276.0Z" fill="#4c72b0" fill-opacity="0.5" filter="url(#t8)"/>
<path d="M578.7 282.3L583.3 281.7L587.4 281.5L591.1 281.6L594.4 282.1L597.3 283.0L599.6 284.4L601.3 286.2L602.4 288.6L603.0 291.4L603.1 294.2L602.9 296.9L602.1 299.6L601.0 302.1L599.4 304.0L597.4 305.1L595.0 305.6L592.1 305.3L589.6 305.5L587.3 306.2L585.3 307.4L583.6 309.1L581.9 310.6L580.1 311.9L578.4 313.0L576.7 313.9L575.3 313.9L574.1 313.0L573.1 311.3L572.4 308.7L571.9 305.4L571.7 301.4L571.6 296.7L571.7 291.3L572.9 287.1L575.3 284.1Z" fill="#4c72b0" fill-opacity="0.55" filter="url(#t15)"/>
<path d="M576.7 285.7L578.4 285.1L580.2 284.7L582.1 284.5L584.0 284.5L586.0 284.6L587.7 285.0L589.0 285.7L590.0 286.7L590.7 288.0L591.0 289.4L591.0 290.7L590.5 292.1L589.7 293.6L588.7 295.0L587.4 296.4L585.9 297.9L584.1 299.3L582.6 300.7L581.3 302.2L580.3 303.7L579.5 305.3L578.6 306.2L577.8 306.6L576.9 306.4L576.0 305.6L575.3 303.9L574.7 301.3L574.4 297.7L574.3 293.3L574.7 289.8L575.5 287.3Z" fill="#4c72b0" fill-opacity="0.7" filter="url(#t70)"/>
<path d="M575.6 285.6L576.8 285.3L577.9 285.4L578.7 286.0L579.2 287.1L579.6 288.7L579.8 290.4L579.8 292.2L579.7 294.1L579.5 296.1L579.3 298.1L579.0 300.1L578.7 302.1L578.3 304.1L577.9 305.7L577.4 306.7L576.8 307.3L576.1 307.4L575.5 307.0L575.0 306.0L574.5 304.4L574.2 302.3L573.9 299.9L573.8 297.2L573.7 294.3L573.7 291.0L574.0 288.5L574.6 286.7Z" fill="#4c72b0" fill-opacity="0.9" filter="url(#t85)"/>
<path d="M595.6 293.1L597.1 293.3L598.2 293.9L599.0 295.2L599.5 297.0L599.6 299.4L599.3 301.3L598.8 302.6L597.9 303.4L596.6 303.6L595.6 303.1L594.8 301.8L594.2 299.8L593.9 297.1L594.0 295.1L594.5 293.7Z" fill="#4c72b0" fill-opacity="0.8" filter="url(#t70)"/>
<path d="M574.9 273.1L576.4 272.1L578.1 271.2L579.8 270.4L581.7 269.8L583.7 269.3L585.7 268.9L587.7 268.8L589.7 268.8L591.7 268.9L593.4 269.3L594.7 269.8L595.7 270.4L596.3 271.2L596.6 272.0L596.5 272.9L596.1 273.8L595.4 274.7L594.3 275.5L592.9 276.3L591.2 277.0L589.1 277.6L587.0 278.3L585.0 278.9L582.9 279.5L580.7 280.1L578.9 280.6L577.2 280.8L575.8 280.7L574.6 280.5L573.7 280.0L573.0 279.2L572.7 278.1L572.6 276.7L573.0 275.5L573.7 274.3Z" fill="#4c72b0" fill-opacity="0.97" filter="url(#b)"/>
<path d="M591.4 290.0h0M586.9 283.8h0M572.2 282.0h0M575.2 272.9h0M594.0 280.3h0M596.3 297.3h0M591.8 269.0h0M596.2 301.7h0M576.5 271.4h0M587.2 266.7h0M577.5 281.4h0M589.7 278.4h0M579.4 280.4h0M594.5 269.6h0M577.9 291.4h0M595.8 298.0h0M574.8 268.2h0M584.7 281.2h0M593.6 268.4h0M595.3 302.8h0M577.5 280.5h0M583.5 268.7h0M590.7 290.4h0M597.9 271.7h0M591.2 290.8h0M588.6 264.1h0M591.7 278.9h0M590.7 277.2h0M576.1 281.0h0M589.1 277.4h0M597.2 298.2h0M596.0 295.3h0M571.0 274.2h0M592.6 266.4h0M573.0 270.3h0M595.3 274.9h0M595.7 300.7h0M594.6 277.9h0M576.2 271.0h0M593.9 295.9h0M584.0 286.0h0M579.3 281.2h0M572.5 279.4h0M598.2 303.1h0M594.6 298.8h0M591.1 265.5h0M599.6 271.2h0M589.0 278.2h0M594.0 269.0h0M597.0 276.1h0M594.9 299.1h0M595.3 306.5h0M583.4 295.8h0M596.1 276.1h0M575.1 270.5h0M588.4 293.3h0M593.2 288.6h0M596.8 301.1h0M595.3 303.9h0M589.0 278.2h0M594.9 299.8h0M569.5 276.3h0M595.4 300.3h0M593.5 292.4h0M597.7 275.6h0M590.4 277.5h0M590.2 280.0h0M598.1 261.8h0M583.5 280.5h0M576.4 272.1h0M588.7 266.7h0M594.7 301.7h0M596.4 269.1h0M595.5 296.3h0M596.3 297.6h0M591.2 288.2h0M597.9 296.9h0M598.8 298.1h0M575.7 272.3h0M596.6 298.7h0M587.7 268.5h0M590.8 268.0h0M596.0 302.4h0M588.4 288.3h0M575.3 281.8h0M577.7 271.7h0M571.7 276.5h0M586.8 287.1h0M581.8 269.9h0M581.7 280.1h0M598.5 298.6h0M584.6 267.7h0M591.8 261.3h0M570.6 277.0h0M600.6 300.8h0M596.5 297.3h0M593.0 269.2h0M597.5 299.1h0M596.7 298.7h0M588.4 278.8h0M583.4 290.9h0M597.2 293.1h0M593.3 276.1h0M595.9 297.6h0M584.5 267.4h0M591.9 268.6h0M595.0 296.2h0M581.9 283.6h0M581.1 269.6h0M592.8 299.6h0M596.7 293.0h0M579.0 270.9h0M597.9 297.6h0M588.5 287.3h0M573.7 271.1h0M598.9 296.0h0M596.4 297.0h0M587.8 296.1h0M596.7 300.1h0M597.1 295.6h0M595.8 274.8h0M582.3 269.5h0M594.8 275.0h0M596.0 270.1h0M576.5 272.3h0M595.5 269.9h0M595.2 275.9h0M581.5 279.7h0M581.0 267.5h0M593.3 296.7h0M597.1 270.8h0M597.3 301.5h0M573.9 283.1h0M583.6 280.8h0M576.2 270.1h0M580.3 280.4h0M585.5 290.9h0" stroke="#4c72b0" stroke-opacity="0.3" stroke-width="1.5" stroke-linecap="round" fill="none"/>
<path d="M585.5 294.6h0M587.9 268.7h0M570.3 275.9h0M593.3 269.2h0M597.8 297.3h0M593.9 296.4h0M572.5 276.0h0M582.7 288.5h0M585.3 268.9h0M584.8 290.1h0M590.7 283.3h0M582.4 266.6h0M580.8 281.2h0M588.8 291.9h0M592.5 294.9h0M585.3 268.2h0M583.2 289.6h0M581.1 291.0h0M590.1 280.3h0M596.0 275.7h0M575.6 270.1h0M586.8 280.5h0M577.9 271.5h0M586.4 280.7h0M585.7 266.3h0M596.1 275.9h0M595.0 276.1h0M573.2 279.6h0M594.5 291.8h0M576.5 271.8h0M570.9 274.7h0M597.0 299.7h0M576.9 287.1h0M587.0 268.3h0M585.3 282.0h0M594.7 276.2h0M577.3 271.9h0M594.6 269.9h0M571.7 282.0h0M588.4 279.7h0M596.6 295.8h0M585.2 290.8h0M583.3 269.5h0M579.2 268.2h0M583.9 289.5h0M583.6 292.1h0M597.7 295.6h0M592.0 278.4h0M580.2 289.6h0M594.3 299.4h0M595.5 302.5h0M582.4 280.4h0M584.6 266.0h0M599.6 273.9h0M592.5 276.2h0M572.6 277.1h0M593.4 276.1h0M595.8 270.4h0M574.4 272.8h0M581.8 266.6h0M594.5 296.2h0M589.7 277.6h0M597.4 294.9h0M580.5 269.9h0M592.3 276.3h0M593.4 276.5h0M584.3 279.7h0M571.2 273.9h0M597.6 272.5h0M585.0 281.9h0M595.0 301.9h0M597.2 295.4h0M589.5 286.4h0M587.8 278.4h0M574.2 280.7h0M579.6 280.9h0M580.9 280.6h0M595.1 295.1h0M591.6 277.5h0M591.7 280.8h0M595.4 268.1h0M587.0 290.7h0M572.8 274.7h0M581.1 270.0h0M596.4 272.8h0M594.8 298.5h0M576.3 269.5h0M575.7 272.9h0M574.8 272.7h0M596.9 300.4h0M592.1 277.3h0M585.4 279.3h0M596.1 299.7h0M592.1 290.2h0M594.5 301.2h0M581.7 291.8h0M586.2 267.1h0M589.0 294.5h0M595.0 275.6h0M581.6 281.2h0M598.6 301.3h0M597.4 298.6h0M593.8 277.2h0M587.3 269.0h0M591.9 277.7h0M583.4 289.1h0M588.9 277.4h0M594.6 277.9h0M595.0 277.2h0M592.4 277.1h0M580.8 269.4h0M595.3 301.4h0M598.7 297.7h0M587.2 268.8h0M577.2 271.1h0M585.3 268.3h0M573.1 271.3h0M593.3 299.3h0M588.2 280.0h0M576.7 281.9h0M572.9 277.2h0M593.9 276.7h0M587.7 266.9h0M596.3 303.5h0M586.1 281.3h0M584.9 291.7h0M585.2 292.4h0M589.5 283.4h0M582.2 279.4h0M597.3 299.6h0M587.2 289.1h0M590.1 290.0h0M584.2 282.1h0M598.7 300.0h0M582.7 269.0h0M594.0 290.6h0" stroke="#4c72b0" stroke-opacity="0.3" stroke-width="1.5" stroke-linecap="round" fill="none"/>
<path d="M573.4 274.7h0M595.6 294.7h0M584.9 283.6h0M596.0 270.1h0M576.4 280.7h0M574.1 272.0h0M586.6 278.7h0M594.0 299.3h0M598.7 304.8h0M572.0 279.3h0M572.4 274.4h0M596.8 271.4h0M577.0 294.0h0M573.6 289.8h0M595.5 301.2h0M588.4 279.3h0M596.6 276.7h0M594.6 275.5h0M584.5 267.9h0M590.1 277.8h0M597.5 294.5h0M586.0 267.5h0M596.7 275.0h0M579.9 270.7h0M573.0 279.8h0M582.0 269.6h0M596.5 300.3h0M586.7 291.5h0M597.9 299.0h0M583.3 290.0h0M598.3 278.4h0M590.3 280.2h0M596.1 277.1h0M573.7 272.5h0M580.7 289.5h0M583.2 289.6h0M596.7 297.8h0M577.2 280.7h0M578.2 282.3h0M591.0 277.0h0M593.5 275.7h0M588.8 268.1h0M597.1 293.5h0M582.0 284.4h0M576.4 281.6h0M575.3 270.3h0M593.4 276.6h0M596.6 301.1h0M588.1 265.4h0M592.2 278.2h0M593.1 300.9h0M579.0 268.2h0M591.6 268.3h0M586.6 281.4h0M593.5 298.6h0M583.3 279.8h0M589.1 291.3h0M571.2 275.2h0M572.7 277.3h0M597.2 296.1h0M580.9 269.6h0M571.8 274.1h0M600.7 304.1h0M584.2 280.7h0M582.9 280.5h0M573.0 273.5h0M597.5 294.6h0M572.5 271.0h0M585.3 280.6h0M582.9 280.7h0M587.6 278.7h0M588.3 268.7h0M582.9 289.5h0M592.6 269.3h0M586.1 287.5h0M590.4 281.1h0M597.0 271.5h0M583.7 283.7h0M590.1 293.4h0M597.2 301.5h0M581.6 287.3h0M593.2 277.6h0M589.3 277.7h0M599.2 269.8h0M597.8 301.4h0M576.3 280.7h0M576.7 271.0h0M596.0 275.0h0M583.9 294.2h0M588.5 267.0h0M579.1 291.5h0M578.2 270.9h0M598.3 274.8h0M594.3 267.2h0M594.5 296.6h0M590.3 277.5h0M571.7 271.5h0M592.3 276.6h0M571.9 274.3h0M581.0 289.8h0M596.6 275.0h0M573.3 279.6h0M572.6 279.4h0M579.2 282.1h0M597.3 273.4h0M575.4 271.0h0M585.0 269.3h0M597.3 300.9h0M597.5 276.2h0M575.4 281.5h0M585.4 286.2h0M584.0 262.9h0M582.7 279.5h0M597.6 272.5h0M580.6 280.2h0M581.1 270.2h0M593.8 300.0h0M585.7 268.8h0M595.5 270.1h0M573.2 274.8h0M592.9 276.8h0M584.2 289.0h0M585.1 279.7h0M577.0 269.9h0M594.6 296.4h0M598.0 293.6h0M572.7 275.0h0M586.0 295.5h0M581.5 270.2h0M576.5 271.7h0M587.5 278.0h0M579.5 269.2h0M597.0 299.7h0M576.2 291.2h0M593.0 291.3h0M595.7 301.1h0" stroke="#4c72b0" stroke-opacity="0.3" stroke-width="1.5" stroke-linecap="round" fill="none"/>
<path d="M607.7 272.1h0M616.9 272.3h0M606.2 271.0h0M603.9 272.4h0M610.4 272.9h0M610.7 271.4h0M597.1 270.7h0M611.4 272.3h0M614.1 271.8h0M609.0 271.5h0M607.2 271.6h0M611.3 270.9h0M626.4 272.4h0M605.7 272.5h0M604.0 273.0h0M609.0 270.1h0M596.2 275.1h0M604.0 269.7h0M606.2 270.5h0M617.6 273.2h0M615.2 273.4h0M602.3 271.2h0M607.2 272.4h0M601.7 273.9h0M597.3 270.7h0M602.9 270.6h0M604.9 274.3h0M608.3 272.2h0M627.6 273.1h0M602.4 270.3h0M598.5 271.9h0M608.7 272.6h0M595.9 273.0h0M617.3 273.7h0M601.9 270.2h0M603.0 270.8h0M607.3 271.1h0M597.0 271.3h0M603.9 276.2h0M607.5 272.1h0M606.5 271.1h0M601.9 268.2h0M603.9 271.3h0M613.1 274.9h0M600.7 274.5h0M609.9 271.9h0M598.4 272.6h0M594.4 270.9h0M609.0 271.0h0M596.4 273.7h0M623.1 272.1h0M617.8 272.0h0M613.3 272.1h0M624.2 273.8h0M602.1 273.2h0M585.9 270.6h0M613.9 270.6h0M606.6 274.2h0M606.2 271.0h0M609.7 271.4h0M603.5 271.5h0M600.5 272.9h0M615.6 274.6h0M589.4 267.9h0M599.6 271.7h0M602.5 272.4h0M602.1 271.0h0M598.8 269.1h0M603.8 272.7h0M598.8 270.6h0M623.4 282.8h0M604.2 269.3h0M602.7 273.5h0M605.3 270.3h0M602.6 276.2h0M605.2 271.9h0M590.3 273.8h0M620.8 274.0h0M598.5 271.1h0M625.7 281.1h0" stroke="#4c72b0" stroke-opacity="0.25" stroke-width="1.5" stroke-linecap="round" fill="none"/>
<path d="M631.4 270.8h0M612.5 271.7h0M617.4 272.0h0M601.0 272.1h0M597.0 274.8h0M605.0 270.3h0M601.1 270.3h0M589.4 270.4h0M608.5 273.3h0M615.8 271.6h0M613.7 269.7h0M611.6 272.3h0M606.0 274.2h0M604.9 276.3h0M611.7 273.0h0M637.4 273.6h0M602.2 274.2h0M606.1 271.7h0M599.4 270.5h0M622.2 271.8h0M597.9 269.9h0M597.6 269.8h0M611.3 270.9h0M601.9 273.6h0M612.2 275.2h0M602.3 272.8h0M624.0 271.6h0M601.7 270.2h0M607.6 271.1h0M626.2 285.4h0M607.0 271.5h0M616.4 269.9h0M609.0 270.5h0M597.2 274.6h0M628.6 271.5h0M616.4 273.5h0M596.3 271.4h0M604.6 274.0h0M616.1 272.3h0M626.3 273.5h0M605.9 270.4h0M619.9 272.9h0M624.8 273.5h0M608.0 271.7h0M596.5 272.7h0M589.7 271.4h0M604.3 271.9h0M605.1 269.9h0M627.5 274.4h0M607.6 272.3h0M614.4 273.4h0M599.7 274.9h0M601.1 272.4h0M615.0 271.3h0M626.6 271.9h0M603.4 271.3h0M601.7 272.6h0M616.1 271.5h0M604.2 271.4h0M603.7 273.2h0M617.3 272.0h0M628.9 272.2h0M602.1 269.7h0M601.3 270.7h0M603.0 273.4h0M620.5 272.7h0M611.4 271.3h0M618.5 271.9h0M624.7 271.9h0M596.9 273.2h0M598.8 272.1h0M602.0 271.4h0M614.7 271.8h0M602.4 271.5h0M614.2 273.1h0M625.4 286.9h0M590.8 269.3h0M624.9 272.1h0M626.6 284.7h0" stroke="#4c72b0" stroke-opacity="0.25" stroke-width="1.5" stroke-linecap="round" fill="none"/>
<path d="M608.5 272.4h0M588.6 272.2h0M622.9 286.2h0M598.5 270.2h0M620.6 273.6h0M603.5 275.0h0M611.7 272.6h0M604.4 270.2h0M612.4 271.9h0M596.5 271.0h0M620.0 273.2h0M612.5 270.8h0M626.0 275.2h0M621.2 271.0h0M618.6 271.0h0M610.0 270.7h0M597.0 272.1h0M599.2 272.9h0M601.4 273.8h0M603.5 271.2h0M609.1 271.7h0M619.5 271.8h0M620.5 271.6h0M619.0 270.4h0M609.5 272.5h0M592.2 272.6h0M615.5 271.9h0M615.8 271.7h0M609.4 273.0h0M614.7 271.4h0M594.0 269.6h0M609.5 270.6h0M589.7 275.6h0M597.5 271.5h0M608.2 272.3h0M626.5 283.9h0M592.1 271.0h0M601.5 275.0h0M598.9 271.1h0M617.7 271.3h0M600.9 272.1h0M612.7 270.2h0M609.1 271.5h0M599.8 271.7h0M606.3 270.0h0M602.5 275.3h0M603.3 272.1h0M620.0 270.2h0M628.9 274.4h0M615.1 271.3h0M628.3 274.3h0M601.9 270.2h0M590.5 272.3h0M593.9 271.0h0M632.9 272.8h0M600.1 273.0h0M618.6 270.7h0M608.6 271.7h0M608.9 270.1h0M624.5 284.7h0M620.1 270.0h0M603.6 271.4h0M599.4 272.4h0M599.4 269.7h0M612.0 269.6h0M595.3 275.8h0M610.2 271.2h0M612.9 272.8h0M603.3 269.7h0M602.9 271.5h0M593.1 271.9h0M595.0 273.1h0M599.4 273.6h0M622.8 270.3h0M614.4 272.9h0M592.5 272.4h0M611.9 273.4h0M609.1 271.0h0M597.6 270.2h0" stroke="#4c72b0" stroke-opacity="0.25" stroke-width="1.5" stroke-linecap="round" fill="none"/>
<path d="M576.2 295.3h0M575.4 290.8h0M574.1 297.9h0M575.3 298.6h0M575.4 296.6h0M576.9 293.3h0M578.7 295.6h0M575.2 294.2h0M573.3 305.7h0M574.4 296.1h0M575.1 297.3h0M574.7 285.2h0M577.6 292.6h0M576.3 293.2h0M574.1 285.0h0M574.9 292.6h0M575.9 305.5h0M575.6 294.1h0M576.3 293.9h0M575.8 289.2h0M574.1 307.8h0M576.5 301.5h0M574.5 304.6h0M576.2 287.7h0M576.6 292.3h0M575.3 301.1h0M575.3 288.5h0M576.9 297.7h0M576.1 291.0h0M575.4 293.6h0M575.7 306.1h0M576.9 300.7h0M576.6 293.7h0M575.9 300.5h0M576.8 294.8h0M576.6 302.8h0M573.2 300.7h0M574.5 291.0h0M576.8 289.9h0M576.2 299.6h0M576.5 292.4h0M576.9 292.5h0M576.1 300.0h0M576.0 288.5h0M575.7 284.0h0M572.0 290.0h0M575.9 303.5h0M574.9 296.7h0M574.9 304.1h0M577.2 303.0h0M574.9 292.1h0M574.5 299.2h0M575.1 304.6h0M576.5 300.2h0M574.3 292.4h0M577.1 301.6h0M576.4 299.5h0M576.7 294.7h0M574.1 291.8h0M575.9 301.3h0M576.0 299.8h0M575.9 300.7h0M574.9 303.5h0M576.5 299.2h0M574.1 298.1h0M575.2 293.1h0M576.0 308.9h0M575.6 292.7h0M574.1 294.7h0M575.7 302.6h0M576.0 288.1h0M575.0 300.1h0M575.7 297.5h0M576.0 298.1h0M576.4 294.4h0M576.8 305.6h0M575.4 293.7h0M574.7 295.5h0M576.5 293.0h0M576.1 308.5h0M575.3 294.0h0M576.1 308.7h0M576.8 305.0h0M574.7 305.1h0M575.7 290.7h0M574.7 303.4h0M575.9 293.0h0" stroke="#4c72b0" stroke-opacity="0.35" stroke-width="1.5" stroke-linecap="round" fill="none"/>
<path d="M577.1 294.3h0M576.3 295.3h0M574.9 292.6h0M576.2 302.8h0M574.2 291.7h0M575.4 299.6h0M576.8 302.8h0M576.6 303.1h0M577.2 298.8h0M574.8 299.0h0M576.2 284.8h0M574.0 301.4h0M577.0 296.2h0M574.6 294.2h0M575.6 296.1h0M575.0 289.5h0M576.0 304.5h0M576.4 298.4h0M577.0 303.6h0M574.9 302.9h0M575.5 298.3h0M576.0 304.6h0M577.0 302.9h0M575.6 308.8h0M576.2 296.1h0M576.1 298.2h0M576.3 302.8h0M576.5 305.3h0M576.8 302.9h0M575.8 298.5h0M574.9 292.9h0M575.5 298.5h0M574.7 300.8h0M573.2 289.5h0M575.0 288.8h0M574.4 295.8h0M575.6 300.1h0M576.5 289.6h0M575.7 306.0h0M575.6 302.5h0M575.6 300.3h0M576.6 303.9h0M576.6 309.2h0M572.2 300.8h0M577.1 285.7h0M576.0 301.3h0M576.1 294.3h0M574.9 297.0h0M575.5 287.1h0M576.0 282.8h0M576.2 290.8h0M576.8 291.5h0M573.9 297.5h0M574.3 299.6h0M575.4 301.1h0M575.9 302.7h0M576.7 305.9h0M576.4 288.6h0M577.1 292.6h0M575.3 287.8h0M574.7 297.1h0M576.3 298.4h0M578.0 290.4h0M575.6 296.7h0M575.1 288.6h0M574.4 286.1h0M576.6 295.7h0M576.0 285.3h0M576.5 295.0h0M575.1 290.3h0M573.8 294.6h0M576.3 296.6h0M576.0 298.1h0M576.5 305.4h0M575.5 293.2h0M574.4 287.4h0M576.6 295.5h0M574.9 296.2h0M575.2 292.7h0M575.9 299.4h0M576.1 292.6h0M574.6 297.1h0M575.6 298.9h0M573.7 302.1h0M576.2 296.1h0M574.8 298.1h0M575.4 306.3h0" stroke="#4c72b0" stroke-opacity="0.35" stroke-width="1.5" stroke-linecap="round" fill="none"/>
<path d="M575.2 307.6h0M575.2 303.0h0M574.6 303.9h0M575.7 297.2h0M576.4 296.5h0M574.9 297.8h0M573.3 280.0h0M576.2 287.7h0M575.6 306.6h0M573.9 300.3h0M574.4 300.1h0M576.8 293.2h0M577.7 302.0h0M574.7 290.3h0M577.0 298.8h0M574.6 290.0h0M576.6 306.1h0M573.5 301.2h0M574.3 301.7h0M575.9 293.7h0M575.7 297.4h0M575.4 294.3h0M576.5 300.9h0M576.3 296.4h0M576.1 290.1h0M576.5 298.8h0M576.1 300.4h0M577.3 293.5h0M576.6 291.8h0M574.3 295.8h0M574.7 300.0h0M576.4 296.1h0M574.6 297.8h0M573.7 301.7h0M575.7 306.5h0M576.6 308.1h0M577.3 295.6h0M575.9 292.5h0M577.0 304.9h0M576.8 309.9h0M577.5 292.4h0M575.1 309.1h0M575.6 284.6h0M574.3 281.2h0M575.8 306.7h0M575.9 296.5h0M575.1 290.8h0M575.9 293.1h0M574.6 302.7h0M574.5 305.0h0M573.7 299.4h0M576.5 294.5h0M575.2 301.3h0M576.4 306.3h0M575.5 297.1h0M577.1 290.3h0M575.7 294.3h0M576.7 297.3h0M575.1 294.3h0M575.0 307.0h0M574.1 309.0h0M575.5 306.1h0M575.0 301.4h0M574.2 302.1h0M576.7 297.1h0M574.7 309.2h0M575.6 292.8h0M576.0 281.2h0M575.4 293.3h0M575.9 305.1h0M578.1 301.3h0M576.6 284.9h0M577.3 303.8h0M576.5 295.4h0M575.1 292.7h0M576.1 294.3h0M574.8 300.3h0M575.5 309.4h0M575.3 280.6h0M574.0 292.0h0M576.8 306.2h0M575.3 301.5h0M574.0 297.1h0M576.4 290.5h0M576.2 303.8h0M573.9 295.8h0" stroke="#4c72b0" stroke-opacity="0.35" stroke-width="1.5" stroke-linecap="round" fill="none"/>
<path d="M601.4 280.3h0M602.3 279.3h0M598.8 288.9h0M607.8 288.2h0M578.4 314.2h0M592.7 282.4h0M605.6 296.3h0M587.7 283.2h0M587.9 293.9h0M589.5 282.2h0M604.3 293.1h0M581.9 288.7h0M597.2 275.6h0M589.6 287.7h0M589.3 299.7h0M601.2 281.4h0M576.5 309.6h0M590.9 285.3h0M590.5 282.6h0M601.7 281.2h0M586.1 279.3h0M594.7 289.8h0M600.9 283.8h0M591.7 284.4h0M593.7 281.2h0M600.7 300.5h0M590.0 280.2h0M604.2 282.9h0M587.1 292.9h0M609.1 299.0h0M599.4 289.7h0M601.3 285.9h0M578.6 312.8h0M598.9 286.5h0M610.6 294.4h0M604.4 280.9h0M596.5 291.4h0M579.9 311.1h0M589.5 283.5h0M599.6 281.2h0M574.3 310.0h0M611.1 295.4h0M601.7 292.4h0M581.0 293.2h0M596.9 284.6h0M604.8 278.8h0M594.7 291.2h0M601.7 287.8h0M608.7 285.0h0M579.2 310.3h0" stroke="#4c72b0" stroke-opacity="0.2" stroke-width="1.5" stroke-linecap="round" fill="none"/>
<path d="M607.0 293.4h0M594.3 278.3h0M603.0 284.9h0M605.5 278.4h0M600.9 288.8h0M579.2 312.5h0M597.2 291.4h0M580.1 312.2h0M609.2 284.7h0M597.3 292.0h0M607.8 293.8h0M576.6 310.9h0M578.1 308.5h0M594.9 291.6h0M592.7 285.2h0M582.7 284.9h0M597.4 288.8h0M578.0 296.1h0M574.1 313.6h0M605.6 283.4h0M610.5 276.8h0M604.4 275.8h0M590.1 285.5h0M586.7 298.0h0M594.8 290.0h0M580.6 313.7h0M573.5 292.9h0M580.6 274.8h0M612.7 283.3h0M592.2 289.0h0M612.1 304.3h0M624.0 297.3h0M605.7 281.2h0M605.0 279.7h0M578.0 311.4h0M599.4 293.0h0M605.9 297.4h0M600.9 284.3h0M618.1 287.3h0M603.9 284.3h0M617.5 279.8h0M600.5 281.7h0M592.2 282.8h0M604.1 278.3h0M588.7 280.1h0M619.7 287.7h0M580.4 310.4h0M593.1 282.8h0M592.6 279.0h0M600.8 292.9h0M589.3 292.3h0" stroke="#4c72b0" stroke-opacity="0.2" stroke-width="1.5" stroke-linecap="round" fill="none"/>
<path d="M604.2 293.9h0M605.2 279.8h0M578.5 311.4h0M582.7 282.5h0M604.9 287.1h0M610.6 295.5h0M590.0 281.5h0M593.8 286.8h0M588.3 296.2h0M608.9 294.8h0M606.9 289.8h0M630.8 282.6h0M608.0 287.0h0M577.0 314.2h0M586.2 281.3h0M612.9 295.6h0M575.3 313.2h0M576.4 311.8h0M579.0 309.7h0M605.7 296.8h0M601.9 287.5h0M579.2 313.2h0M590.9 277.4h0M576.2 281.4h0M597.9 292.3h0M575.9 308.4h0M576.2 310.0h0M609.9 296.0h0M585.8 284.9h0M604.6 282.2h0M605.3 291.5h0M589.5 290.5h0M609.4 282.2h0M606.6 274.8h0M587.4 283.6h0M579.1 310.1h0M584.6 290.0h0M589.5 283.0h0M610.3 288.6h0M611.3 288.3h0M615.6 286.2h0M577.5 313.2h0M589.9 283.0h0M585.6 292.4h0M598.2 303.0h0M613.9 286.2h0M595.0 277.2h0M601.1 279.8h0M580.3 311.2h0M611.5 291.2h0M611.8 285.3h0" stroke="#4c72b0" stroke-opacity="0.2" stroke-width="1.5" stroke-linecap="round" fill="none"/>
</g>
<g stroke="#262626" stroke-width="2.4" fill="none" stroke-linecap="butt">
<path d="M79.5 22.7V154.7M78.3 153.5H196.7"/>
<path d="M67.9 153.5H79.5M67.9 78.4H79.5M104.2 153.5V164.9M150.7 153.5V164.9"/>
<path d="M242.2 22.7V154.7M241.0 153.5H359.4"/>
<path d="M230.6 153.5H242.2M230.6 78.4H242.2M262.8 153.5V164.9M318.0 153.5V164.9"/>
<path d="M404.8 22.7V154.7M403.6 153.5H522.0"/>
<path d="M393.2 153.5H404.8M393.2 78.4H404.8M406.8 153.5V164.9M444.9 153.5V164.9M482.9 153.5V164.9M521.0 153.5V164.9"/>
<path d="M567.6 22.7V154.7M566.4 153.5H684.8000000000001"/>
<path d="M556.0 153.5H567.6M556.0 78.4H567.6M581.3 153.5V164.9M637.4 153.5V164.9"/>
<path d="M79.5 225.1V357.09999999999997M78.3 355.9H196.7"/>
<path d="M67.9 355.9H79.5M67.9 280.8H79.5M82.2 355.9V367.3M186.4 355.9V367.3"/>
<path d="M242.2 225.1V357.09999999999997M241.0 355.9H359.4"/>
<path d="M230.6 355.9H242.2M230.6 280.8H242.2M257.6 355.9V367.3M315.4 355.9V367.3"/>
<path d="M404.8 225.1V357.09999999999997M403.6 355.9H522.0"/>
<path d="M393.2 355.9H404.8M393.2 280.8H404.8M421.5 355.9V367.3M489.3 355.9V367.3"/>
<path d="M567.6 225.1V357.09999999999997M566.4 355.9H684.8000000000001"/>
<path d="M556.0 355.9H567.6M556.0 280.8H567.6M593.0 355.9V367.3M657.4 355.9V367.3"/>
</g>
<g fill="#262626" font-family="'Liberation Sans', Arial, sans-serif" font-size="20.6px" stroke="#262626" stroke-width="0.4" stroke-linejoin="round">
<text transform="translate(137.5 16.7) scale(1 1.04)" text-anchor="middle" font-size="22.5px">C-C</text>
<text transform="translate(104.5 184.1) scale(1 1.04)" text-anchor="middle" font-size="20.6px">1.4</text>
<text transform="translate(151.0 184.1) scale(1 1.04)" text-anchor="middle" font-size="20.6px">1.5</text>
<text transform="translate(63.7 160.8) scale(1 1.04)" text-anchor="end" font-size="20.6px">0</text>
<text transform="translate(63.7 85.7) scale(1 1.04)" text-anchor="end" font-size="20.6px">100</text>
<text x="85.1" y="147.0" font-family="'DejaVu Sans', sans-serif" font-size="14.7px" stroke-width="0.2"><tspan font-style="italic">ρ</tspan><tspan dx="3.5">=</tspan><tspan dx="6.5">−</tspan><tspan dx="3.1">0.867</tspan></text>
<text transform="translate(300.2 16.7) scale(1 1.04)" text-anchor="middle" font-size="22.5px">C-H</text>
<text transform="translate(263.1 184.1) scale(1 1.04)" text-anchor="middle" font-size="20.6px">1.07</text>
<text transform="translate(318.3 184.1) scale(1 1.04)" text-anchor="middle" font-size="20.6px">1.10</text>
<text x="247.8" y="147.0" font-family="'DejaVu Sans', sans-serif" font-size="14.7px" stroke-width="0.2"><tspan font-style="italic">ρ</tspan><tspan dx="3.5">=</tspan><tspan dx="6.5">−</tspan><tspan dx="3.1">0.669</tspan></text>
<text transform="translate(462.8 16.7) scale(1 1.04)" text-anchor="middle" font-size="22.5px">C-N</text>
<text transform="translate(407.1 184.1) scale(1 1.04)" text-anchor="middle" font-size="20.6px">1.3</text>
<text transform="translate(445.2 184.1) scale(1 1.04)" text-anchor="middle" font-size="20.6px">1.4</text>
<text transform="translate(483.2 184.1) scale(1 1.04)" text-anchor="middle" font-size="20.6px">1.5</text>
<text transform="translate(521.3 184.1) scale(1 1.04)" text-anchor="middle" font-size="20.6px">1.6</text>
<text x="410.4" y="147.0" font-family="'DejaVu Sans', sans-serif" font-size="14.7px" stroke-width="0.2"><tspan font-style="italic">ρ</tspan><tspan dx="3.5">=</tspan><tspan dx="6.5">−</tspan><tspan dx="3.1">0.647</tspan></text>
<text transform="translate(625.6 16.7) scale(1 1.04)" text-anchor="middle" font-size="22.5px">C-O</text>
<text transform="translate(581.6 184.1) scale(1 1.04)" text-anchor="middle" font-size="20.6px">1.3</text>
<text transform="translate(637.7 184.1) scale(1 1.04)" text-anchor="middle" font-size="20.6px">1.4</text>
<text x="573.2" y="147.0" font-family="'DejaVu Sans', sans-serif" font-size="14.7px" stroke-width="0.2"><tspan font-style="italic">ρ</tspan><tspan dx="3.5">=</tspan><tspan dx="6.5">−</tspan><tspan dx="3.1">0.636</tspan></text>
<text transform="translate(137.5 219.1) scale(1 1.04)" text-anchor="middle" font-size="22.5px">H-N</text>
<text transform="translate(82.5 386.5) scale(1 1.04)" text-anchor="middle" font-size="20.6px">1.00</text>
<text transform="translate(186.7 386.5) scale(1 1.04)" text-anchor="middle" font-size="20.6px">1.05</text>
<text transform="translate(63.7 363.2) scale(1 1.04)" text-anchor="end" font-size="20.6px">0</text>
<text transform="translate(63.7 288.1) scale(1 1.04)" text-anchor="end" font-size="20.6px">100</text>
<text x="85.1" y="349.4" font-family="'DejaVu Sans', sans-serif" font-size="14.7px" stroke-width="0.2"><tspan font-style="italic">ρ</tspan><tspan dx="3.5">=</tspan><tspan dx="6.5">−</tspan><tspan dx="3.1">0.385</tspan></text>
<text transform="translate(300.2 219.1) scale(1 1.04)" text-anchor="middle" font-size="22.5px">N-N</text>
<text transform="translate(257.9 386.5) scale(1 1.04)" text-anchor="middle" font-size="20.6px">1.3</text>
<text transform="translate(315.7 386.5) scale(1 1.04)" text-anchor="middle" font-size="20.6px">1.4</text>
<text x="247.8" y="349.4" font-family="'DejaVu Sans', sans-serif" font-size="14.7px" stroke-width="0.2"><tspan font-style="italic">ρ</tspan><tspan dx="3.5">=</tspan><tspan dx="3.5">0.453</tspan></text>
<text transform="translate(462.8 219.1) scale(1 1.04)" text-anchor="middle" font-size="22.5px">N-O</text>
<text transform="translate(421.8 386.5) scale(1 1.04)" text-anchor="middle" font-size="20.6px">1.35</text>
<text transform="translate(489.6 386.5) scale(1 1.04)" text-anchor="middle" font-size="20.6px">1.45</text>
<text x="410.4" y="349.4" font-family="'DejaVu Sans', sans-serif" font-size="14.7px" stroke-width="0.2"><tspan font-style="italic">ρ</tspan><tspan dx="3.5">=</tspan><tspan dx="3.5">0.017</tspan></text>
<text transform="translate(625.6 219.1) scale(1 1.04)" text-anchor="middle" font-size="22.5px">O-H</text>
<text transform="translate(593.3 386.5) scale(1 1.04)" text-anchor="middle" font-size="20.6px">0.975</text>
<text transform="translate(657.7 386.5) scale(1 1.04)" text-anchor="middle" font-size="20.6px">1.025</text>
<text x="573.2" y="349.4" font-family="'DejaVu Sans', sans-serif" font-size="14.7px" stroke-width="0.2"><tspan font-style="italic">ρ</tspan><tspan dx="3.5">=</tspan><tspan dx="3.5">0.100</tspan></text>
<text transform="translate(383.8 415.5) scale(1 1.04)" text-anchor="middle" font-size="22.5px">Bond Length (Å)</text>
<text transform="translate(19.8 195.3) rotate(-90) scale(1 1.04)" text-anchor="middle" font-size="22.5px">BDE (kcal mol<tspan font-size="10.6px" dy="-11.3" dx="2">-1</tspan><tspan dy="11.3" dx="-0.5">)</tspan></text>
</g>
</svg>
</body></html>
